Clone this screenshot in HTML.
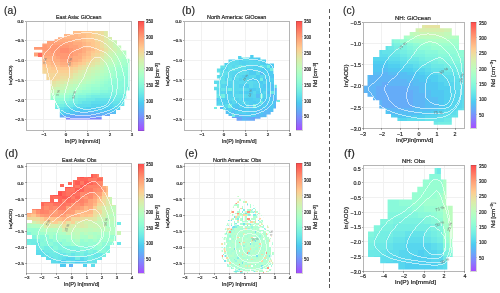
<!DOCTYPE html><html><head><meta charset="utf-8"><style>
html,body{margin:0;padding:0;background:#fff;width:500px;height:293px;overflow:hidden;}
body{position:relative;font-family:"Liberation Sans",sans-serif;color:#222;}
svg{position:absolute;left:0;top:0;}
.g{stroke:#efefef;stroke-width:0.9;}
.fr{fill:none;stroke:#a3a3a3;stroke-width:0.8;}
.tk{stroke:#555;stroke-width:0.5;}.tkc{stroke:#aaa;stroke-width:0.5;}
.ct{fill:none;stroke:#fff;stroke-width:0.75;stroke-opacity:0.8;}
.dl{stroke:#555;stroke-width:1.1;stroke-dasharray:3.7 2.55;}
.t{position:absolute;white-space:nowrap;line-height:1;}.cl{position:absolute;white-space:nowrap;line-height:1;color:#707070;font-family:"Liberation Sans",sans-serif;}
.t{color:#222;-webkit-text-stroke:0.2px #222;}
</style></head><body>
<svg width="500" height="293" viewBox="0 0 500 293" shape-rendering="crispEdges"><defs><linearGradient id="cbg" x1="0" y1="0" x2="0" y2="1"><stop offset="0" stop-color="#ff4d4d"/><stop offset="0.05" stop-color="#ff685b"/><stop offset="0.1" stop-color="#ff8468"/><stop offset="0.15" stop-color="#ff9e76"/><stop offset="0.2" stop-color="#ffb584"/><stop offset="0.25" stop-color="#ffcb91"/><stop offset="0.3" stop-color="#eddd9e"/><stop offset="0.35" stop-color="#dbecaa"/><stop offset="0.4" stop-color="#c9f6b5"/><stop offset="0.45" stop-color="#b8fdc0"/><stop offset="0.5" stop-color="#a6ffcb"/><stop offset="0.55" stop-color="#94fdd4"/><stop offset="0.6" stop-color="#82f6dd"/><stop offset="0.65" stop-color="#70ece5"/><stop offset="0.7" stop-color="#5eddec"/><stop offset="0.75" stop-color="#4dcbf1"/><stop offset="0.8" stop-color="#5eb5f6"/><stop offset="0.85" stop-color="#709efa"/><stop offset="0.9" stop-color="#8284fd"/><stop offset="0.95" stop-color="#9468fe"/><stop offset="1" stop-color="#a64dff"/></linearGradient></defs>
<g shape-rendering="crispEdges">
<line x1="43.83" y1="21" x2="43.83" y2="130.5" class="g"/>
<line x1="65.75" y1="21" x2="65.75" y2="130.5" class="g"/>
<line x1="87.67" y1="21" x2="87.67" y2="130.5" class="g"/>
<line x1="109.58" y1="21" x2="109.58" y2="130.5" class="g"/>
<line x1="26.3" y1="40.69" x2="131.5" y2="40.69" class="g"/>
<line x1="26.3" y1="60.39" x2="131.5" y2="60.39" class="g"/>
<line x1="26.3" y1="80.08" x2="131.5" y2="80.08" class="g"/>
<line x1="26.3" y1="99.78" x2="131.5" y2="99.78" class="g"/>
<line x1="26.3" y1="119.47" x2="131.5" y2="119.47" class="g"/>
<clipPath id="cp0"><polygon points="33.5,47 42.3,47 42.3,43.4 47,43.4 47,41 54.6,41 54.6,39.3 58,39.3 58,37.2 64,37.2 64,34 73,34 73,31 107.9,31 107.9,37 112,37 112,40.3 117,40.3 117,45.4 121.2,45.4 121.2,50.5 126.3,50.5 126.3,58.7 129.5,58.7 129.5,90.5 126.3,90.5 126.3,98.7 124.3,98.7 124.3,105.9 120.2,105.9 120.2,110 116,110 116,114 110,114 110,116 101.7,116 101.7,119.5 66,119.5 66,117.4 59.8,117.4 59.8,108.9 55,108.9 55,100 50.5,100 50.5,80 46.4,80 46.4,73.7 42.4,73.7 42.3,56.6 33.5,56.6 33.5,52.5 42.3,52.5 42.3,49.8 33.5,49.8"/></clipPath>
<g clip-path="url(#cp0)">
<rect x="33.5" y="31" width="26.4" height="2.8" fill="#ffb584"/>
<rect x="59.9" y="31" width="22" height="2.8" fill="#ffbe89"/>
<rect x="81.9" y="31" width="8.8" height="2.8" fill="#ffc78e"/>
<rect x="90.7" y="31" width="4.4" height="2.8" fill="#fbcf93"/>
<rect x="95.1" y="31" width="4.4" height="2.8" fill="#f4d699"/>
<rect x="99.5" y="31" width="4.4" height="2.8" fill="#eddd9e"/>
<rect x="103.9" y="31" width="4.4" height="2.8" fill="#dfe9a7"/>
<rect x="108.3" y="31" width="4.4" height="2.8" fill="#d8eeac"/>
<rect x="112.7" y="31" width="4.4" height="2.8" fill="#d1f2b1"/>
<rect x="117.1" y="31" width="4.4" height="2.8" fill="#c9f6b5"/>
<rect x="121.5" y="31" width="8.8" height="2.8" fill="#c2f9ba"/>
<rect x="33.5" y="33.8" width="17.6" height="2.8" fill="#ffac7e"/>
<rect x="51.1" y="33.8" width="26.4" height="2.8" fill="#ffb584"/>
<rect x="77.5" y="33.8" width="8.8" height="2.8" fill="#ffbe89"/>
<rect x="86.3" y="33.8" width="4.4" height="2.8" fill="#ffc78e"/>
<rect x="90.7" y="33.8" width="4.4" height="2.8" fill="#fbcf93"/>
<rect x="95.1" y="33.8" width="4.4" height="2.8" fill="#f4d699"/>
<rect x="99.5" y="33.8" width="4.4" height="2.8" fill="#eddd9e"/>
<rect x="103.9" y="33.8" width="4.4" height="2.8" fill="#dfe9a7"/>
<rect x="108.3" y="33.8" width="4.4" height="2.8" fill="#d8eeac"/>
<rect x="112.7" y="33.8" width="4.4" height="2.8" fill="#d1f2b1"/>
<rect x="117.1" y="33.8" width="4.4" height="2.8" fill="#c9f6b5"/>
<rect x="121.5" y="33.8" width="8.8" height="2.8" fill="#c2f9ba"/>
<rect x="33.5" y="36.6" width="30.8" height="2.8" fill="#ffac7e"/>
<rect x="64.3" y="36.6" width="17.6" height="2.8" fill="#ffb584"/>
<rect x="81.9" y="36.6" width="4.4" height="2.8" fill="#ffbe89"/>
<rect x="86.3" y="36.6" width="4.4" height="2.8" fill="#ffc78e"/>
<rect x="90.7" y="36.6" width="4.4" height="2.8" fill="#fbcf93"/>
<rect x="95.1" y="36.6" width="4.4" height="2.8" fill="#f4d699"/>
<rect x="99.5" y="36.6" width="4.4" height="2.8" fill="#eddd9e"/>
<rect x="103.9" y="36.6" width="4.4" height="2.8" fill="#dfe9a7"/>
<rect x="108.3" y="36.6" width="4.4" height="2.8" fill="#d8eeac"/>
<rect x="112.7" y="36.6" width="4.4" height="2.8" fill="#d1f2b1"/>
<rect x="117.1" y="36.6" width="4.4" height="2.8" fill="#c9f6b5"/>
<rect x="121.5" y="36.6" width="4.4" height="2.8" fill="#c2f9ba"/>
<rect x="125.9" y="36.6" width="4.4" height="2.8" fill="#bbfcbe"/>
<rect x="33.5" y="39.4" width="22" height="2.8" fill="#ffa279"/>
<rect x="55.5" y="39.4" width="17.6" height="2.8" fill="#ffac7e"/>
<rect x="73.1" y="39.4" width="8.8" height="2.8" fill="#ffb584"/>
<rect x="81.9" y="39.4" width="4.4" height="2.8" fill="#ffbe89"/>
<rect x="86.3" y="39.4" width="8.8" height="2.8" fill="#ffc78e"/>
<rect x="95.1" y="39.4" width="4.4" height="2.8" fill="#f4d699"/>
<rect x="99.5" y="39.4" width="4.4" height="2.8" fill="#eddd9e"/>
<rect x="103.9" y="39.4" width="4.4" height="2.8" fill="#dfe9a7"/>
<rect x="108.3" y="39.4" width="4.4" height="2.8" fill="#d1f2b1"/>
<rect x="112.7" y="39.4" width="4.4" height="2.8" fill="#c9f6b5"/>
<rect x="117.1" y="39.4" width="4.4" height="2.8" fill="#c2f9ba"/>
<rect x="121.5" y="39.4" width="8.8" height="2.8" fill="#bbfcbe"/>
<rect x="33.5" y="42.2" width="39.6" height="2.8" fill="#ffa279"/>
<rect x="73.1" y="42.2" width="8.8" height="2.8" fill="#ffac7e"/>
<rect x="81.9" y="42.2" width="4.4" height="2.8" fill="#ffb584"/>
<rect x="86.3" y="42.2" width="4.4" height="2.8" fill="#ffbe89"/>
<rect x="90.7" y="42.2" width="4.4" height="2.8" fill="#ffc78e"/>
<rect x="95.1" y="42.2" width="4.4" height="2.8" fill="#fbcf93"/>
<rect x="99.5" y="42.2" width="4.4" height="2.8" fill="#eddd9e"/>
<rect x="103.9" y="42.2" width="4.4" height="2.8" fill="#dfe9a7"/>
<rect x="108.3" y="42.2" width="4.4" height="2.8" fill="#d8eeac"/>
<rect x="112.7" y="42.2" width="4.4" height="2.8" fill="#c9f6b5"/>
<rect x="117.1" y="42.2" width="4.4" height="2.8" fill="#c2f9ba"/>
<rect x="121.5" y="42.2" width="8.8" height="2.8" fill="#bbfcbe"/>
<rect x="33.5" y="45" width="13.2" height="2.8" fill="#ff9973"/>
<rect x="46.7" y="45" width="4.4" height="2.8" fill="#ffa279"/>
<rect x="51.1" y="45" width="17.6" height="2.8" fill="#ff9973"/>
<rect x="68.7" y="45" width="8.8" height="2.8" fill="#ffa279"/>
<rect x="77.5" y="45" width="4.4" height="2.8" fill="#ffac7e"/>
<rect x="81.9" y="45" width="4.4" height="2.8" fill="#ffb584"/>
<rect x="86.3" y="45" width="4.4" height="2.8" fill="#ffbe89"/>
<rect x="90.7" y="45" width="4.4" height="2.8" fill="#ffc78e"/>
<rect x="95.1" y="45" width="4.4" height="2.8" fill="#fbcf93"/>
<rect x="99.5" y="45" width="4.4" height="2.8" fill="#eddd9e"/>
<rect x="103.9" y="45" width="4.4" height="2.8" fill="#dfe9a7"/>
<rect x="108.3" y="45" width="4.4" height="2.8" fill="#d8eeac"/>
<rect x="112.7" y="45" width="4.4" height="2.8" fill="#c9f6b5"/>
<rect x="117.1" y="45" width="4.4" height="2.8" fill="#c2f9ba"/>
<rect x="121.5" y="45" width="8.8" height="2.8" fill="#bbfcbe"/>
<rect x="33.5" y="47.8" width="26.4" height="2.8" fill="#ff9973"/>
<rect x="59.9" y="47.8" width="8.8" height="2.8" fill="#ff8e6e"/>
<rect x="68.7" y="47.8" width="4.4" height="2.8" fill="#ff9973"/>
<rect x="73.1" y="47.8" width="8.8" height="2.8" fill="#ffa279"/>
<rect x="81.9" y="47.8" width="4.4" height="2.8" fill="#ffac7e"/>
<rect x="86.3" y="47.8" width="4.4" height="2.8" fill="#ffb584"/>
<rect x="90.7" y="47.8" width="4.4" height="2.8" fill="#ffbe89"/>
<rect x="95.1" y="47.8" width="4.4" height="2.8" fill="#fbcf93"/>
<rect x="99.5" y="47.8" width="4.4" height="2.8" fill="#f4d699"/>
<rect x="103.9" y="47.8" width="4.4" height="2.8" fill="#e6e3a2"/>
<rect x="108.3" y="47.8" width="4.4" height="2.8" fill="#d8eeac"/>
<rect x="112.7" y="47.8" width="4.4" height="2.8" fill="#d1f2b1"/>
<rect x="117.1" y="47.8" width="4.4" height="2.8" fill="#c2f9ba"/>
<rect x="121.5" y="47.8" width="8.8" height="2.8" fill="#bbfcbe"/>
<rect x="33.5" y="50.6" width="17.6" height="2.8" fill="#ffa279"/>
<rect x="51.1" y="50.6" width="8.8" height="2.8" fill="#ff9973"/>
<rect x="59.9" y="50.6" width="8.8" height="2.8" fill="#ff8e6e"/>
<rect x="68.7" y="50.6" width="4.4" height="2.8" fill="#ff9973"/>
<rect x="73.1" y="50.6" width="8.8" height="2.8" fill="#ffa279"/>
<rect x="81.9" y="50.6" width="4.4" height="2.8" fill="#ffac7e"/>
<rect x="86.3" y="50.6" width="4.4" height="2.8" fill="#ffbe89"/>
<rect x="90.7" y="50.6" width="4.4" height="2.8" fill="#ffc78e"/>
<rect x="95.1" y="50.6" width="4.4" height="2.8" fill="#fbcf93"/>
<rect x="99.5" y="50.6" width="4.4" height="2.8" fill="#eddd9e"/>
<rect x="103.9" y="50.6" width="4.4" height="2.8" fill="#dfe9a7"/>
<rect x="108.3" y="50.6" width="4.4" height="2.8" fill="#d1f2b1"/>
<rect x="112.7" y="50.6" width="4.4" height="2.8" fill="#c9f6b5"/>
<rect x="117.1" y="50.6" width="4.4" height="2.8" fill="#c2f9ba"/>
<rect x="121.5" y="50.6" width="8.8" height="2.8" fill="#b4fec3"/>
<rect x="33.5" y="53.4" width="22" height="2.8" fill="#ffa279"/>
<rect x="55.5" y="53.4" width="17.6" height="2.8" fill="#ff9973"/>
<rect x="73.1" y="53.4" width="4.4" height="2.8" fill="#ffa279"/>
<rect x="77.5" y="53.4" width="4.4" height="2.8" fill="#ffac7e"/>
<rect x="81.9" y="53.4" width="4.4" height="2.8" fill="#ffb584"/>
<rect x="86.3" y="53.4" width="4.4" height="2.8" fill="#ffbe89"/>
<rect x="90.7" y="53.4" width="4.4" height="2.8" fill="#fbcf93"/>
<rect x="95.1" y="53.4" width="4.4" height="2.8" fill="#f4d699"/>
<rect x="99.5" y="53.4" width="4.4" height="2.8" fill="#e6e3a2"/>
<rect x="103.9" y="53.4" width="4.4" height="2.8" fill="#d8eeac"/>
<rect x="108.3" y="53.4" width="4.4" height="2.8" fill="#c9f6b5"/>
<rect x="112.7" y="53.4" width="4.4" height="2.8" fill="#c2f9ba"/>
<rect x="117.1" y="53.4" width="4.4" height="2.8" fill="#bbfcbe"/>
<rect x="121.5" y="53.4" width="4.4" height="2.8" fill="#b4fec3"/>
<rect x="125.9" y="53.4" width="4.4" height="2.8" fill="#adffc7"/>
<rect x="33.5" y="56.2" width="22" height="2.8" fill="#ffac7e"/>
<rect x="55.5" y="56.2" width="4.4" height="2.8" fill="#ffa279"/>
<rect x="59.9" y="56.2" width="8.8" height="2.8" fill="#ff9973"/>
<rect x="68.7" y="56.2" width="4.4" height="2.8" fill="#ffa279"/>
<rect x="73.1" y="56.2" width="8.8" height="2.8" fill="#ffac7e"/>
<rect x="81.9" y="56.2" width="4.4" height="2.8" fill="#ffbe89"/>
<rect x="86.3" y="56.2" width="4.4" height="2.8" fill="#ffc78e"/>
<rect x="90.7" y="56.2" width="4.4" height="2.8" fill="#f4d699"/>
<rect x="95.1" y="56.2" width="4.4" height="2.8" fill="#eddd9e"/>
<rect x="99.5" y="56.2" width="4.4" height="2.8" fill="#dfe9a7"/>
<rect x="103.9" y="56.2" width="4.4" height="2.8" fill="#d1f2b1"/>
<rect x="108.3" y="56.2" width="4.4" height="2.8" fill="#c9f6b5"/>
<rect x="112.7" y="56.2" width="4.4" height="2.8" fill="#bbfcbe"/>
<rect x="117.1" y="56.2" width="4.4" height="2.8" fill="#b4fec3"/>
<rect x="121.5" y="56.2" width="8.8" height="2.8" fill="#adffc7"/>
<rect x="33.5" y="59" width="17.6" height="2.8" fill="#ffb584"/>
<rect x="51.1" y="59" width="8.8" height="2.8" fill="#ffac7e"/>
<rect x="59.9" y="59" width="13.2" height="2.8" fill="#ffa279"/>
<rect x="73.1" y="59" width="4.4" height="2.8" fill="#ffac7e"/>
<rect x="77.5" y="59" width="4.4" height="2.8" fill="#ffb584"/>
<rect x="81.9" y="59" width="4.4" height="2.8" fill="#ffc78e"/>
<rect x="86.3" y="59" width="4.4" height="2.8" fill="#fbcf93"/>
<rect x="90.7" y="59" width="4.4" height="2.8" fill="#eddd9e"/>
<rect x="95.1" y="59" width="4.4" height="2.8" fill="#e6e3a2"/>
<rect x="99.5" y="59" width="4.4" height="2.8" fill="#d8eeac"/>
<rect x="103.9" y="59" width="4.4" height="2.8" fill="#c9f6b5"/>
<rect x="108.3" y="59" width="4.4" height="2.8" fill="#c2f9ba"/>
<rect x="112.7" y="59" width="4.4" height="2.8" fill="#bbfcbe"/>
<rect x="117.1" y="59" width="4.4" height="2.8" fill="#adffc7"/>
<rect x="121.5" y="59" width="8.8" height="2.8" fill="#a6ffcb"/>
<rect x="33.5" y="61.8" width="17.6" height="2.8" fill="#ffbe89"/>
<rect x="51.1" y="61.8" width="8.8" height="2.8" fill="#ffb584"/>
<rect x="59.9" y="61.8" width="8.8" height="2.8" fill="#ffac7e"/>
<rect x="68.7" y="61.8" width="4.4" height="2.8" fill="#ffb584"/>
<rect x="73.1" y="61.8" width="4.4" height="2.8" fill="#ffbe89"/>
<rect x="77.5" y="61.8" width="4.4" height="2.8" fill="#ffc78e"/>
<rect x="81.9" y="61.8" width="4.4" height="2.8" fill="#fbcf93"/>
<rect x="86.3" y="61.8" width="4.4" height="2.8" fill="#eddd9e"/>
<rect x="90.7" y="61.8" width="4.4" height="2.8" fill="#e6e3a2"/>
<rect x="95.1" y="61.8" width="4.4" height="2.8" fill="#dfe9a7"/>
<rect x="99.5" y="61.8" width="4.4" height="2.8" fill="#d1f2b1"/>
<rect x="103.9" y="61.8" width="4.4" height="2.8" fill="#c2f9ba"/>
<rect x="108.3" y="61.8" width="4.4" height="2.8" fill="#bbfcbe"/>
<rect x="112.7" y="61.8" width="4.4" height="2.8" fill="#b4fec3"/>
<rect x="117.1" y="61.8" width="4.4" height="2.8" fill="#adffc7"/>
<rect x="121.5" y="61.8" width="4.4" height="2.8" fill="#a6ffcb"/>
<rect x="125.9" y="61.8" width="4.4" height="2.8" fill="#9fffcf"/>
<rect x="33.5" y="64.6" width="17.6" height="2.8" fill="#ffc78e"/>
<rect x="51.1" y="64.6" width="8.8" height="2.8" fill="#ffbe89"/>
<rect x="59.9" y="64.6" width="8.8" height="2.8" fill="#ffb584"/>
<rect x="68.7" y="64.6" width="4.4" height="2.8" fill="#ffbe89"/>
<rect x="73.1" y="64.6" width="4.4" height="2.8" fill="#ffc78e"/>
<rect x="77.5" y="64.6" width="4.4" height="2.8" fill="#f4d699"/>
<rect x="81.9" y="64.6" width="4.4" height="2.8" fill="#eddd9e"/>
<rect x="86.3" y="64.6" width="4.4" height="2.8" fill="#e6e3a2"/>
<rect x="90.7" y="64.6" width="4.4" height="2.8" fill="#dfe9a7"/>
<rect x="95.1" y="64.6" width="4.4" height="2.8" fill="#d1f2b1"/>
<rect x="99.5" y="64.6" width="4.4" height="2.8" fill="#c9f6b5"/>
<rect x="103.9" y="64.6" width="4.4" height="2.8" fill="#bbfcbe"/>
<rect x="108.3" y="64.6" width="4.4" height="2.8" fill="#b4fec3"/>
<rect x="112.7" y="64.6" width="4.4" height="2.8" fill="#adffc7"/>
<rect x="117.1" y="64.6" width="4.4" height="2.8" fill="#a6ffcb"/>
<rect x="121.5" y="64.6" width="8.8" height="2.8" fill="#9fffcf"/>
<rect x="33.5" y="67.4" width="17.6" height="2.8" fill="#fbcf93"/>
<rect x="51.1" y="67.4" width="17.6" height="2.8" fill="#ffc78e"/>
<rect x="68.7" y="67.4" width="4.4" height="2.8" fill="#fbcf93"/>
<rect x="73.1" y="67.4" width="4.4" height="2.8" fill="#f4d699"/>
<rect x="77.5" y="67.4" width="4.4" height="2.8" fill="#eddd9e"/>
<rect x="81.9" y="67.4" width="4.4" height="2.8" fill="#e6e3a2"/>
<rect x="86.3" y="67.4" width="4.4" height="2.8" fill="#d8eeac"/>
<rect x="90.7" y="67.4" width="4.4" height="2.8" fill="#d1f2b1"/>
<rect x="95.1" y="67.4" width="4.4" height="2.8" fill="#c9f6b5"/>
<rect x="99.5" y="67.4" width="4.4" height="2.8" fill="#c2f9ba"/>
<rect x="103.9" y="67.4" width="4.4" height="2.8" fill="#b4fec3"/>
<rect x="108.3" y="67.4" width="4.4" height="2.8" fill="#adffc7"/>
<rect x="112.7" y="67.4" width="4.4" height="2.8" fill="#a6ffcb"/>
<rect x="117.1" y="67.4" width="4.4" height="2.8" fill="#9fffcf"/>
<rect x="121.5" y="67.4" width="8.8" height="2.8" fill="#97fed2"/>
<rect x="33.5" y="70.2" width="13.2" height="2.8" fill="#f4d699"/>
<rect x="46.7" y="70.2" width="22" height="2.8" fill="#fbcf93"/>
<rect x="68.7" y="70.2" width="4.4" height="2.8" fill="#f4d699"/>
<rect x="73.1" y="70.2" width="4.4" height="2.8" fill="#eddd9e"/>
<rect x="77.5" y="70.2" width="4.4" height="2.8" fill="#dfe9a7"/>
<rect x="81.9" y="70.2" width="4.4" height="2.8" fill="#d8eeac"/>
<rect x="86.3" y="70.2" width="4.4" height="2.8" fill="#d1f2b1"/>
<rect x="90.7" y="70.2" width="4.4" height="2.8" fill="#c9f6b5"/>
<rect x="95.1" y="70.2" width="4.4" height="2.8" fill="#c2f9ba"/>
<rect x="99.5" y="70.2" width="4.4" height="2.8" fill="#bbfcbe"/>
<rect x="103.9" y="70.2" width="4.4" height="2.8" fill="#b4fec3"/>
<rect x="108.3" y="70.2" width="4.4" height="2.8" fill="#a6ffcb"/>
<rect x="112.7" y="70.2" width="4.4" height="2.8" fill="#9fffcf"/>
<rect x="117.1" y="70.2" width="8.8" height="2.8" fill="#97fed2"/>
<rect x="125.9" y="70.2" width="4.4" height="2.8" fill="#90fcd6"/>
<rect x="33.5" y="73" width="35.2" height="2.8" fill="#f4d699"/>
<rect x="68.7" y="73" width="4.4" height="2.8" fill="#eddd9e"/>
<rect x="73.1" y="73" width="4.4" height="2.8" fill="#dfe9a7"/>
<rect x="77.5" y="73" width="4.4" height="2.8" fill="#d8eeac"/>
<rect x="81.9" y="73" width="4.4" height="2.8" fill="#d1f2b1"/>
<rect x="86.3" y="73" width="4.4" height="2.8" fill="#c9f6b5"/>
<rect x="90.7" y="73" width="4.4" height="2.8" fill="#c2f9ba"/>
<rect x="95.1" y="73" width="4.4" height="2.8" fill="#bbfcbe"/>
<rect x="99.5" y="73" width="4.4" height="2.8" fill="#b4fec3"/>
<rect x="103.9" y="73" width="4.4" height="2.8" fill="#adffc7"/>
<rect x="108.3" y="73" width="4.4" height="2.8" fill="#a6ffcb"/>
<rect x="112.7" y="73" width="4.4" height="2.8" fill="#9fffcf"/>
<rect x="117.1" y="73" width="4.4" height="2.8" fill="#97fed2"/>
<rect x="121.5" y="73" width="8.8" height="2.8" fill="#90fcd6"/>
<rect x="33.5" y="75.8" width="4.4" height="2.8" fill="#eddd9e"/>
<rect x="37.9" y="75.8" width="22" height="2.8" fill="#f4d699"/>
<rect x="59.9" y="75.8" width="8.8" height="2.8" fill="#eddd9e"/>
<rect x="68.7" y="75.8" width="4.4" height="2.8" fill="#e6e3a2"/>
<rect x="73.1" y="75.8" width="4.4" height="2.8" fill="#d8eeac"/>
<rect x="77.5" y="75.8" width="4.4" height="2.8" fill="#d1f2b1"/>
<rect x="81.9" y="75.8" width="4.4" height="2.8" fill="#c9f6b5"/>
<rect x="86.3" y="75.8" width="4.4" height="2.8" fill="#c2f9ba"/>
<rect x="90.7" y="75.8" width="4.4" height="2.8" fill="#bbfcbe"/>
<rect x="95.1" y="75.8" width="4.4" height="2.8" fill="#b4fec3"/>
<rect x="99.5" y="75.8" width="4.4" height="2.8" fill="#adffc7"/>
<rect x="103.9" y="75.8" width="4.4" height="2.8" fill="#a6ffcb"/>
<rect x="108.3" y="75.8" width="4.4" height="2.8" fill="#9fffcf"/>
<rect x="112.7" y="75.8" width="4.4" height="2.8" fill="#97fed2"/>
<rect x="117.1" y="75.8" width="8.8" height="2.8" fill="#90fcd6"/>
<rect x="125.9" y="75.8" width="4.4" height="2.8" fill="#89f9da"/>
<rect x="33.5" y="78.6" width="8.8" height="2.8" fill="#eddd9e"/>
<rect x="42.3" y="78.6" width="13.2" height="2.8" fill="#f4d699"/>
<rect x="55.5" y="78.6" width="4.4" height="2.8" fill="#eddd9e"/>
<rect x="59.9" y="78.6" width="8.8" height="2.8" fill="#e6e3a2"/>
<rect x="68.7" y="78.6" width="4.4" height="2.8" fill="#d8eeac"/>
<rect x="73.1" y="78.6" width="4.4" height="2.8" fill="#d1f2b1"/>
<rect x="77.5" y="78.6" width="4.4" height="2.8" fill="#c9f6b5"/>
<rect x="81.9" y="78.6" width="4.4" height="2.8" fill="#c2f9ba"/>
<rect x="86.3" y="78.6" width="4.4" height="2.8" fill="#bbfcbe"/>
<rect x="90.7" y="78.6" width="4.4" height="2.8" fill="#b4fec3"/>
<rect x="95.1" y="78.6" width="4.4" height="2.8" fill="#adffc7"/>
<rect x="99.5" y="78.6" width="4.4" height="2.8" fill="#a6ffcb"/>
<rect x="103.9" y="78.6" width="4.4" height="2.8" fill="#9fffcf"/>
<rect x="108.3" y="78.6" width="4.4" height="2.8" fill="#97fed2"/>
<rect x="112.7" y="78.6" width="8.8" height="2.8" fill="#90fcd6"/>
<rect x="121.5" y="78.6" width="8.8" height="2.8" fill="#89f9da"/>
<rect x="33.5" y="81.4" width="13.2" height="2.8" fill="#e6e3a2"/>
<rect x="46.7" y="81.4" width="4.4" height="2.8" fill="#eddd9e"/>
<rect x="51.1" y="81.4" width="4.4" height="2.8" fill="#e6e3a2"/>
<rect x="55.5" y="81.4" width="8.8" height="2.8" fill="#dfe9a7"/>
<rect x="64.3" y="81.4" width="4.4" height="2.8" fill="#d8eeac"/>
<rect x="68.7" y="81.4" width="4.4" height="2.8" fill="#d1f2b1"/>
<rect x="73.1" y="81.4" width="4.4" height="2.8" fill="#c9f6b5"/>
<rect x="77.5" y="81.4" width="4.4" height="2.8" fill="#c2f9ba"/>
<rect x="81.9" y="81.4" width="4.4" height="2.8" fill="#bbfcbe"/>
<rect x="86.3" y="81.4" width="4.4" height="2.8" fill="#b4fec3"/>
<rect x="90.7" y="81.4" width="4.4" height="2.8" fill="#adffc7"/>
<rect x="95.1" y="81.4" width="4.4" height="2.8" fill="#a6ffcb"/>
<rect x="99.5" y="81.4" width="4.4" height="2.8" fill="#9fffcf"/>
<rect x="103.9" y="81.4" width="4.4" height="2.8" fill="#97fed2"/>
<rect x="108.3" y="81.4" width="8.8" height="2.8" fill="#90fcd6"/>
<rect x="117.1" y="81.4" width="13.2" height="2.8" fill="#89f9da"/>
<rect x="33.5" y="84.2" width="22" height="2.8" fill="#dfe9a7"/>
<rect x="55.5" y="84.2" width="4.4" height="2.8" fill="#d8eeac"/>
<rect x="59.9" y="84.2" width="4.4" height="2.8" fill="#d1f2b1"/>
<rect x="64.3" y="84.2" width="4.4" height="2.8" fill="#c9f6b5"/>
<rect x="68.7" y="84.2" width="4.4" height="2.8" fill="#c2f9ba"/>
<rect x="73.1" y="84.2" width="4.4" height="2.8" fill="#bbfcbe"/>
<rect x="77.5" y="84.2" width="4.4" height="2.8" fill="#b4fec3"/>
<rect x="81.9" y="84.2" width="4.4" height="2.8" fill="#adffc7"/>
<rect x="86.3" y="84.2" width="4.4" height="2.8" fill="#a6ffcb"/>
<rect x="90.7" y="84.2" width="8.8" height="2.8" fill="#9fffcf"/>
<rect x="99.5" y="84.2" width="4.4" height="2.8" fill="#97fed2"/>
<rect x="103.9" y="84.2" width="8.8" height="2.8" fill="#90fcd6"/>
<rect x="112.7" y="84.2" width="13.2" height="2.8" fill="#89f9da"/>
<rect x="125.9" y="84.2" width="4.4" height="2.8" fill="#82f6dd"/>
<rect x="33.5" y="87" width="17.6" height="2.8" fill="#d8eeac"/>
<rect x="51.1" y="87" width="4.4" height="2.8" fill="#d1f2b1"/>
<rect x="55.5" y="87" width="8.8" height="2.8" fill="#c9f6b5"/>
<rect x="64.3" y="87" width="4.4" height="2.8" fill="#c2f9ba"/>
<rect x="68.7" y="87" width="4.4" height="2.8" fill="#bbfcbe"/>
<rect x="73.1" y="87" width="4.4" height="2.8" fill="#b4fec3"/>
<rect x="77.5" y="87" width="4.4" height="2.8" fill="#adffc7"/>
<rect x="81.9" y="87" width="4.4" height="2.8" fill="#a6ffcb"/>
<rect x="86.3" y="87" width="4.4" height="2.8" fill="#9fffcf"/>
<rect x="90.7" y="87" width="8.8" height="2.8" fill="#97fed2"/>
<rect x="99.5" y="87" width="8.8" height="2.8" fill="#90fcd6"/>
<rect x="108.3" y="87" width="13.2" height="2.8" fill="#89f9da"/>
<rect x="121.5" y="87" width="8.8" height="2.8" fill="#82f6dd"/>
<rect x="33.5" y="89.8" width="8.8" height="2.8" fill="#d1f2b1"/>
<rect x="42.3" y="89.8" width="8.8" height="2.8" fill="#c9f6b5"/>
<rect x="51.1" y="89.8" width="8.8" height="2.8" fill="#c2f9ba"/>
<rect x="59.9" y="89.8" width="4.4" height="2.8" fill="#bbfcbe"/>
<rect x="64.3" y="89.8" width="4.4" height="2.8" fill="#b4fec3"/>
<rect x="68.7" y="89.8" width="4.4" height="2.8" fill="#adffc7"/>
<rect x="73.1" y="89.8" width="4.4" height="2.8" fill="#a6ffcb"/>
<rect x="77.5" y="89.8" width="4.4" height="2.8" fill="#9fffcf"/>
<rect x="81.9" y="89.8" width="8.8" height="2.8" fill="#97fed2"/>
<rect x="90.7" y="89.8" width="8.8" height="2.8" fill="#90fcd6"/>
<rect x="99.5" y="89.8" width="8.8" height="2.8" fill="#89f9da"/>
<rect x="108.3" y="89.8" width="22" height="2.8" fill="#82f6dd"/>
<rect x="33.5" y="92.6" width="8.8" height="2.8" fill="#c2f9ba"/>
<rect x="42.3" y="92.6" width="8.8" height="2.8" fill="#bbfcbe"/>
<rect x="51.1" y="92.6" width="4.4" height="2.8" fill="#b4fec3"/>
<rect x="55.5" y="92.6" width="8.8" height="2.8" fill="#adffc7"/>
<rect x="64.3" y="92.6" width="4.4" height="2.8" fill="#a6ffcb"/>
<rect x="68.7" y="92.6" width="4.4" height="2.8" fill="#9fffcf"/>
<rect x="73.1" y="92.6" width="4.4" height="2.8" fill="#97fed2"/>
<rect x="77.5" y="92.6" width="8.8" height="2.8" fill="#90fcd6"/>
<rect x="86.3" y="92.6" width="4.4" height="2.8" fill="#89f9da"/>
<rect x="90.7" y="92.6" width="8.8" height="2.8" fill="#82f6dd"/>
<rect x="99.5" y="92.6" width="30.8" height="2.8" fill="#7bf2e0"/>
<rect x="33.5" y="95.4" width="8.8" height="2.8" fill="#b4fec3"/>
<rect x="42.3" y="95.4" width="8.8" height="2.8" fill="#adffc7"/>
<rect x="51.1" y="95.4" width="4.4" height="2.8" fill="#a6ffcb"/>
<rect x="55.5" y="95.4" width="8.8" height="2.8" fill="#9fffcf"/>
<rect x="64.3" y="95.4" width="4.4" height="2.8" fill="#97fed2"/>
<rect x="68.7" y="95.4" width="4.4" height="2.8" fill="#90fcd6"/>
<rect x="73.1" y="95.4" width="4.4" height="2.8" fill="#89f9da"/>
<rect x="77.5" y="95.4" width="8.8" height="2.8" fill="#82f6dd"/>
<rect x="86.3" y="95.4" width="4.4" height="2.8" fill="#7bf2e0"/>
<rect x="90.7" y="95.4" width="39.6" height="2.8" fill="#74eee3"/>
<rect x="33.5" y="98.2" width="8.8" height="2.8" fill="#a6ffcb"/>
<rect x="42.3" y="98.2" width="4.4" height="2.8" fill="#9fffcf"/>
<rect x="46.7" y="98.2" width="8.8" height="2.8" fill="#97fed2"/>
<rect x="55.5" y="98.2" width="8.8" height="2.8" fill="#90fcd6"/>
<rect x="64.3" y="98.2" width="4.4" height="2.8" fill="#89f9da"/>
<rect x="68.7" y="98.2" width="4.4" height="2.8" fill="#82f6dd"/>
<rect x="73.1" y="98.2" width="4.4" height="2.8" fill="#7bf2e0"/>
<rect x="77.5" y="98.2" width="8.8" height="2.8" fill="#74eee3"/>
<rect x="86.3" y="98.2" width="8.8" height="2.8" fill="#6de9e6"/>
<rect x="95.1" y="98.2" width="17.6" height="2.8" fill="#65e3e9"/>
<rect x="112.7" y="98.2" width="17.6" height="2.8" fill="#6de9e6"/>
<rect x="33.5" y="101" width="8.8" height="2.8" fill="#97fed2"/>
<rect x="42.3" y="101" width="8.8" height="2.8" fill="#90fcd6"/>
<rect x="51.1" y="101" width="8.8" height="2.8" fill="#89f9da"/>
<rect x="59.9" y="101" width="4.4" height="2.8" fill="#82f6dd"/>
<rect x="64.3" y="101" width="4.4" height="2.8" fill="#7bf2e0"/>
<rect x="68.7" y="101" width="8.8" height="2.8" fill="#74eee3"/>
<rect x="77.5" y="101" width="4.4" height="2.8" fill="#6de9e6"/>
<rect x="81.9" y="101" width="8.8" height="2.8" fill="#65e3e9"/>
<rect x="90.7" y="101" width="22" height="2.8" fill="#5eddec"/>
<rect x="112.7" y="101" width="17.6" height="2.8" fill="#65e3e9"/>
<rect x="33.5" y="103.8" width="4.4" height="2.8" fill="#90fcd6"/>
<rect x="37.9" y="103.8" width="8.8" height="2.8" fill="#89f9da"/>
<rect x="46.7" y="103.8" width="8.8" height="2.8" fill="#82f6dd"/>
<rect x="55.5" y="103.8" width="4.4" height="2.8" fill="#7bf2e0"/>
<rect x="59.9" y="103.8" width="4.4" height="2.8" fill="#74eee3"/>
<rect x="64.3" y="103.8" width="8.8" height="2.8" fill="#6de9e6"/>
<rect x="73.1" y="103.8" width="4.4" height="2.8" fill="#65e3e9"/>
<rect x="77.5" y="103.8" width="13.2" height="2.8" fill="#5eddec"/>
<rect x="90.7" y="103.8" width="22" height="2.8" fill="#57d6ee"/>
<rect x="112.7" y="103.8" width="8.8" height="2.8" fill="#5eddec"/>
<rect x="121.5" y="103.8" width="8.8" height="2.8" fill="#65e3e9"/>
<rect x="33.5" y="106.6" width="8.8" height="2.8" fill="#82f6dd"/>
<rect x="42.3" y="106.6" width="8.8" height="2.8" fill="#7bf2e0"/>
<rect x="51.1" y="106.6" width="4.4" height="2.8" fill="#74eee3"/>
<rect x="55.5" y="106.6" width="4.4" height="2.8" fill="#6de9e6"/>
<rect x="59.9" y="106.6" width="4.4" height="2.8" fill="#65e3e9"/>
<rect x="64.3" y="106.6" width="8.8" height="2.8" fill="#5eddec"/>
<rect x="73.1" y="106.6" width="13.2" height="2.8" fill="#57d6ee"/>
<rect x="86.3" y="106.6" width="26.4" height="2.8" fill="#50cff0"/>
<rect x="112.7" y="106.6" width="8.8" height="2.8" fill="#57d6ee"/>
<rect x="121.5" y="106.6" width="8.8" height="2.8" fill="#5eddec"/>
<rect x="33.5" y="109.4" width="4.4" height="2.8" fill="#74eee3"/>
<rect x="37.9" y="109.4" width="13.2" height="2.8" fill="#6de9e6"/>
<rect x="51.1" y="109.4" width="4.4" height="2.8" fill="#65e3e9"/>
<rect x="55.5" y="109.4" width="8.8" height="2.8" fill="#5eddec"/>
<rect x="64.3" y="109.4" width="4.4" height="2.8" fill="#57d6ee"/>
<rect x="68.7" y="109.4" width="8.8" height="2.8" fill="#50cff0"/>
<rect x="77.5" y="109.4" width="39.6" height="2.8" fill="#50c7f2"/>
<rect x="117.1" y="109.4" width="4.4" height="2.8" fill="#50cff0"/>
<rect x="121.5" y="109.4" width="8.8" height="2.8" fill="#57d6ee"/>
<rect x="33.5" y="112.2" width="13.2" height="2.8" fill="#5eddec"/>
<rect x="46.7" y="112.2" width="8.8" height="2.8" fill="#57d6ee"/>
<rect x="55.5" y="112.2" width="8.8" height="2.8" fill="#50cff0"/>
<rect x="64.3" y="112.2" width="8.8" height="2.8" fill="#50c7f2"/>
<rect x="73.1" y="112.2" width="4.4" height="2.8" fill="#57bef4"/>
<rect x="77.5" y="112.2" width="35.2" height="2.8" fill="#5eb5f6"/>
<rect x="112.7" y="112.2" width="4.4" height="2.8" fill="#57bef4"/>
<rect x="117.1" y="112.2" width="8.8" height="2.8" fill="#50c7f2"/>
<rect x="125.9" y="112.2" width="4.4" height="2.8" fill="#50cff0"/>
<rect x="33.5" y="115" width="13.2" height="2.8" fill="#57bef4"/>
<rect x="46.7" y="115" width="13.2" height="2.8" fill="#5eb5f6"/>
<rect x="59.9" y="115" width="8.8" height="2.8" fill="#65acf8"/>
<rect x="68.7" y="115" width="44" height="2.8" fill="#6da2f9"/>
<rect x="112.7" y="115" width="8.8" height="2.8" fill="#65acf8"/>
<rect x="121.5" y="115" width="8.8" height="2.8" fill="#5eb5f6"/>
<rect x="33.5" y="117.8" width="13.2" height="2.8" fill="#7499fb"/>
<rect x="46.7" y="117.8" width="8.8" height="2.8" fill="#7b8efc"/>
<rect x="55.5" y="117.8" width="48.4" height="2.8" fill="#8284fd"/>
<rect x="103.9" y="117.8" width="13.2" height="2.8" fill="#7b8efc"/>
<rect x="117.1" y="117.8" width="8.8" height="2.8" fill="#7499fb"/>
<rect x="125.9" y="117.8" width="4.4" height="2.8" fill="#6da2f9"/>
</g>
<rect x="37.5" y="52.5" width="4.5" height="4.1" fill="#ff685b"/>
<path d="M43.5 56C43.83 54.33 44.92 53.42 47 51C49.08 48.58 53.17 43.8 56 41.5C58.83 39.2 61 38.45 64 37.2C67 35.95 70.17 34.75 74 34C77.83 33.25 83 32.7 87 32.7C91 32.7 94.57 33.12 98 34C101.43 34.88 104.67 36.4 107.6 38C110.53 39.6 112.93 41.07 115.6 43.6C118.27 46.13 121.53 49.97 123.6 53.2C125.67 56.43 127.18 58.53 128 63C128.82 67.47 128.67 75.17 128.5 80C128.33 84.83 128.08 88 127 92C125.92 96 124.83 100.5 122 104C119.17 107.5 115.33 110.67 110 113C104.67 115.33 96.67 117.17 90 118C83.33 118.83 74.83 118.83 70 118C65.17 117.17 63.33 115.5 61 113C58.67 110.5 57.67 106.83 56 103C54.33 99.17 52.08 93.83 51 90C49.92 86.17 50.17 83.67 49.5 80C48.83 76.33 47.75 71.17 47 68C46.25 64.83 45.58 63 45 61C44.42 59 43.17 57.67 43.5 56Z" class="ct"/>
<path d="M54 52.8C55.37 50.25 58.4 47.13 61.2 45.2C64 43.27 67.33 42.27 70.8 41.2C74.27 40.13 78.27 39.2 82 38.8C85.73 38.4 89.73 38.27 93.2 38.8C96.67 39.33 99.87 40.4 102.8 42C105.73 43.6 108.4 46 110.8 48.4C113.2 50.8 115.33 53.13 117.2 56.4C119.07 59.67 120.7 63.23 122 68C123.3 72.77 125 79.67 125 85C125 90.33 124.17 96 122 100C119.83 104 116.33 106.67 112 109C107.67 111.33 100.67 112.88 96 114C91.33 115.12 87.5 115.53 84 115.7C80.5 115.87 78.22 115.57 75 115C71.78 114.43 67.6 113.8 64.7 112.3C61.8 110.8 59.3 108.22 57.6 106C55.9 103.78 55.18 101.55 54.5 99C53.82 96.45 54.02 93.45 53.5 90.7C52.98 87.95 51.23 84.88 51.4 82.5C51.57 80.12 53.47 78.32 54.5 76.4C55.53 74.48 57.43 72.73 57.6 71C57.77 69.27 56.27 67.75 55.5 66C54.73 64.25 53.25 62.7 53 60.5C52.75 58.3 52.63 55.35 54 52.8Z" class="ct"/>
<path d="M67.8 60C68.15 56.62 69.9 53.93 72 52C74.1 50.07 78.2 49.4 80.4 48.4C82.6 47.4 83.07 46.13 85.2 46C87.33 45.87 90.53 46.8 93.2 47.6C95.87 48.4 98.53 49.47 101.2 50.8C103.87 52.13 107.07 53.33 109.2 55.6C111.33 57.87 112.7 60.67 114 64.4C115.3 68.13 116.67 72.9 117 78C117.33 83.1 117.5 90.33 116 95C114.5 99.67 111.33 103.42 108 106C104.67 108.58 100 109.45 96 110.5C92 111.55 87.85 112.35 84 112.3C80.15 112.25 75.93 111.75 72.9 110.2C69.87 108.65 67.17 105.57 65.8 103C64.43 100.43 64.37 98.22 64.7 94.8C65.03 91.38 66.93 86.25 67.8 82.5C68.67 78.75 69.9 76.05 69.9 72.3C69.9 68.55 67.45 63.38 67.8 60Z" class="ct"/>
<path d="M83.2 78.4C84.93 74.97 86.73 69.27 88.4 66C90.07 62.73 91.6 60.27 93.2 58.8C94.8 57.33 96.4 57.07 98 57.2C99.6 57.33 101.2 58.13 102.8 59.6C104.4 61.07 106.23 62.93 107.6 66C108.97 69.07 110.27 73.67 111 78C111.73 82.33 112.67 87.67 112 92C111.33 96.33 109.67 101.33 107 104C104.33 106.67 99.83 107.13 96 108C92.17 108.87 87.5 109.7 84 109.2C80.5 108.7 76.67 107.22 75 105C73.33 102.78 73.5 98.97 74 95.9C74.5 92.83 76.47 89.52 78 86.6C79.53 83.68 81.47 81.83 83.2 78.4Z" class="ct"/>
<rect x="26.3" y="21" width="105.2" height="109.5" class="fr"/>
<line x1="43.83" y1="130.5" x2="43.83" y2="132.1" class="tk"/>
<line x1="65.75" y1="130.5" x2="65.75" y2="132.1" class="tk"/>
<line x1="87.67" y1="130.5" x2="87.67" y2="132.1" class="tk"/>
<line x1="109.58" y1="130.5" x2="109.58" y2="132.1" class="tk"/>
<line x1="131.5" y1="130.5" x2="131.5" y2="132.1" class="tk"/>
<line x1="24.7" y1="21" x2="26.3" y2="21" class="tk"/>
<line x1="24.7" y1="40.69" x2="26.3" y2="40.69" class="tk"/>
<line x1="24.7" y1="60.39" x2="26.3" y2="60.39" class="tk"/>
<line x1="24.7" y1="80.08" x2="26.3" y2="80.08" class="tk"/>
<line x1="24.7" y1="99.78" x2="26.3" y2="99.78" class="tk"/>
<line x1="24.7" y1="119.47" x2="26.3" y2="119.47" class="tk"/>
<rect x="138.2" y="21" width="5.8" height="109.7" fill="url(#cbg)" stroke="rgba(60,60,60,0.35)" stroke-width="0.6"/>
<line x1="144" y1="116.39" x2="145.2" y2="116.39" class="tkc"/>
<line x1="144" y1="100.49" x2="145.2" y2="100.49" class="tkc"/>
<line x1="144" y1="84.59" x2="145.2" y2="84.59" class="tkc"/>
<line x1="144" y1="68.7" x2="145.2" y2="68.7" class="tkc"/>
<line x1="144" y1="52.8" x2="145.2" y2="52.8" class="tkc"/>
<line x1="144" y1="36.9" x2="145.2" y2="36.9" class="tkc"/>
<line x1="144" y1="21" x2="145.2" y2="21" class="tkc"/>
<line x1="201.98" y1="21" x2="201.98" y2="130.3" class="g"/>
<line x1="223.96" y1="21" x2="223.96" y2="130.3" class="g"/>
<line x1="245.94" y1="21" x2="245.94" y2="130.3" class="g"/>
<line x1="267.92" y1="21" x2="267.92" y2="130.3" class="g"/>
<line x1="184.4" y1="40.66" x2="289.9" y2="40.66" class="g"/>
<line x1="184.4" y1="60.32" x2="289.9" y2="60.32" class="g"/>
<line x1="184.4" y1="79.97" x2="289.9" y2="79.97" class="g"/>
<line x1="184.4" y1="99.63" x2="289.9" y2="99.63" class="g"/>
<line x1="184.4" y1="119.29" x2="289.9" y2="119.29" class="g"/>
<clipPath id="cp1"><polygon points="238,59.5 238,56 241.4,56 241.4,57.5 250.2,57.5 250.2,54.7 253.6,54.7 253.6,57.5 260.5,57.5 260.5,59.5 266,59.5 266,63.6 274,63.6 274,84.7 276.8,84.7 276.8,101.6 276,101.6 276,108.5 273.4,108.5 273.4,111.9 270.7,111.9 270.7,114.6 266.6,114.6 266.6,117.3 260.5,117.3 260.5,118.7 255,118.7 255,120.7 236.6,120.7 236.6,118 231.9,118 231.9,116 228.5,116 228.5,114 225.7,114 225.7,109.8 223,109.8 223,105.7 216.5,105.7 216.5,90.2 214,90.2 214,86.8 216.9,86.8 216.9,84 214,84 214,80.6 219.6,80.6 219.6,78.6 216.9,78.6 216.9,75 219.6,75 219.6,72.5 216.9,72.5 216.9,68.4 220.3,68.4 220.3,65.6 224.4,65.6 224.4,63 228.5,63 228.5,59.5"/></clipPath>
<g clip-path="url(#cp1)">
<rect x="214" y="54.7" width="3.5" height="3.3" fill="#5cdbec"/>
<rect x="217.5" y="54.7" width="3.5" height="3.3" fill="#55d4ef"/>
<rect x="221" y="54.7" width="3.5" height="3.3" fill="#57d5ee"/>
<rect x="224.5" y="54.7" width="3.5" height="3.3" fill="#59d8ed"/>
<rect x="228" y="54.7" width="3.5" height="3.3" fill="#5ad9ed"/>
<rect x="231.5" y="54.7" width="3.5" height="3.3" fill="#5ddcec"/>
<rect x="235" y="54.7" width="3.5" height="3.3" fill="#58d7ee"/>
<rect x="238.5" y="54.7" width="3.5" height="3.3" fill="#56d4ef"/>
<rect x="242" y="54.7" width="3.5" height="3.3" fill="#74eee3"/>
<rect x="245.5" y="54.7" width="3.5" height="3.3" fill="#58d7ee"/>
<rect x="249" y="54.7" width="3.5" height="3.3" fill="#4fcdf1"/>
<rect x="252.5" y="54.7" width="3.5" height="3.3" fill="#59d8ed"/>
<rect x="256" y="54.7" width="3.5" height="3.3" fill="#4dcaf2"/>
<rect x="259.5" y="54.7" width="3.5" height="3.3" fill="#52d0f0"/>
<rect x="263" y="54.7" width="3.5" height="3.3" fill="#54d2ef"/>
<rect x="266.5" y="54.7" width="3.5" height="3.3" fill="#54d3ef"/>
<rect x="270" y="54.7" width="3.5" height="3.3" fill="#55d3ef"/>
<rect x="273.5" y="54.7" width="3.5" height="3.3" fill="#59d8ed"/>
<rect x="214" y="58" width="3.5" height="3.3" fill="#66e4e9"/>
<rect x="217.5" y="58" width="3.5" height="3.3" fill="#5fdeeb"/>
<rect x="221" y="58" width="3.5" height="3.3" fill="#62e0ea"/>
<rect x="224.5" y="58" width="3.5" height="3.3" fill="#52d1f0"/>
<rect x="228" y="58" width="7" height="3.3" fill="#51d0f0"/>
<rect x="235" y="58" width="3.5" height="3.3" fill="#5ddcec"/>
<rect x="238.5" y="58" width="3.5" height="3.3" fill="#4dcbf1"/>
<rect x="242" y="58" width="3.5" height="3.3" fill="#5bdaed"/>
<rect x="245.5" y="58" width="3.5" height="3.3" fill="#5cdbec"/>
<rect x="249" y="58" width="3.5" height="3.3" fill="#54d3ef"/>
<rect x="252.5" y="58" width="3.5" height="3.3" fill="#51d0f0"/>
<rect x="256" y="58" width="3.5" height="3.3" fill="#4ec9f2"/>
<rect x="259.5" y="58" width="3.5" height="3.3" fill="#5bdaed"/>
<rect x="263" y="58" width="3.5" height="3.3" fill="#53d2ef"/>
<rect x="266.5" y="58" width="3.5" height="3.3" fill="#54d3ef"/>
<rect x="270" y="58" width="3.5" height="3.3" fill="#58d7ee"/>
<rect x="273.5" y="58" width="3.5" height="3.3" fill="#53d1f0"/>
<rect x="214" y="61.3" width="3.5" height="3.3" fill="#6ae7e7"/>
<rect x="217.5" y="61.3" width="3.5" height="3.3" fill="#56d5ee"/>
<rect x="221" y="61.3" width="3.5" height="3.3" fill="#55d3ef"/>
<rect x="224.5" y="61.3" width="3.5" height="3.3" fill="#53d2ef"/>
<rect x="228" y="61.3" width="7" height="3.3" fill="#5cdbec"/>
<rect x="235" y="61.3" width="3.5" height="3.3" fill="#5ad9ed"/>
<rect x="238.5" y="61.3" width="3.5" height="3.3" fill="#56d4ef"/>
<rect x="242" y="61.3" width="3.5" height="3.3" fill="#53d2ef"/>
<rect x="245.5" y="61.3" width="3.5" height="3.3" fill="#56d5ee"/>
<rect x="249" y="61.3" width="3.5" height="3.3" fill="#59d8ee"/>
<rect x="252.5" y="61.3" width="3.5" height="3.3" fill="#58d7ee"/>
<rect x="256" y="61.3" width="3.5" height="3.3" fill="#59d8ed"/>
<rect x="259.5" y="61.3" width="3.5" height="3.3" fill="#53d1f0"/>
<rect x="263" y="61.3" width="3.5" height="3.3" fill="#50cff0"/>
<rect x="266.5" y="61.3" width="3.5" height="3.3" fill="#51cff0"/>
<rect x="270" y="61.3" width="7" height="3.3" fill="#4dcbf1"/>
<rect x="214" y="64.6" width="3.5" height="3.3" fill="#63e1ea"/>
<rect x="217.5" y="64.6" width="3.5" height="3.3" fill="#67e4e9"/>
<rect x="221" y="64.6" width="3.5" height="3.3" fill="#64e2ea"/>
<rect x="224.5" y="64.6" width="3.5" height="3.3" fill="#59d8ed"/>
<rect x="228" y="64.6" width="3.5" height="3.3" fill="#5fdeeb"/>
<rect x="231.5" y="64.6" width="3.5" height="3.3" fill="#58d7ee"/>
<rect x="235" y="64.6" width="3.5" height="3.3" fill="#60deeb"/>
<rect x="238.5" y="64.6" width="3.5" height="3.3" fill="#6de9e6"/>
<rect x="242" y="64.6" width="3.5" height="3.3" fill="#5fddeb"/>
<rect x="245.5" y="64.6" width="3.5" height="3.3" fill="#5ad9ed"/>
<rect x="249" y="64.6" width="3.5" height="3.3" fill="#56d4ef"/>
<rect x="252.5" y="64.6" width="3.5" height="3.3" fill="#50cff0"/>
<rect x="256" y="64.6" width="3.5" height="3.3" fill="#51cff0"/>
<rect x="259.5" y="64.6" width="3.5" height="3.3" fill="#6de9e6"/>
<rect x="263" y="64.6" width="3.5" height="3.3" fill="#5bd9ed"/>
<rect x="266.5" y="64.6" width="3.5" height="3.3" fill="#74eee3"/>
<rect x="270" y="64.6" width="3.5" height="3.3" fill="#4ec9f2"/>
<rect x="273.5" y="64.6" width="3.5" height="3.3" fill="#4fc8f2"/>
<rect x="214" y="67.9" width="7" height="3.3" fill="#61e0ea"/>
<rect x="221" y="67.9" width="3.5" height="3.3" fill="#5ad9ed"/>
<rect x="224.5" y="67.9" width="3.5" height="3.3" fill="#57d6ee"/>
<rect x="228" y="67.9" width="3.5" height="3.3" fill="#60dfeb"/>
<rect x="231.5" y="67.9" width="3.5" height="3.3" fill="#6de9e6"/>
<rect x="235" y="67.9" width="3.5" height="3.3" fill="#5eddec"/>
<rect x="238.5" y="67.9" width="3.5" height="3.3" fill="#59d8ed"/>
<rect x="242" y="67.9" width="3.5" height="3.3" fill="#5edcec"/>
<rect x="245.5" y="67.9" width="3.5" height="3.3" fill="#4fcef1"/>
<rect x="249" y="67.9" width="3.5" height="3.3" fill="#4ecdf1"/>
<rect x="252.5" y="67.9" width="3.5" height="3.3" fill="#56d5ee"/>
<rect x="256" y="67.9" width="3.5" height="3.3" fill="#53d2ef"/>
<rect x="259.5" y="67.9" width="3.5" height="3.3" fill="#50cff0"/>
<rect x="263" y="67.9" width="3.5" height="3.3" fill="#4dcbf1"/>
<rect x="266.5" y="67.9" width="3.5" height="3.3" fill="#56d5ee"/>
<rect x="270" y="67.9" width="3.5" height="3.3" fill="#74eee3"/>
<rect x="273.5" y="67.9" width="3.5" height="3.3" fill="#50c6f3"/>
<rect x="214" y="71.2" width="3.5" height="3.3" fill="#63e1ea"/>
<rect x="217.5" y="71.2" width="3.5" height="3.3" fill="#65e3e9"/>
<rect x="221" y="71.2" width="3.5" height="3.3" fill="#5fddeb"/>
<rect x="224.5" y="71.2" width="3.5" height="3.3" fill="#60dfeb"/>
<rect x="228" y="71.2" width="3.5" height="3.3" fill="#59d8ed"/>
<rect x="231.5" y="71.2" width="3.5" height="3.3" fill="#57d6ee"/>
<rect x="235" y="71.2" width="3.5" height="3.3" fill="#55d4ef"/>
<rect x="238.5" y="71.2" width="3.5" height="3.3" fill="#5eddec"/>
<rect x="242" y="71.2" width="3.5" height="3.3" fill="#5ddcec"/>
<rect x="245.5" y="71.2" width="3.5" height="3.3" fill="#58d7ee"/>
<rect x="249" y="71.2" width="7" height="3.3" fill="#4eccf1"/>
<rect x="256" y="71.2" width="3.5" height="3.3" fill="#5cdaec"/>
<rect x="259.5" y="71.2" width="3.5" height="3.3" fill="#57bef4"/>
<rect x="263" y="71.2" width="3.5" height="3.3" fill="#53d2ef"/>
<rect x="266.5" y="71.2" width="3.5" height="3.3" fill="#4dcbf1"/>
<rect x="270" y="71.2" width="3.5" height="3.3" fill="#4eccf1"/>
<rect x="273.5" y="71.2" width="3.5" height="3.3" fill="#4ec9f2"/>
<rect x="214" y="74.5" width="3.5" height="3.3" fill="#65e3e9"/>
<rect x="217.5" y="74.5" width="3.5" height="3.3" fill="#5ad9ed"/>
<rect x="221" y="74.5" width="3.5" height="3.3" fill="#5eddec"/>
<rect x="224.5" y="74.5" width="3.5" height="3.3" fill="#58d7ee"/>
<rect x="228" y="74.5" width="3.5" height="3.3" fill="#5bdaed"/>
<rect x="231.5" y="74.5" width="3.5" height="3.3" fill="#54d3ef"/>
<rect x="235" y="74.5" width="3.5" height="3.3" fill="#61dfeb"/>
<rect x="238.5" y="74.5" width="3.5" height="3.3" fill="#59d8ed"/>
<rect x="242" y="74.5" width="3.5" height="3.3" fill="#51d0f0"/>
<rect x="245.5" y="74.5" width="3.5" height="3.3" fill="#51cff0"/>
<rect x="249" y="74.5" width="3.5" height="3.3" fill="#59d8ed"/>
<rect x="252.5" y="74.5" width="3.5" height="3.3" fill="#5bdaed"/>
<rect x="256" y="74.5" width="3.5" height="3.3" fill="#4eccf1"/>
<rect x="259.5" y="74.5" width="3.5" height="3.3" fill="#5ad9ed"/>
<rect x="263" y="74.5" width="3.5" height="3.3" fill="#56d4ef"/>
<rect x="266.5" y="74.5" width="3.5" height="3.3" fill="#51cff0"/>
<rect x="270" y="74.5" width="3.5" height="3.3" fill="#51c6f3"/>
<rect x="273.5" y="74.5" width="3.5" height="3.3" fill="#56c0f4"/>
<rect x="214" y="77.8" width="3.5" height="3.3" fill="#64e2ea"/>
<rect x="217.5" y="77.8" width="3.5" height="3.3" fill="#65e3e9"/>
<rect x="221" y="77.8" width="3.5" height="3.3" fill="#60dfeb"/>
<rect x="224.5" y="77.8" width="3.5" height="3.3" fill="#54d2ef"/>
<rect x="228" y="77.8" width="3.5" height="3.3" fill="#61e0ea"/>
<rect x="231.5" y="77.8" width="3.5" height="3.3" fill="#50cff0"/>
<rect x="235" y="77.8" width="3.5" height="3.3" fill="#5bd9ed"/>
<rect x="238.5" y="77.8" width="3.5" height="3.3" fill="#52d1f0"/>
<rect x="242" y="77.8" width="3.5" height="3.3" fill="#5cdaed"/>
<rect x="245.5" y="77.8" width="3.5" height="3.3" fill="#59d8ed"/>
<rect x="249" y="77.8" width="3.5" height="3.3" fill="#4fcef1"/>
<rect x="252.5" y="77.8" width="3.5" height="3.3" fill="#4dccf1"/>
<rect x="256" y="77.8" width="3.5" height="3.3" fill="#4fcef1"/>
<rect x="259.5" y="77.8" width="3.5" height="3.3" fill="#74eee3"/>
<rect x="263" y="77.8" width="3.5" height="3.3" fill="#50c7f2"/>
<rect x="266.5" y="77.8" width="3.5" height="3.3" fill="#4ecdf1"/>
<rect x="270" y="77.8" width="3.5" height="3.3" fill="#53d2ef"/>
<rect x="273.5" y="77.8" width="3.5" height="3.3" fill="#58bdf5"/>
<rect x="214" y="81.1" width="3.5" height="3.3" fill="#5ddcec"/>
<rect x="217.5" y="81.1" width="3.5" height="3.3" fill="#5ad9ed"/>
<rect x="221" y="81.1" width="3.5" height="3.3" fill="#63e1ea"/>
<rect x="224.5" y="81.1" width="3.5" height="3.3" fill="#5fddeb"/>
<rect x="228" y="81.1" width="3.5" height="3.3" fill="#55d3ef"/>
<rect x="231.5" y="81.1" width="3.5" height="3.3" fill="#5bdaed"/>
<rect x="235" y="81.1" width="3.5" height="3.3" fill="#57d6ee"/>
<rect x="238.5" y="81.1" width="3.5" height="3.3" fill="#5ad9ed"/>
<rect x="242" y="81.1" width="3.5" height="3.3" fill="#59d7ee"/>
<rect x="245.5" y="81.1" width="7" height="3.3" fill="#5cdbec"/>
<rect x="252.5" y="81.1" width="3.5" height="3.3" fill="#58d7ee"/>
<rect x="256" y="81.1" width="3.5" height="3.3" fill="#56d5ef"/>
<rect x="259.5" y="81.1" width="3.5" height="3.3" fill="#4dcbf1"/>
<rect x="263" y="81.1" width="3.5" height="3.3" fill="#56d5ee"/>
<rect x="266.5" y="81.1" width="3.5" height="3.3" fill="#4ec9f2"/>
<rect x="270" y="81.1" width="3.5" height="3.3" fill="#51cff0"/>
<rect x="273.5" y="81.1" width="3.5" height="3.3" fill="#57bef4"/>
<rect x="214" y="84.4" width="3.5" height="3.3" fill="#61dfeb"/>
<rect x="217.5" y="84.4" width="3.5" height="3.3" fill="#66e4e9"/>
<rect x="221" y="84.4" width="3.5" height="3.3" fill="#57d6ee"/>
<rect x="224.5" y="84.4" width="3.5" height="3.3" fill="#54d3ef"/>
<rect x="228" y="84.4" width="3.5" height="3.3" fill="#53d1f0"/>
<rect x="231.5" y="84.4" width="3.5" height="3.3" fill="#5cdaec"/>
<rect x="235" y="84.4" width="3.5" height="3.3" fill="#58d7ee"/>
<rect x="238.5" y="84.4" width="3.5" height="3.3" fill="#51cff0"/>
<rect x="242" y="84.4" width="3.5" height="3.3" fill="#50cff0"/>
<rect x="245.5" y="84.4" width="3.5" height="3.3" fill="#4dcbf1"/>
<rect x="249" y="84.4" width="3.5" height="3.3" fill="#5cdbec"/>
<rect x="252.5" y="84.4" width="3.5" height="3.3" fill="#55d4ef"/>
<rect x="256" y="84.4" width="3.5" height="3.3" fill="#56d5ee"/>
<rect x="259.5" y="84.4" width="3.5" height="3.3" fill="#51d0f0"/>
<rect x="263" y="84.4" width="3.5" height="3.3" fill="#51c6f3"/>
<rect x="266.5" y="84.4" width="3.5" height="3.3" fill="#4dcbf1"/>
<rect x="270" y="84.4" width="3.5" height="3.3" fill="#55c1f4"/>
<rect x="273.5" y="84.4" width="3.5" height="3.3" fill="#6de9e6"/>
<rect x="214" y="87.7" width="3.5" height="3.3" fill="#5ddcec"/>
<rect x="217.5" y="87.7" width="3.5" height="3.3" fill="#5bd9ed"/>
<rect x="221" y="87.7" width="3.5" height="3.3" fill="#65e3e9"/>
<rect x="224.5" y="87.7" width="3.5" height="3.3" fill="#5bdaed"/>
<rect x="228" y="87.7" width="3.5" height="3.3" fill="#74eee3"/>
<rect x="231.5" y="87.7" width="3.5" height="3.3" fill="#5ad9ed"/>
<rect x="235" y="87.7" width="3.5" height="3.3" fill="#58d7ee"/>
<rect x="238.5" y="87.7" width="3.5" height="3.3" fill="#5ad9ed"/>
<rect x="242" y="87.7" width="3.5" height="3.3" fill="#5ddbec"/>
<rect x="245.5" y="87.7" width="3.5" height="3.3" fill="#59d8ed"/>
<rect x="249" y="87.7" width="3.5" height="3.3" fill="#4ecaf2"/>
<rect x="252.5" y="87.7" width="3.5" height="3.3" fill="#4dcbf1"/>
<rect x="256" y="87.7" width="3.5" height="3.3" fill="#53d1f0"/>
<rect x="259.5" y="87.7" width="3.5" height="3.3" fill="#4eccf1"/>
<rect x="263" y="87.7" width="3.5" height="3.3" fill="#4ecdf1"/>
<rect x="266.5" y="87.7" width="3.5" height="3.3" fill="#50cff0"/>
<rect x="270" y="87.7" width="3.5" height="3.3" fill="#50c6f3"/>
<rect x="273.5" y="87.7" width="3.5" height="3.3" fill="#5eb6f6"/>
<rect x="214" y="91" width="3.5" height="3.3" fill="#5bdaed"/>
<rect x="217.5" y="91" width="3.5" height="3.3" fill="#5ad9ed"/>
<rect x="221" y="91" width="3.5" height="3.3" fill="#56d5ee"/>
<rect x="224.5" y="91" width="3.5" height="3.3" fill="#54d2ef"/>
<rect x="228" y="91" width="3.5" height="3.3" fill="#4ecdf1"/>
<rect x="231.5" y="91" width="3.5" height="3.3" fill="#5ad9ed"/>
<rect x="235" y="91" width="3.5" height="3.3" fill="#54d3ef"/>
<rect x="238.5" y="91" width="3.5" height="3.3" fill="#50cff0"/>
<rect x="242" y="91" width="3.5" height="3.3" fill="#4fcdf1"/>
<rect x="245.5" y="91" width="3.5" height="3.3" fill="#4dccf1"/>
<rect x="249" y="91" width="3.5" height="3.3" fill="#4fcef1"/>
<rect x="252.5" y="91" width="3.5" height="3.3" fill="#5ad9ed"/>
<rect x="256" y="91" width="3.5" height="3.3" fill="#4dccf1"/>
<rect x="259.5" y="91" width="3.5" height="3.3" fill="#4eccf1"/>
<rect x="263" y="91" width="3.5" height="3.3" fill="#58d7ee"/>
<rect x="266.5" y="91" width="3.5" height="3.3" fill="#57bef4"/>
<rect x="270" y="91" width="3.5" height="3.3" fill="#6de9e6"/>
<rect x="273.5" y="91" width="3.5" height="3.3" fill="#52c4f3"/>
<rect x="214" y="94.3" width="3.5" height="3.3" fill="#67e5e8"/>
<rect x="217.5" y="94.3" width="3.5" height="3.3" fill="#64e2e9"/>
<rect x="221" y="94.3" width="3.5" height="3.3" fill="#74eee3"/>
<rect x="224.5" y="94.3" width="3.5" height="3.3" fill="#56d5ee"/>
<rect x="228" y="94.3" width="3.5" height="3.3" fill="#54d3ef"/>
<rect x="231.5" y="94.3" width="3.5" height="3.3" fill="#56d5ee"/>
<rect x="235" y="94.3" width="3.5" height="3.3" fill="#5bdaed"/>
<rect x="238.5" y="94.3" width="3.5" height="3.3" fill="#5ddbec"/>
<rect x="242" y="94.3" width="3.5" height="3.3" fill="#5ad8ed"/>
<rect x="245.5" y="94.3" width="3.5" height="3.3" fill="#58d6ee"/>
<rect x="249" y="94.3" width="3.5" height="3.3" fill="#54d2ef"/>
<rect x="252.5" y="94.3" width="3.5" height="3.3" fill="#56d5ee"/>
<rect x="256" y="94.3" width="3.5" height="3.3" fill="#57bef4"/>
<rect x="259.5" y="94.3" width="3.5" height="3.3" fill="#74eee3"/>
<rect x="263" y="94.3" width="3.5" height="3.3" fill="#52d0f0"/>
<rect x="266.5" y="94.3" width="3.5" height="3.3" fill="#51cff0"/>
<rect x="270" y="94.3" width="3.5" height="3.3" fill="#5abbf5"/>
<rect x="273.5" y="94.3" width="3.5" height="3.3" fill="#53c4f3"/>
<rect x="214" y="97.6" width="3.5" height="3.3" fill="#57bef4"/>
<rect x="217.5" y="97.6" width="3.5" height="3.3" fill="#53d2ef"/>
<rect x="221" y="97.6" width="3.5" height="3.3" fill="#51d0f0"/>
<rect x="224.5" y="97.6" width="3.5" height="3.3" fill="#4fcdf1"/>
<rect x="228" y="97.6" width="3.5" height="3.3" fill="#57d5ee"/>
<rect x="231.5" y="97.6" width="3.5" height="3.3" fill="#5ddcec"/>
<rect x="235" y="97.6" width="3.5" height="3.3" fill="#53d2ef"/>
<rect x="238.5" y="97.6" width="3.5" height="3.3" fill="#59d8ed"/>
<rect x="242" y="97.6" width="3.5" height="3.3" fill="#4ecdf1"/>
<rect x="245.5" y="97.6" width="3.5" height="3.3" fill="#4dcbf1"/>
<rect x="249" y="97.6" width="3.5" height="3.3" fill="#4eccf1"/>
<rect x="252.5" y="97.6" width="3.5" height="3.3" fill="#51d0f0"/>
<rect x="256" y="97.6" width="3.5" height="3.3" fill="#53d1ef"/>
<rect x="259.5" y="97.6" width="3.5" height="3.3" fill="#56d5ee"/>
<rect x="263" y="97.6" width="3.5" height="3.3" fill="#4dcbf1"/>
<rect x="266.5" y="97.6" width="3.5" height="3.3" fill="#4dcaf1"/>
<rect x="270" y="97.6" width="3.5" height="3.3" fill="#51c5f3"/>
<rect x="273.5" y="97.6" width="3.5" height="3.3" fill="#5db7f6"/>
<rect x="214" y="100.9" width="3.5" height="3.3" fill="#51d0f0"/>
<rect x="217.5" y="100.9" width="3.5" height="3.3" fill="#56d5ee"/>
<rect x="221" y="100.9" width="3.5" height="3.3" fill="#52d0f0"/>
<rect x="224.5" y="100.9" width="3.5" height="3.3" fill="#53d1f0"/>
<rect x="228" y="100.9" width="3.5" height="3.3" fill="#4fcef1"/>
<rect x="231.5" y="100.9" width="3.5" height="3.3" fill="#58d7ee"/>
<rect x="235" y="100.9" width="3.5" height="3.3" fill="#56d5ee"/>
<rect x="238.5" y="100.9" width="3.5" height="3.3" fill="#52d1f0"/>
<rect x="242" y="100.9" width="3.5" height="3.3" fill="#5cdbec"/>
<rect x="245.5" y="100.9" width="3.5" height="3.3" fill="#52d1f0"/>
<rect x="249" y="100.9" width="3.5" height="3.3" fill="#50cef0"/>
<rect x="252.5" y="100.9" width="3.5" height="3.3" fill="#4ec9f2"/>
<rect x="256" y="100.9" width="3.5" height="3.3" fill="#51cff0"/>
<rect x="259.5" y="100.9" width="3.5" height="3.3" fill="#6de9e6"/>
<rect x="263" y="100.9" width="3.5" height="3.3" fill="#54c2f4"/>
<rect x="266.5" y="100.9" width="3.5" height="3.3" fill="#4fcef1"/>
<rect x="270" y="100.9" width="3.5" height="3.3" fill="#4eccf1"/>
<rect x="273.5" y="100.9" width="3.5" height="3.3" fill="#56c0f4"/>
<rect x="214" y="104.2" width="3.5" height="3.3" fill="#52d1f0"/>
<rect x="217.5" y="104.2" width="3.5" height="3.3" fill="#5cdbec"/>
<rect x="221" y="104.2" width="3.5" height="3.3" fill="#53d2ef"/>
<rect x="224.5" y="104.2" width="3.5" height="3.3" fill="#5bdaed"/>
<rect x="228" y="104.2" width="3.5" height="3.3" fill="#74eee3"/>
<rect x="231.5" y="104.2" width="3.5" height="3.3" fill="#4fcdf1"/>
<rect x="235" y="104.2" width="3.5" height="3.3" fill="#4fc8f2"/>
<rect x="238.5" y="104.2" width="3.5" height="3.3" fill="#53d2ef"/>
<rect x="242" y="104.2" width="3.5" height="3.3" fill="#4dccf1"/>
<rect x="245.5" y="104.2" width="3.5" height="3.3" fill="#5bdaed"/>
<rect x="249" y="104.2" width="3.5" height="3.3" fill="#4fc8f2"/>
<rect x="252.5" y="104.2" width="3.5" height="3.3" fill="#74eee3"/>
<rect x="256" y="104.2" width="3.5" height="3.3" fill="#51d0f0"/>
<rect x="259.5" y="104.2" width="3.5" height="3.3" fill="#50c7f2"/>
<rect x="263" y="104.2" width="3.5" height="3.3" fill="#50cef0"/>
<rect x="266.5" y="104.2" width="3.5" height="3.3" fill="#57bef4"/>
<rect x="270" y="104.2" width="3.5" height="3.3" fill="#4dcbf1"/>
<rect x="273.5" y="104.2" width="3.5" height="3.3" fill="#5db7f6"/>
<rect x="214" y="107.5" width="3.5" height="3.3" fill="#4dcaf2"/>
<rect x="217.5" y="107.5" width="3.5" height="3.3" fill="#51c5f3"/>
<rect x="221" y="107.5" width="3.5" height="3.3" fill="#6de9e6"/>
<rect x="224.5" y="107.5" width="3.5" height="3.3" fill="#4ec9f2"/>
<rect x="228" y="107.5" width="3.5" height="3.3" fill="#53d1f0"/>
<rect x="231.5" y="107.5" width="3.5" height="3.3" fill="#4ec9f2"/>
<rect x="235" y="107.5" width="3.5" height="3.3" fill="#53c3f3"/>
<rect x="238.5" y="107.5" width="3.5" height="3.3" fill="#52c5f3"/>
<rect x="242" y="107.5" width="3.5" height="3.3" fill="#4ec9f2"/>
<rect x="245.5" y="107.5" width="3.5" height="3.3" fill="#51cff0"/>
<rect x="249" y="107.5" width="3.5" height="3.3" fill="#51c6f3"/>
<rect x="252.5" y="107.5" width="3.5" height="3.3" fill="#4eccf1"/>
<rect x="256" y="107.5" width="3.5" height="3.3" fill="#50c7f2"/>
<rect x="259.5" y="107.5" width="3.5" height="3.3" fill="#55c0f4"/>
<rect x="263" y="107.5" width="3.5" height="3.3" fill="#55c1f4"/>
<rect x="266.5" y="107.5" width="3.5" height="3.3" fill="#5cb9f6"/>
<rect x="270" y="107.5" width="3.5" height="3.3" fill="#50c6f3"/>
<rect x="273.5" y="107.5" width="3.5" height="3.3" fill="#5cb9f6"/>
<rect x="214" y="110.8" width="3.5" height="3.3" fill="#58bdf5"/>
<rect x="217.5" y="110.8" width="3.5" height="3.3" fill="#5eb6f6"/>
<rect x="221" y="110.8" width="3.5" height="3.3" fill="#54c3f3"/>
<rect x="224.5" y="110.8" width="3.5" height="3.3" fill="#55c1f4"/>
<rect x="228" y="110.8" width="3.5" height="3.3" fill="#4ecdf1"/>
<rect x="231.5" y="110.8" width="3.5" height="3.3" fill="#58bdf5"/>
<rect x="235" y="110.8" width="3.5" height="3.3" fill="#4fcef1"/>
<rect x="238.5" y="110.8" width="3.5" height="3.3" fill="#53d2ef"/>
<rect x="242" y="110.8" width="3.5" height="3.3" fill="#54d3ef"/>
<rect x="245.5" y="110.8" width="3.5" height="3.3" fill="#4ecdf1"/>
<rect x="249" y="110.8" width="3.5" height="3.3" fill="#51c6f3"/>
<rect x="252.5" y="110.8" width="3.5" height="3.3" fill="#4fcdf1"/>
<rect x="256" y="110.8" width="3.5" height="3.3" fill="#59bdf5"/>
<rect x="259.5" y="110.8" width="3.5" height="3.3" fill="#50c7f2"/>
<rect x="263" y="110.8" width="3.5" height="3.3" fill="#5bbaf5"/>
<rect x="266.5" y="110.8" width="3.5" height="3.3" fill="#5db7f6"/>
<rect x="270" y="110.8" width="3.5" height="3.3" fill="#5abbf5"/>
<rect x="273.5" y="110.8" width="3.5" height="3.3" fill="#57bef4"/>
<rect x="214" y="114.1" width="3.5" height="3.3" fill="#67aaf8"/>
<rect x="217.5" y="114.1" width="3.5" height="3.3" fill="#67abf8"/>
<rect x="221" y="114.1" width="3.5" height="3.3" fill="#55c1f4"/>
<rect x="224.5" y="114.1" width="3.5" height="3.3" fill="#5fb5f6"/>
<rect x="228" y="114.1" width="3.5" height="3.3" fill="#57bff4"/>
<rect x="231.5" y="114.1" width="3.5" height="3.3" fill="#74eee3"/>
<rect x="235" y="114.1" width="3.5" height="3.3" fill="#58bdf5"/>
<rect x="238.5" y="114.1" width="3.5" height="3.3" fill="#59bcf5"/>
<rect x="242" y="114.1" width="3.5" height="3.3" fill="#56c0f4"/>
<rect x="245.5" y="114.1" width="3.5" height="3.3" fill="#4dcaf2"/>
<rect x="249" y="114.1" width="3.5" height="3.3" fill="#4ecdf1"/>
<rect x="252.5" y="114.1" width="3.5" height="3.3" fill="#4dcaf2"/>
<rect x="256" y="114.1" width="3.5" height="3.3" fill="#5db7f6"/>
<rect x="259.5" y="114.1" width="3.5" height="3.3" fill="#56bff4"/>
<rect x="263" y="114.1" width="3.5" height="3.3" fill="#5bb9f6"/>
<rect x="266.5" y="114.1" width="3.5" height="3.3" fill="#58bdf5"/>
<rect x="270" y="114.1" width="3.5" height="3.3" fill="#5cb8f6"/>
<rect x="273.5" y="114.1" width="3.5" height="3.3" fill="#64aef8"/>
<rect x="214" y="117.4" width="3.5" height="3.3" fill="#6ca3f9"/>
<rect x="217.5" y="117.4" width="7" height="3.3" fill="#68a9f8"/>
<rect x="224.5" y="117.4" width="3.5" height="3.3" fill="#6da1fa"/>
<rect x="228" y="117.4" width="3.5" height="3.3" fill="#6da2f9"/>
<rect x="231.5" y="117.4" width="3.5" height="3.3" fill="#6ca4f9"/>
<rect x="235" y="117.4" width="3.5" height="3.3" fill="#6da2f9"/>
<rect x="238.5" y="117.4" width="3.5" height="3.3" fill="#6ba5f9"/>
<rect x="242" y="117.4" width="3.5" height="3.3" fill="#5bb9f5"/>
<rect x="245.5" y="117.4" width="3.5" height="3.3" fill="#62b1f7"/>
<rect x="249" y="117.4" width="3.5" height="3.3" fill="#67aaf8"/>
<rect x="252.5" y="117.4" width="3.5" height="3.3" fill="#6ba5f9"/>
<rect x="256" y="117.4" width="3.5" height="3.3" fill="#64aef8"/>
<rect x="259.5" y="117.4" width="3.5" height="3.3" fill="#67aaf8"/>
<rect x="263" y="117.4" width="3.5" height="3.3" fill="#74eee3"/>
<rect x="266.5" y="117.4" width="3.5" height="3.3" fill="#69a8f9"/>
<rect x="270" y="117.4" width="3.5" height="3.3" fill="#65acf8"/>
<rect x="273.5" y="117.4" width="3.5" height="3.3" fill="#6aa6f9"/>
</g>
<rect x="214" y="107" width="3" height="1.8" fill="#74eee3"/>
<rect x="220" y="107" width="3" height="1.8" fill="#5eb5f6"/>
<rect x="276.8" y="99.6" width="3" height="2" fill="#70ece5"/>
<path d="M225.5 67.9C227 65.55 227.62 62.98 230.6 61.5C233.58 60.02 238.72 59.22 243.4 59C248.08 58.78 254.02 59.13 258.7 60.2C263.38 61.27 268.93 62.83 271.5 65.4C274.07 67.97 273.67 70.92 274.1 75.6C274.53 80.28 274.73 88.38 274.1 93.5C273.47 98.62 273.28 102.88 270.3 106.3C267.32 109.72 261.12 112.5 256.2 114C251.28 115.5 245.5 115.73 240.8 115.3C236.1 114.87 231.2 113.75 228 111.4C224.8 109.05 223.08 105.47 221.6 101.2C220.12 96.93 219.1 90.07 219.1 85.8C219.1 81.53 220.53 78.58 221.6 75.6C222.67 72.62 224 70.25 225.5 67.9Z" class="ct"/>
<path d="M229.3 71.8C231.02 70.08 234.67 68.97 238.3 67.9C241.93 66.83 246.83 65.4 251.1 65.4C255.37 65.4 260.92 66.2 263.9 67.9C266.88 69.6 267.93 71.75 269 75.6C270.07 79.45 270.52 86.3 270.3 91C270.08 95.7 270.05 100.4 267.7 103.8C265.35 107.2 261.1 110.33 256.2 111.4C251.3 112.47 242.78 111.47 238.3 110.2C233.82 108.93 231.22 107 229.3 103.8C227.38 100.6 227.02 95.27 226.8 91C226.58 86.73 227.58 81.4 228 78.2C228.42 75 227.58 73.52 229.3 71.8Z" class="ct"/>
<path d="M235.7 75.6C237.4 73.05 239.98 71.35 243.4 70.5C246.82 69.65 252.58 69.65 256.2 70.5C259.82 71.35 263.4 72.18 265.1 75.6C266.8 79.02 266.4 86.73 266.4 91C266.4 95.27 267.02 98.43 265.1 101.2C263.18 103.97 258.73 106.75 254.9 107.6C251.07 108.45 245.52 107.8 242.1 106.3C238.68 104.8 235.88 102.02 234.4 98.6C232.92 95.18 232.98 89.63 233.2 85.8C233.42 81.97 234 78.15 235.7 75.6Z" class="ct"/>
<path d="M244.7 84.6C245.77 82.67 247.67 80.13 249.8 79.4C251.93 78.67 255.8 78.7 257.5 80.2C259.2 81.7 259.37 85.33 260 88.4C260.63 91.47 261.93 95.83 261.3 98.6C260.67 101.37 258.75 103.93 256.2 105C253.65 106.07 248.13 106.07 246 105C243.87 103.93 243.83 100.93 243.4 98.6C242.97 96.27 243.18 93.33 243.4 91C243.62 88.67 243.63 86.53 244.7 84.6Z" class="ct"/>
<rect x="184.4" y="21" width="105.5" height="109.3" class="fr"/>
<line x1="201.98" y1="130.3" x2="201.98" y2="131.9" class="tk"/>
<line x1="223.96" y1="130.3" x2="223.96" y2="131.9" class="tk"/>
<line x1="245.94" y1="130.3" x2="245.94" y2="131.9" class="tk"/>
<line x1="267.92" y1="130.3" x2="267.92" y2="131.9" class="tk"/>
<line x1="289.9" y1="130.3" x2="289.9" y2="131.9" class="tk"/>
<line x1="182.8" y1="21" x2="184.4" y2="21" class="tk"/>
<line x1="182.8" y1="40.66" x2="184.4" y2="40.66" class="tk"/>
<line x1="182.8" y1="60.32" x2="184.4" y2="60.32" class="tk"/>
<line x1="182.8" y1="79.97" x2="184.4" y2="79.97" class="tk"/>
<line x1="182.8" y1="99.63" x2="184.4" y2="99.63" class="tk"/>
<line x1="182.8" y1="119.29" x2="184.4" y2="119.29" class="tk"/>
<rect x="296.2" y="21" width="5.8" height="109.3" fill="url(#cbg)" stroke="rgba(60,60,60,0.35)" stroke-width="0.6"/>
<line x1="302" y1="116.04" x2="303.2" y2="116.04" class="tkc"/>
<line x1="302" y1="100.2" x2="303.2" y2="100.2" class="tkc"/>
<line x1="302" y1="84.36" x2="303.2" y2="84.36" class="tkc"/>
<line x1="302" y1="68.52" x2="303.2" y2="68.52" class="tkc"/>
<line x1="302" y1="52.68" x2="303.2" y2="52.68" class="tkc"/>
<line x1="302" y1="36.84" x2="303.2" y2="36.84" class="tkc"/>
<line x1="302" y1="21" x2="303.2" y2="21" class="tkc"/>
<line x1="381.65" y1="22.2" x2="381.65" y2="128.4" class="g"/>
<line x1="400.11" y1="22.2" x2="400.11" y2="128.4" class="g"/>
<line x1="418.56" y1="22.2" x2="418.56" y2="128.4" class="g"/>
<line x1="437.02" y1="22.2" x2="437.02" y2="128.4" class="g"/>
<line x1="455.47" y1="22.2" x2="455.47" y2="128.4" class="g"/>
<line x1="363.2" y1="43.44" x2="464.7" y2="43.44" class="g"/>
<line x1="363.2" y1="64.68" x2="464.7" y2="64.68" class="g"/>
<line x1="363.2" y1="85.92" x2="464.7" y2="85.92" class="g"/>
<line x1="363.2" y1="107.16" x2="464.7" y2="107.16" class="g"/>
<clipPath id="cp2"><polygon points="363.2,85.8 367.5,85.8 367.5,75 373,75 373,57 379.3,57 379.3,50.1 385.6,50.1 385.6,46.1 391.6,46.1 391.6,39.2 403.8,39.2 403.8,35.6 409.7,35.6 409.7,32 415.6,32 415.6,28.3 422,28.3 422,24.7 440,24.7 440,28.3 451.8,28.3 451.8,35.6 459,35.6 459,50 464.7,50 464.7,110.3 458.1,110.3 458.1,117.5 451.8,117.5 451.8,124.7 433.7,124.7 433.7,121.1 397.4,121.1 397.4,117.5 391,117.5 391,113.9 385.6,113.9 385.6,108.5 379.3,108.5 379.3,100.3 373,100.3 373,96.7 367.5,96.7 367.5,93 363.2,93"/></clipPath>
<g clip-path="url(#cp2)">
<rect x="363.2" y="24.7" width="6.2" height="3.6" fill="#90fcd6"/>
<rect x="369.4" y="24.7" width="6.2" height="3.6" fill="#97fed2"/>
<rect x="375.6" y="24.7" width="6.2" height="3.6" fill="#9fffcf"/>
<rect x="381.8" y="24.7" width="6.2" height="3.6" fill="#a6ffcb"/>
<rect x="388" y="24.7" width="6.2" height="3.6" fill="#b4fec3"/>
<rect x="394.2" y="24.7" width="6.2" height="3.6" fill="#c2f9ba"/>
<rect x="400.4" y="24.7" width="6.2" height="3.6" fill="#c9f6b5"/>
<rect x="406.6" y="24.7" width="6.2" height="3.6" fill="#d1f2b1"/>
<rect x="412.8" y="24.7" width="6.2" height="3.6" fill="#d8eeac"/>
<rect x="419" y="24.7" width="6.2" height="3.6" fill="#dfe9a7"/>
<rect x="425.2" y="24.7" width="18.6" height="3.6" fill="#e6e3a2"/>
<rect x="443.8" y="24.7" width="6.2" height="3.6" fill="#dfe9a7"/>
<rect x="450" y="24.7" width="6.2" height="3.6" fill="#d8eeac"/>
<rect x="456.2" y="24.7" width="6.2" height="3.6" fill="#d1f2b1"/>
<rect x="462.4" y="24.7" width="6.2" height="3.6" fill="#c9f6b5"/>
<rect x="363.2" y="28.3" width="6.2" height="3.6" fill="#89f9da"/>
<rect x="369.4" y="28.3" width="6.2" height="3.6" fill="#90fcd6"/>
<rect x="375.6" y="28.3" width="6.2" height="3.6" fill="#97fed2"/>
<rect x="381.8" y="28.3" width="6.2" height="3.6" fill="#9fffcf"/>
<rect x="388" y="28.3" width="6.2" height="3.6" fill="#adffc7"/>
<rect x="394.2" y="28.3" width="6.2" height="3.6" fill="#b4fec3"/>
<rect x="400.4" y="28.3" width="6.2" height="3.6" fill="#c2f9ba"/>
<rect x="406.6" y="28.3" width="6.2" height="3.6" fill="#c9f6b5"/>
<rect x="412.8" y="28.3" width="6.2" height="3.6" fill="#d1f2b1"/>
<rect x="419" y="28.3" width="24.8" height="3.6" fill="#d8eeac"/>
<rect x="443.8" y="28.3" width="6.2" height="3.6" fill="#d1f2b1"/>
<rect x="450" y="28.3" width="6.2" height="3.6" fill="#c9f6b5"/>
<rect x="456.2" y="28.3" width="6.2" height="3.6" fill="#c2f9ba"/>
<rect x="462.4" y="28.3" width="6.2" height="3.6" fill="#bbfcbe"/>
<rect x="363.2" y="31.9" width="6.2" height="3.6" fill="#82f6dd"/>
<rect x="369.4" y="31.9" width="6.2" height="3.6" fill="#89f9da"/>
<rect x="375.6" y="31.9" width="6.2" height="3.6" fill="#90fcd6"/>
<rect x="381.8" y="31.9" width="6.2" height="3.6" fill="#97fed2"/>
<rect x="388" y="31.9" width="6.2" height="3.6" fill="#9fffcf"/>
<rect x="394.2" y="31.9" width="6.2" height="3.6" fill="#adffc7"/>
<rect x="400.4" y="31.9" width="6.2" height="3.6" fill="#b4fec3"/>
<rect x="406.6" y="31.9" width="6.2" height="3.6" fill="#bbfcbe"/>
<rect x="412.8" y="31.9" width="6.2" height="3.6" fill="#c2f9ba"/>
<rect x="419" y="31.9" width="24.8" height="3.6" fill="#c9f6b5"/>
<rect x="443.8" y="31.9" width="6.2" height="3.6" fill="#c2f9ba"/>
<rect x="450" y="31.9" width="12.4" height="3.6" fill="#bbfcbe"/>
<rect x="462.4" y="31.9" width="6.2" height="3.6" fill="#b4fec3"/>
<rect x="363.2" y="35.5" width="6.2" height="3.6" fill="#74eee3"/>
<rect x="369.4" y="35.5" width="6.2" height="3.6" fill="#7bf2e0"/>
<rect x="375.6" y="35.5" width="6.2" height="3.6" fill="#82f6dd"/>
<rect x="381.8" y="35.5" width="6.2" height="3.6" fill="#89f9da"/>
<rect x="388" y="35.5" width="6.2" height="3.6" fill="#97fed2"/>
<rect x="394.2" y="35.5" width="6.2" height="3.6" fill="#9fffcf"/>
<rect x="400.4" y="35.5" width="6.2" height="3.6" fill="#a6ffcb"/>
<rect x="406.6" y="35.5" width="6.2" height="3.6" fill="#adffc7"/>
<rect x="412.8" y="35.5" width="6.2" height="3.6" fill="#b4fec3"/>
<rect x="419" y="35.5" width="31" height="3.6" fill="#bbfcbe"/>
<rect x="450" y="35.5" width="6.2" height="3.6" fill="#b4fec3"/>
<rect x="456.2" y="35.5" width="6.2" height="3.6" fill="#adffc7"/>
<rect x="462.4" y="35.5" width="6.2" height="3.6" fill="#a6ffcb"/>
<rect x="363.2" y="39.1" width="6.2" height="3.6" fill="#6de9e6"/>
<rect x="369.4" y="39.1" width="12.4" height="3.6" fill="#74eee3"/>
<rect x="381.8" y="39.1" width="6.2" height="3.6" fill="#7bf2e0"/>
<rect x="388" y="39.1" width="6.2" height="3.6" fill="#82f6dd"/>
<rect x="394.2" y="39.1" width="6.2" height="3.6" fill="#89f9da"/>
<rect x="400.4" y="39.1" width="6.2" height="3.6" fill="#97fed2"/>
<rect x="406.6" y="39.1" width="6.2" height="3.6" fill="#9fffcf"/>
<rect x="412.8" y="39.1" width="12.4" height="3.6" fill="#a6ffcb"/>
<rect x="425.2" y="39.1" width="24.8" height="3.6" fill="#adffc7"/>
<rect x="450" y="39.1" width="18.6" height="3.6" fill="#a6ffcb"/>
<rect x="363.2" y="42.7" width="6.2" height="3.6" fill="#5eddec"/>
<rect x="369.4" y="42.7" width="6.2" height="3.6" fill="#65e3e9"/>
<rect x="375.6" y="42.7" width="12.4" height="3.6" fill="#6de9e6"/>
<rect x="388" y="42.7" width="6.2" height="3.6" fill="#74eee3"/>
<rect x="394.2" y="42.7" width="6.2" height="3.6" fill="#7bf2e0"/>
<rect x="400.4" y="42.7" width="6.2" height="3.6" fill="#82f6dd"/>
<rect x="406.6" y="42.7" width="6.2" height="3.6" fill="#89f9da"/>
<rect x="412.8" y="42.7" width="6.2" height="3.6" fill="#90fcd6"/>
<rect x="419" y="42.7" width="12.4" height="3.6" fill="#97fed2"/>
<rect x="431.4" y="42.7" width="37.2" height="3.6" fill="#9fffcf"/>
<rect x="363.2" y="46.3" width="12.4" height="3.6" fill="#5eddec"/>
<rect x="375.6" y="46.3" width="12.4" height="3.6" fill="#65e3e9"/>
<rect x="388" y="46.3" width="6.2" height="3.6" fill="#6de9e6"/>
<rect x="394.2" y="46.3" width="6.2" height="3.6" fill="#74eee3"/>
<rect x="400.4" y="46.3" width="6.2" height="3.6" fill="#7bf2e0"/>
<rect x="406.6" y="46.3" width="6.2" height="3.6" fill="#82f6dd"/>
<rect x="412.8" y="46.3" width="6.2" height="3.6" fill="#89f9da"/>
<rect x="419" y="46.3" width="12.4" height="3.6" fill="#90fcd6"/>
<rect x="431.4" y="46.3" width="37.2" height="3.6" fill="#97fed2"/>
<rect x="363.2" y="49.9" width="6.2" height="3.6" fill="#57d6ee"/>
<rect x="369.4" y="49.9" width="12.4" height="3.6" fill="#5eddec"/>
<rect x="381.8" y="49.9" width="12.4" height="3.6" fill="#65e3e9"/>
<rect x="394.2" y="49.9" width="6.2" height="3.6" fill="#6de9e6"/>
<rect x="400.4" y="49.9" width="6.2" height="3.6" fill="#74eee3"/>
<rect x="406.6" y="49.9" width="6.2" height="3.6" fill="#7bf2e0"/>
<rect x="412.8" y="49.9" width="12.4" height="3.6" fill="#82f6dd"/>
<rect x="425.2" y="49.9" width="12.4" height="3.6" fill="#89f9da"/>
<rect x="437.6" y="49.9" width="31" height="3.6" fill="#90fcd6"/>
<rect x="363.2" y="53.5" width="12.4" height="3.6" fill="#57d6ee"/>
<rect x="375.6" y="53.5" width="12.4" height="3.6" fill="#5eddec"/>
<rect x="388" y="53.5" width="12.4" height="3.6" fill="#65e3e9"/>
<rect x="400.4" y="53.5" width="6.2" height="3.6" fill="#6de9e6"/>
<rect x="406.6" y="53.5" width="6.2" height="3.6" fill="#74eee3"/>
<rect x="412.8" y="53.5" width="12.4" height="3.6" fill="#7bf2e0"/>
<rect x="425.2" y="53.5" width="12.4" height="3.6" fill="#82f6dd"/>
<rect x="437.6" y="53.5" width="18.6" height="3.6" fill="#89f9da"/>
<rect x="456.2" y="53.5" width="12.4" height="3.6" fill="#90fcd6"/>
<rect x="363.2" y="57.1" width="6.2" height="3.6" fill="#50cff0"/>
<rect x="369.4" y="57.1" width="18.6" height="3.6" fill="#57d6ee"/>
<rect x="388" y="57.1" width="12.4" height="3.6" fill="#5eddec"/>
<rect x="400.4" y="57.1" width="6.2" height="3.6" fill="#65e3e9"/>
<rect x="406.6" y="57.1" width="12.4" height="3.6" fill="#6de9e6"/>
<rect x="419" y="57.1" width="6.2" height="3.6" fill="#74eee3"/>
<rect x="425.2" y="57.1" width="12.4" height="3.6" fill="#7bf2e0"/>
<rect x="437.6" y="57.1" width="12.4" height="3.6" fill="#82f6dd"/>
<rect x="450" y="57.1" width="18.6" height="3.6" fill="#89f9da"/>
<rect x="363.2" y="60.7" width="24.8" height="3.6" fill="#50cff0"/>
<rect x="388" y="60.7" width="12.4" height="3.6" fill="#57d6ee"/>
<rect x="400.4" y="60.7" width="6.2" height="3.6" fill="#5eddec"/>
<rect x="406.6" y="60.7" width="12.4" height="3.6" fill="#65e3e9"/>
<rect x="419" y="60.7" width="12.4" height="3.6" fill="#6de9e6"/>
<rect x="431.4" y="60.7" width="6.2" height="3.6" fill="#74eee3"/>
<rect x="437.6" y="60.7" width="12.4" height="3.6" fill="#7bf2e0"/>
<rect x="450" y="60.7" width="18.6" height="3.6" fill="#82f6dd"/>
<rect x="363.2" y="64.3" width="24.8" height="3.6" fill="#50c7f2"/>
<rect x="388" y="64.3" width="12.4" height="3.6" fill="#50cff0"/>
<rect x="400.4" y="64.3" width="12.4" height="3.6" fill="#57d6ee"/>
<rect x="412.8" y="64.3" width="6.2" height="3.6" fill="#5eddec"/>
<rect x="419" y="64.3" width="12.4" height="3.6" fill="#65e3e9"/>
<rect x="431.4" y="64.3" width="12.4" height="3.6" fill="#6de9e6"/>
<rect x="443.8" y="64.3" width="12.4" height="3.6" fill="#74eee3"/>
<rect x="456.2" y="64.3" width="12.4" height="3.6" fill="#7bf2e0"/>
<rect x="363.2" y="67.9" width="18.6" height="3.6" fill="#50c7f2"/>
<rect x="381.8" y="67.9" width="6.2" height="3.6" fill="#57bef4"/>
<rect x="388" y="67.9" width="12.4" height="3.6" fill="#50c7f2"/>
<rect x="400.4" y="67.9" width="12.4" height="3.6" fill="#50cff0"/>
<rect x="412.8" y="67.9" width="12.4" height="3.6" fill="#57d6ee"/>
<rect x="425.2" y="67.9" width="6.2" height="3.6" fill="#5eddec"/>
<rect x="431.4" y="67.9" width="12.4" height="3.6" fill="#65e3e9"/>
<rect x="443.8" y="67.9" width="12.4" height="3.6" fill="#6de9e6"/>
<rect x="456.2" y="67.9" width="12.4" height="3.6" fill="#74eee3"/>
<rect x="363.2" y="71.5" width="18.6" height="3.6" fill="#57bef4"/>
<rect x="381.8" y="71.5" width="6.2" height="3.6" fill="#5eb5f6"/>
<rect x="388" y="71.5" width="18.6" height="3.6" fill="#57bef4"/>
<rect x="406.6" y="71.5" width="12.4" height="3.6" fill="#50c7f2"/>
<rect x="419" y="71.5" width="6.2" height="3.6" fill="#50cff0"/>
<rect x="425.2" y="71.5" width="12.4" height="3.6" fill="#57d6ee"/>
<rect x="437.6" y="71.5" width="6.2" height="3.6" fill="#5eddec"/>
<rect x="443.8" y="71.5" width="12.4" height="3.6" fill="#65e3e9"/>
<rect x="456.2" y="71.5" width="12.4" height="3.6" fill="#6de9e6"/>
<rect x="363.2" y="75.1" width="6.2" height="3.6" fill="#57bef4"/>
<rect x="369.4" y="75.1" width="31" height="3.6" fill="#5eb5f6"/>
<rect x="400.4" y="75.1" width="12.4" height="3.6" fill="#57bef4"/>
<rect x="412.8" y="75.1" width="12.4" height="3.6" fill="#50c7f2"/>
<rect x="425.2" y="75.1" width="12.4" height="3.6" fill="#50cff0"/>
<rect x="437.6" y="75.1" width="6.2" height="3.6" fill="#57d6ee"/>
<rect x="443.8" y="75.1" width="12.4" height="3.6" fill="#5eddec"/>
<rect x="456.2" y="75.1" width="12.4" height="3.6" fill="#65e3e9"/>
<rect x="363.2" y="78.7" width="6.2" height="3.6" fill="#57bef4"/>
<rect x="369.4" y="78.7" width="37.2" height="3.6" fill="#5eb5f6"/>
<rect x="406.6" y="78.7" width="12.4" height="3.6" fill="#57bef4"/>
<rect x="419" y="78.7" width="12.4" height="3.6" fill="#50c7f2"/>
<rect x="431.4" y="78.7" width="6.2" height="3.6" fill="#50cff0"/>
<rect x="437.6" y="78.7" width="12.4" height="3.6" fill="#57d6ee"/>
<rect x="450" y="78.7" width="12.4" height="3.6" fill="#5eddec"/>
<rect x="462.4" y="78.7" width="6.2" height="3.6" fill="#65e3e9"/>
<rect x="363.2" y="82.3" width="18.6" height="3.6" fill="#5eb5f6"/>
<rect x="381.8" y="82.3" width="6.2" height="3.6" fill="#65acf8"/>
<rect x="388" y="82.3" width="24.8" height="3.6" fill="#5eb5f6"/>
<rect x="412.8" y="82.3" width="12.4" height="3.6" fill="#57bef4"/>
<rect x="425.2" y="82.3" width="12.4" height="3.6" fill="#50c7f2"/>
<rect x="437.6" y="82.3" width="6.2" height="3.6" fill="#50cff0"/>
<rect x="443.8" y="82.3" width="12.4" height="3.6" fill="#57d6ee"/>
<rect x="456.2" y="82.3" width="6.2" height="3.6" fill="#5eddec"/>
<rect x="462.4" y="82.3" width="6.2" height="3.6" fill="#65e3e9"/>
<rect x="363.2" y="85.9" width="12.4" height="3.6" fill="#5eb5f6"/>
<rect x="375.6" y="85.9" width="31" height="3.6" fill="#65acf8"/>
<rect x="406.6" y="85.9" width="12.4" height="3.6" fill="#5eb5f6"/>
<rect x="419" y="85.9" width="6.2" height="3.6" fill="#57bef4"/>
<rect x="425.2" y="85.9" width="12.4" height="3.6" fill="#50c7f2"/>
<rect x="437.6" y="85.9" width="12.4" height="3.6" fill="#50cff0"/>
<rect x="450" y="85.9" width="6.2" height="3.6" fill="#57d6ee"/>
<rect x="456.2" y="85.9" width="12.4" height="3.6" fill="#5eddec"/>
<rect x="363.2" y="89.5" width="12.4" height="3.6" fill="#5eb5f6"/>
<rect x="375.6" y="89.5" width="37.2" height="3.6" fill="#65acf8"/>
<rect x="412.8" y="89.5" width="6.2" height="3.6" fill="#5eb5f6"/>
<rect x="419" y="89.5" width="12.4" height="3.6" fill="#57bef4"/>
<rect x="431.4" y="89.5" width="12.4" height="3.6" fill="#50c7f2"/>
<rect x="443.8" y="89.5" width="6.2" height="3.6" fill="#50cff0"/>
<rect x="450" y="89.5" width="12.4" height="3.6" fill="#57d6ee"/>
<rect x="462.4" y="89.5" width="6.2" height="3.6" fill="#5eddec"/>
<rect x="363.2" y="93.1" width="12.4" height="3.6" fill="#5eb5f6"/>
<rect x="375.6" y="93.1" width="37.2" height="3.6" fill="#65acf8"/>
<rect x="412.8" y="93.1" width="12.4" height="3.6" fill="#5eb5f6"/>
<rect x="425.2" y="93.1" width="6.2" height="3.6" fill="#57bef4"/>
<rect x="431.4" y="93.1" width="12.4" height="3.6" fill="#50c7f2"/>
<rect x="443.8" y="93.1" width="6.2" height="3.6" fill="#50cff0"/>
<rect x="450" y="93.1" width="12.4" height="3.6" fill="#57d6ee"/>
<rect x="462.4" y="93.1" width="6.2" height="3.6" fill="#5eddec"/>
<rect x="363.2" y="96.7" width="12.4" height="3.6" fill="#5eb5f6"/>
<rect x="375.6" y="96.7" width="37.2" height="3.6" fill="#65acf8"/>
<rect x="412.8" y="96.7" width="12.4" height="3.6" fill="#5eb5f6"/>
<rect x="425.2" y="96.7" width="12.4" height="3.6" fill="#57bef4"/>
<rect x="437.6" y="96.7" width="6.2" height="3.6" fill="#50c7f2"/>
<rect x="443.8" y="96.7" width="6.2" height="3.6" fill="#50cff0"/>
<rect x="450" y="96.7" width="12.4" height="3.6" fill="#57d6ee"/>
<rect x="462.4" y="96.7" width="6.2" height="3.6" fill="#5eddec"/>
<rect x="363.2" y="100.3" width="6.2" height="3.6" fill="#57bef4"/>
<rect x="369.4" y="100.3" width="12.4" height="3.6" fill="#5eb5f6"/>
<rect x="381.8" y="100.3" width="31" height="3.6" fill="#65acf8"/>
<rect x="412.8" y="100.3" width="12.4" height="3.6" fill="#5eb5f6"/>
<rect x="425.2" y="100.3" width="12.4" height="3.6" fill="#57bef4"/>
<rect x="437.6" y="100.3" width="6.2" height="3.6" fill="#50c7f2"/>
<rect x="443.8" y="100.3" width="6.2" height="3.6" fill="#50cff0"/>
<rect x="450" y="100.3" width="12.4" height="3.6" fill="#57d6ee"/>
<rect x="462.4" y="100.3" width="6.2" height="3.6" fill="#5eddec"/>
<rect x="363.2" y="103.9" width="12.4" height="3.6" fill="#57bef4"/>
<rect x="375.6" y="103.9" width="6.2" height="3.6" fill="#5eb5f6"/>
<rect x="381.8" y="103.9" width="31" height="3.6" fill="#65acf8"/>
<rect x="412.8" y="103.9" width="12.4" height="3.6" fill="#5eb5f6"/>
<rect x="425.2" y="103.9" width="12.4" height="3.6" fill="#57bef4"/>
<rect x="437.6" y="103.9" width="6.2" height="3.6" fill="#50c7f2"/>
<rect x="443.8" y="103.9" width="6.2" height="3.6" fill="#50cff0"/>
<rect x="450" y="103.9" width="12.4" height="3.6" fill="#57d6ee"/>
<rect x="462.4" y="103.9" width="6.2" height="3.6" fill="#5eddec"/>
<rect x="363.2" y="107.5" width="6.2" height="3.6" fill="#50cff0"/>
<rect x="369.4" y="107.5" width="6.2" height="3.6" fill="#50c7f2"/>
<rect x="375.6" y="107.5" width="12.4" height="3.6" fill="#57bef4"/>
<rect x="388" y="107.5" width="24.8" height="3.6" fill="#5eb5f6"/>
<rect x="412.8" y="107.5" width="18.6" height="3.6" fill="#57bef4"/>
<rect x="431.4" y="107.5" width="6.2" height="3.6" fill="#50c7f2"/>
<rect x="437.6" y="107.5" width="6.2" height="3.6" fill="#50cff0"/>
<rect x="443.8" y="107.5" width="12.4" height="3.6" fill="#57d6ee"/>
<rect x="456.2" y="107.5" width="6.2" height="3.6" fill="#5eddec"/>
<rect x="462.4" y="107.5" width="6.2" height="3.6" fill="#65e3e9"/>
<rect x="363.2" y="111.1" width="6.2" height="3.6" fill="#57d6ee"/>
<rect x="369.4" y="111.1" width="12.4" height="3.6" fill="#50cff0"/>
<rect x="381.8" y="111.1" width="6.2" height="3.6" fill="#50c7f2"/>
<rect x="388" y="111.1" width="31" height="3.6" fill="#57bef4"/>
<rect x="419" y="111.1" width="12.4" height="3.6" fill="#50c7f2"/>
<rect x="431.4" y="111.1" width="6.2" height="3.6" fill="#50cff0"/>
<rect x="437.6" y="111.1" width="6.2" height="3.6" fill="#57d6ee"/>
<rect x="443.8" y="111.1" width="12.4" height="3.6" fill="#5eddec"/>
<rect x="456.2" y="111.1" width="12.4" height="3.6" fill="#65e3e9"/>
<rect x="363.2" y="114.7" width="12.4" height="3.6" fill="#5eddec"/>
<rect x="375.6" y="114.7" width="6.2" height="3.6" fill="#57d6ee"/>
<rect x="381.8" y="114.7" width="12.4" height="3.6" fill="#50cff0"/>
<rect x="394.2" y="114.7" width="18.6" height="3.6" fill="#50c7f2"/>
<rect x="412.8" y="114.7" width="12.4" height="3.6" fill="#50cff0"/>
<rect x="425.2" y="114.7" width="12.4" height="3.6" fill="#57d6ee"/>
<rect x="437.6" y="114.7" width="6.2" height="3.6" fill="#5eddec"/>
<rect x="443.8" y="114.7" width="18.6" height="3.6" fill="#65e3e9"/>
<rect x="462.4" y="114.7" width="6.2" height="3.6" fill="#6de9e6"/>
<rect x="363.2" y="118.3" width="12.4" height="3.6" fill="#65e3e9"/>
<rect x="375.6" y="118.3" width="24.8" height="3.6" fill="#5eddec"/>
<rect x="400.4" y="118.3" width="6.2" height="3.6" fill="#57d6ee"/>
<rect x="406.6" y="118.3" width="18.6" height="3.6" fill="#5eddec"/>
<rect x="425.2" y="118.3" width="18.6" height="3.6" fill="#65e3e9"/>
<rect x="443.8" y="118.3" width="24.8" height="3.6" fill="#6de9e6"/>
<rect x="363.2" y="121.9" width="74.4" height="3.6" fill="#6de9e6"/>
<rect x="437.6" y="121.9" width="31" height="3.6" fill="#74eee3"/>
</g>
<path d="M368 89C367.67 87.13 368.97 87.22 371.2 85C373.43 82.78 379.35 78.95 381.4 75.7C383.45 72.45 381.62 69.25 383.5 65.5C385.38 61.75 389.62 56.45 392.7 53.2C395.78 49.95 398.78 48.37 402 46C405.22 43.63 408.85 40.88 412 39C415.15 37.12 417.02 35.42 420.9 34.7C424.78 33.98 430.48 33.5 435.3 34.7C440.12 35.9 445.88 38.6 449.8 41.9C453.72 45.2 456.77 49.48 458.8 54.5C460.83 59.52 461.63 65.25 462 72C462.37 78.75 462 89 461 95C460 101 458.5 104.5 456 108C453.5 111.5 450.33 114.23 446 116C441.67 117.77 435.5 118.37 430 118.6C424.5 118.83 419.17 118.43 413 117.4C406.83 116.37 398.6 114.47 393 112.4C387.4 110.33 382.7 107.7 379.4 105C376.1 102.3 375.1 98.87 373.2 96.2C371.3 93.53 368.33 90.87 368 89Z" class="ct"/>
<path d="M385.5 86C387.55 82.95 393.22 78.83 397.8 73.7C402.38 68.57 409.15 59.98 413 55.2C416.85 50.42 417.78 47.22 420.9 45C424.02 42.78 428.08 41.52 431.7 41.9C435.32 42.28 439.28 44.58 442.6 47.3C445.92 50.02 449.03 54.08 451.6 58.2C454.17 62.32 456.43 67.53 458 72C459.57 76.47 460.83 80.33 461 85C461.17 89.67 460.83 95.67 459 100C457.17 104.33 454.33 108.73 450 111C445.67 113.27 440 113.6 433 113.6C426 113.6 414.55 112.43 408 111C401.45 109.57 397.45 108.17 393.7 105C389.95 101.83 386.87 95.17 385.5 92C384.13 88.83 383.45 89.05 385.5 86Z" class="ct"/>
<path d="M407 92C407.5 87.47 410.77 81.88 413 77.8C415.23 73.72 416.23 70.8 420.4 67.5C424.57 64.2 433.7 58.95 438 58C442.3 57.05 443.63 59.37 446.2 61.8C448.77 64.23 451.93 67.9 453.4 72.6C454.87 77.3 454.9 85.77 455 90C455.1 94.23 455.17 95.1 454 98C452.83 100.9 452.33 105.63 448 107.4C443.67 109.17 434.33 109 428 108.6C421.67 108.2 413.5 107.77 410 105C406.5 102.23 406.5 96.53 407 92Z" class="ct"/>
<path d="M425.4 90C425.57 86.83 425.65 81.9 427 79C428.35 76.1 430.9 73.37 433.5 72.6C436.1 71.83 440.02 72.67 442.6 74.4C445.18 76.13 447.6 79.23 449 83C450.4 86.77 451.6 93.33 451 97C450.4 100.67 448.4 103.9 445.4 105C442.4 106.1 436.23 104.77 433 103.6C429.77 102.43 427.27 100.27 426 98C424.73 95.73 425.23 93.17 425.4 90Z" class="ct"/>
<rect x="363.2" y="22.2" width="101.5" height="106.2" class="fr"/>
<line x1="363.2" y1="128.4" x2="363.2" y2="130" class="tk"/>
<line x1="381.65" y1="128.4" x2="381.65" y2="130" class="tk"/>
<line x1="400.11" y1="128.4" x2="400.11" y2="130" class="tk"/>
<line x1="418.56" y1="128.4" x2="418.56" y2="130" class="tk"/>
<line x1="437.02" y1="128.4" x2="437.02" y2="130" class="tk"/>
<line x1="455.47" y1="128.4" x2="455.47" y2="130" class="tk"/>
<line x1="361.6" y1="22.2" x2="363.2" y2="22.2" class="tk"/>
<line x1="361.6" y1="43.44" x2="363.2" y2="43.44" class="tk"/>
<line x1="361.6" y1="64.68" x2="363.2" y2="64.68" class="tk"/>
<line x1="361.6" y1="85.92" x2="363.2" y2="85.92" class="tk"/>
<line x1="361.6" y1="107.16" x2="363.2" y2="107.16" class="tk"/>
<line x1="361.6" y1="128.4" x2="363.2" y2="128.4" class="tk"/>
<rect x="470.5" y="22.2" width="5.6" height="106.2" fill="url(#cbg)" stroke="rgba(60,60,60,0.35)" stroke-width="0.6"/>
<line x1="476.1" y1="114.55" x2="477.3" y2="114.55" class="tkc"/>
<line x1="476.1" y1="99.16" x2="477.3" y2="99.16" class="tkc"/>
<line x1="476.1" y1="83.77" x2="477.3" y2="83.77" class="tkc"/>
<line x1="476.1" y1="68.37" x2="477.3" y2="68.37" class="tkc"/>
<line x1="476.1" y1="52.98" x2="477.3" y2="52.98" class="tkc"/>
<line x1="476.1" y1="37.59" x2="477.3" y2="37.59" class="tkc"/>
<line x1="476.1" y1="22.2" x2="477.3" y2="22.2" class="tkc"/>
<line x1="41.51" y1="163.4" x2="41.51" y2="273" class="g"/>
<line x1="56.53" y1="163.4" x2="56.53" y2="273" class="g"/>
<line x1="71.54" y1="163.4" x2="71.54" y2="273" class="g"/>
<line x1="86.56" y1="163.4" x2="86.56" y2="273" class="g"/>
<line x1="101.57" y1="163.4" x2="101.57" y2="273" class="g"/>
<line x1="116.59" y1="163.4" x2="116.59" y2="273" class="g"/>
<line x1="26.5" y1="166.62" x2="131.6" y2="166.62" class="g"/>
<line x1="26.5" y1="182.74" x2="131.6" y2="182.74" class="g"/>
<line x1="26.5" y1="198.86" x2="131.6" y2="198.86" class="g"/>
<line x1="26.5" y1="214.98" x2="131.6" y2="214.98" class="g"/>
<line x1="26.5" y1="231.09" x2="131.6" y2="231.09" class="g"/>
<line x1="26.5" y1="247.21" x2="131.6" y2="247.21" class="g"/>
<line x1="26.5" y1="263.33" x2="131.6" y2="263.33" class="g"/>
<clipPath id="cp3"><polygon points="26.8,213 32,213 32,209 41,209 41,202 50,202 50,195 58,195 58,191 65,191 65,187 73,187 73,180 77,180 77,177 91,177 91,174 99,174 99,177 103,177 103,186 108,186 108,197 112,197 112,205 116,205 116,241 114,241 114,245 110,245 110,253 106,253 106,257 102,257 102,260 97,260 97,263.5 51,263.5 51,260 46,260 46,257 41,257 41,255 36,255 36,249 26.8,249"/></clipPath>
<g clip-path="url(#cp3)">
<rect x="26.8" y="174" width="4.4" height="3.6" fill="#ff5752"/>
<rect x="31.2" y="174" width="4.4" height="3.6" fill="#ff6358"/>
<rect x="35.6" y="174" width="4.4" height="3.6" fill="#ff6056"/>
<rect x="40" y="174" width="4.4" height="3.6" fill="#ff6b5c"/>
<rect x="44.4" y="174" width="4.4" height="3.6" fill="#ff5a53"/>
<rect x="48.8" y="174" width="4.4" height="3.6" fill="#ff4e4d"/>
<rect x="53.2" y="174" width="4.4" height="3.6" fill="#ff6c5c"/>
<rect x="57.6" y="174" width="4.4" height="3.6" fill="#ff6e5d"/>
<rect x="62" y="174" width="4.4" height="3.6" fill="#ff6f5e"/>
<rect x="66.4" y="174" width="4.4" height="3.6" fill="#ff504e"/>
<rect x="70.8" y="174" width="4.4" height="3.6" fill="#ff5e55"/>
<rect x="75.2" y="174" width="4.4" height="3.6" fill="#ff675a"/>
<rect x="79.6" y="174" width="4.4" height="3.6" fill="#ff5350"/>
<rect x="84" y="174" width="4.4" height="3.6" fill="#ff6d5d"/>
<rect x="88.4" y="174" width="4.4" height="3.6" fill="#ff5b54"/>
<rect x="92.8" y="174" width="4.4" height="3.6" fill="#ff6f5e"/>
<rect x="97.2" y="174" width="4.4" height="3.6" fill="#ff8368"/>
<rect x="101.6" y="174" width="4.4" height="3.6" fill="#ff7661"/>
<rect x="106" y="174" width="4.4" height="3.6" fill="#ff9471"/>
<rect x="110.4" y="174" width="4.4" height="3.6" fill="#ff9e77"/>
<rect x="114.8" y="174" width="4.4" height="3.6" fill="#ff9371"/>
<rect x="26.8" y="177.6" width="4.4" height="3.6" fill="#ff6f5e"/>
<rect x="31.2" y="177.6" width="4.4" height="3.6" fill="#ff5953"/>
<rect x="35.6" y="177.6" width="4.4" height="3.6" fill="#ff6559"/>
<rect x="40" y="177.6" width="4.4" height="3.6" fill="#ff705e"/>
<rect x="44.4" y="177.6" width="4.4" height="3.6" fill="#ff6358"/>
<rect x="48.8" y="177.6" width="17.6" height="3.6" fill="#ff4d4d"/>
<rect x="66.4" y="177.6" width="4.4" height="3.6" fill="#ff5350"/>
<rect x="70.8" y="177.6" width="4.4" height="3.6" fill="#ff705e"/>
<rect x="75.2" y="177.6" width="4.4" height="3.6" fill="#ff6b5c"/>
<rect x="79.6" y="177.6" width="4.4" height="3.6" fill="#ff6659"/>
<rect x="84" y="177.6" width="4.4" height="3.6" fill="#ff6559"/>
<rect x="88.4" y="177.6" width="4.4" height="3.6" fill="#ff7963"/>
<rect x="92.8" y="177.6" width="4.4" height="3.6" fill="#ff7c65"/>
<rect x="97.2" y="177.6" width="4.4" height="3.6" fill="#ff6a5b"/>
<rect x="101.6" y="177.6" width="4.4" height="3.6" fill="#ff7460"/>
<rect x="106" y="177.6" width="4.4" height="3.6" fill="#ffa379"/>
<rect x="110.4" y="177.6" width="4.4" height="3.6" fill="#ffb583"/>
<rect x="114.8" y="177.6" width="4.4" height="3.6" fill="#ffb282"/>
<rect x="26.8" y="181.2" width="4.4" height="3.6" fill="#ff705e"/>
<rect x="31.2" y="181.2" width="4.4" height="3.6" fill="#ff6d5d"/>
<rect x="35.6" y="181.2" width="4.4" height="3.6" fill="#ff5c54"/>
<rect x="40" y="181.2" width="4.4" height="3.6" fill="#ff6b5c"/>
<rect x="44.4" y="181.2" width="4.4" height="3.6" fill="#ff6056"/>
<rect x="48.8" y="181.2" width="4.4" height="3.6" fill="#ff6157"/>
<rect x="53.2" y="181.2" width="4.4" height="3.6" fill="#ff6056"/>
<rect x="57.6" y="181.2" width="4.4" height="3.6" fill="#ff5350"/>
<rect x="62" y="181.2" width="4.4" height="3.6" fill="#ff695b"/>
<rect x="66.4" y="181.2" width="4.4" height="3.6" fill="#ff4e4d"/>
<rect x="70.8" y="181.2" width="4.4" height="3.6" fill="#ff7360"/>
<rect x="75.2" y="181.2" width="4.4" height="3.6" fill="#ff5b54"/>
<rect x="79.6" y="181.2" width="4.4" height="3.6" fill="#ff7963"/>
<rect x="84" y="181.2" width="4.4" height="3.6" fill="#ff5d55"/>
<rect x="88.4" y="181.2" width="4.4" height="3.6" fill="#ff6659"/>
<rect x="92.8" y="181.2" width="4.4" height="3.6" fill="#ff7461"/>
<rect x="97.2" y="181.2" width="4.4" height="3.6" fill="#ff886b"/>
<rect x="101.6" y="181.2" width="4.4" height="3.6" fill="#ff8c6d"/>
<rect x="106" y="181.2" width="4.4" height="3.6" fill="#ffa479"/>
<rect x="110.4" y="181.2" width="4.4" height="3.6" fill="#ffbc88"/>
<rect x="114.8" y="181.2" width="4.4" height="3.6" fill="#fecc92"/>
<rect x="26.8" y="184.8" width="4.4" height="3.6" fill="#ff6056"/>
<rect x="31.2" y="184.8" width="4.4" height="3.6" fill="#ff725f"/>
<rect x="35.6" y="184.8" width="4.4" height="3.6" fill="#ff5c54"/>
<rect x="40" y="184.8" width="4.4" height="3.6" fill="#ff5752"/>
<rect x="44.4" y="184.8" width="4.4" height="3.6" fill="#ff4d4d"/>
<rect x="48.8" y="184.8" width="4.4" height="3.6" fill="#ff6358"/>
<rect x="53.2" y="184.8" width="4.4" height="3.6" fill="#ff675a"/>
<rect x="57.6" y="184.8" width="4.4" height="3.6" fill="#ff5b54"/>
<rect x="62" y="184.8" width="4.4" height="3.6" fill="#ff5551"/>
<rect x="66.4" y="184.8" width="4.4" height="3.6" fill="#ff5450"/>
<rect x="70.8" y="184.8" width="4.4" height="3.6" fill="#ff685a"/>
<rect x="75.2" y="184.8" width="4.4" height="3.6" fill="#ff7661"/>
<rect x="79.6" y="184.8" width="4.4" height="3.6" fill="#ff5f56"/>
<rect x="84" y="184.8" width="4.4" height="3.6" fill="#ff7b64"/>
<rect x="88.4" y="184.8" width="8.8" height="3.6" fill="#ff8167"/>
<rect x="97.2" y="184.8" width="4.4" height="3.6" fill="#ff8569"/>
<rect x="101.6" y="184.8" width="4.4" height="3.6" fill="#ffac7e"/>
<rect x="106" y="184.8" width="4.4" height="3.6" fill="#ffc48d"/>
<rect x="110.4" y="184.8" width="4.4" height="3.6" fill="#f4d698"/>
<rect x="114.8" y="184.8" width="4.4" height="3.6" fill="#dee9a8"/>
<rect x="26.8" y="188.4" width="4.4" height="3.6" fill="#ff5852"/>
<rect x="31.2" y="188.4" width="4.4" height="3.6" fill="#ff7561"/>
<rect x="35.6" y="188.4" width="4.4" height="3.6" fill="#ff5c54"/>
<rect x="40" y="188.4" width="4.4" height="3.6" fill="#ff4d4d"/>
<rect x="44.4" y="188.4" width="4.4" height="3.6" fill="#ff5e55"/>
<rect x="48.8" y="188.4" width="4.4" height="3.6" fill="#ff5d55"/>
<rect x="53.2" y="188.4" width="4.4" height="3.6" fill="#ff6458"/>
<rect x="57.6" y="188.4" width="4.4" height="3.6" fill="#ff5a53"/>
<rect x="62" y="188.4" width="4.4" height="3.6" fill="#ff6358"/>
<rect x="66.4" y="188.4" width="4.4" height="3.6" fill="#ff7360"/>
<rect x="70.8" y="188.4" width="4.4" height="3.6" fill="#ff7561"/>
<rect x="75.2" y="188.4" width="4.4" height="3.6" fill="#ff5c54"/>
<rect x="79.6" y="188.4" width="4.4" height="3.6" fill="#ff6458"/>
<rect x="84" y="188.4" width="4.4" height="3.6" fill="#ff7b64"/>
<rect x="88.4" y="188.4" width="4.4" height="3.6" fill="#ff7963"/>
<rect x="92.8" y="188.4" width="4.4" height="3.6" fill="#ff896b"/>
<rect x="97.2" y="188.4" width="4.4" height="3.6" fill="#ff8f6e"/>
<rect x="101.6" y="188.4" width="4.4" height="3.6" fill="#ffa47a"/>
<rect x="106" y="188.4" width="4.4" height="3.6" fill="#ffbc87"/>
<rect x="110.4" y="188.4" width="4.4" height="3.6" fill="#ebdf9f"/>
<rect x="114.8" y="188.4" width="4.4" height="3.6" fill="#daecaa"/>
<rect x="26.8" y="192" width="4.4" height="3.6" fill="#ff7862"/>
<rect x="31.2" y="192" width="4.4" height="3.6" fill="#ff6b5c"/>
<rect x="35.6" y="192" width="4.4" height="3.6" fill="#ff6f5e"/>
<rect x="40" y="192" width="4.4" height="3.6" fill="#ff524f"/>
<rect x="44.4" y="192" width="4.4" height="3.6" fill="#ff5e55"/>
<rect x="48.8" y="192" width="4.4" height="3.6" fill="#ff685a"/>
<rect x="53.2" y="192" width="4.4" height="3.6" fill="#ff5450"/>
<rect x="57.6" y="192" width="4.4" height="3.6" fill="#ff4f4e"/>
<rect x="62" y="192" width="4.4" height="3.6" fill="#ff6659"/>
<rect x="66.4" y="192" width="4.4" height="3.6" fill="#ff715f"/>
<rect x="70.8" y="192" width="4.4" height="3.6" fill="#ff6a5b"/>
<rect x="75.2" y="192" width="4.4" height="3.6" fill="#ff6f5e"/>
<rect x="79.6" y="192" width="4.4" height="3.6" fill="#ff8a6c"/>
<rect x="84" y="192" width="4.4" height="3.6" fill="#ff8468"/>
<rect x="88.4" y="192" width="4.4" height="3.6" fill="#ff896b"/>
<rect x="92.8" y="192" width="4.4" height="3.6" fill="#ff9a74"/>
<rect x="97.2" y="192" width="4.4" height="3.6" fill="#ff9f77"/>
<rect x="101.6" y="192" width="4.4" height="3.6" fill="#ffc88f"/>
<rect x="106" y="192" width="4.4" height="3.6" fill="#ffc990"/>
<rect x="110.4" y="192" width="4.4" height="3.6" fill="#d8eeac"/>
<rect x="114.8" y="192" width="4.4" height="3.6" fill="#c4f9b9"/>
<rect x="26.8" y="195.6" width="4.4" height="3.6" fill="#ff7a63"/>
<rect x="31.2" y="195.6" width="4.4" height="3.6" fill="#ff725f"/>
<rect x="35.6" y="195.6" width="4.4" height="3.6" fill="#ff7662"/>
<rect x="40" y="195.6" width="4.4" height="3.6" fill="#ff6358"/>
<rect x="44.4" y="195.6" width="4.4" height="3.6" fill="#ff6056"/>
<rect x="48.8" y="195.6" width="4.4" height="3.6" fill="#ff6659"/>
<rect x="53.2" y="195.6" width="4.4" height="3.6" fill="#ff6f5e"/>
<rect x="57.6" y="195.6" width="4.4" height="3.6" fill="#ff6358"/>
<rect x="62" y="195.6" width="4.4" height="3.6" fill="#ff5b54"/>
<rect x="66.4" y="195.6" width="4.4" height="3.6" fill="#ff6257"/>
<rect x="70.8" y="195.6" width="4.4" height="3.6" fill="#ff7b64"/>
<rect x="75.2" y="195.6" width="4.4" height="3.6" fill="#ff675a"/>
<rect x="79.6" y="195.6" width="4.4" height="3.6" fill="#ff8c6d"/>
<rect x="84" y="195.6" width="4.4" height="3.6" fill="#ff9873"/>
<rect x="88.4" y="195.6" width="4.4" height="3.6" fill="#ff896b"/>
<rect x="92.8" y="195.6" width="4.4" height="3.6" fill="#ffa178"/>
<rect x="97.2" y="195.6" width="4.4" height="3.6" fill="#ffb483"/>
<rect x="101.6" y="195.6" width="4.4" height="3.6" fill="#f5d598"/>
<rect x="106" y="195.6" width="4.4" height="3.6" fill="#ecde9f"/>
<rect x="110.4" y="195.6" width="4.4" height="3.6" fill="#ccf5b4"/>
<rect x="114.8" y="195.6" width="4.4" height="3.6" fill="#c7f7b7"/>
<rect x="26.8" y="199.2" width="4.4" height="3.6" fill="#ff8569"/>
<rect x="31.2" y="199.2" width="4.4" height="3.6" fill="#ff6659"/>
<rect x="35.6" y="199.2" width="4.4" height="3.6" fill="#ff7e66"/>
<rect x="40" y="199.2" width="4.4" height="3.6" fill="#ff6c5c"/>
<rect x="44.4" y="199.2" width="4.4" height="3.6" fill="#ff695b"/>
<rect x="48.8" y="199.2" width="4.4" height="3.6" fill="#ff6659"/>
<rect x="53.2" y="199.2" width="4.4" height="3.6" fill="#ff5f56"/>
<rect x="57.6" y="199.2" width="4.4" height="3.6" fill="#ff6559"/>
<rect x="62" y="199.2" width="4.4" height="3.6" fill="#ff8067"/>
<rect x="66.4" y="199.2" width="4.4" height="3.6" fill="#ff6a5b"/>
<rect x="70.8" y="199.2" width="4.4" height="3.6" fill="#ff715f"/>
<rect x="75.2" y="199.2" width="8.8" height="3.6" fill="#ff8268"/>
<rect x="84" y="199.2" width="4.4" height="3.6" fill="#ff8c6d"/>
<rect x="88.4" y="199.2" width="4.4" height="3.6" fill="#ffa278"/>
<rect x="92.8" y="199.2" width="4.4" height="3.6" fill="#ffad7f"/>
<rect x="97.2" y="199.2" width="4.4" height="3.6" fill="#ffc990"/>
<rect x="101.6" y="199.2" width="4.4" height="3.6" fill="#f0db9c"/>
<rect x="106" y="199.2" width="4.4" height="3.6" fill="#dee9a8"/>
<rect x="110.4" y="199.2" width="4.4" height="3.6" fill="#c9f7b6"/>
<rect x="114.8" y="199.2" width="4.4" height="3.6" fill="#bdfbbd"/>
<rect x="26.8" y="202.8" width="4.4" height="3.6" fill="#ff8067"/>
<rect x="31.2" y="202.8" width="4.4" height="3.6" fill="#ff7662"/>
<rect x="35.6" y="202.8" width="4.4" height="3.6" fill="#ff6458"/>
<rect x="40" y="202.8" width="4.4" height="3.6" fill="#ff685a"/>
<rect x="44.4" y="202.8" width="4.4" height="3.6" fill="#ff8066"/>
<rect x="48.8" y="202.8" width="4.4" height="3.6" fill="#ff8167"/>
<rect x="53.2" y="202.8" width="4.4" height="3.6" fill="#ff7360"/>
<rect x="57.6" y="202.8" width="4.4" height="3.6" fill="#ff7561"/>
<rect x="62" y="202.8" width="4.4" height="3.6" fill="#ff725f"/>
<rect x="66.4" y="202.8" width="4.4" height="3.6" fill="#ff7a64"/>
<rect x="70.8" y="202.8" width="4.4" height="3.6" fill="#ff9772"/>
<rect x="75.2" y="202.8" width="4.4" height="3.6" fill="#ff9170"/>
<rect x="79.6" y="202.8" width="4.4" height="3.6" fill="#ff886b"/>
<rect x="84" y="202.8" width="4.4" height="3.6" fill="#ff9d76"/>
<rect x="88.4" y="202.8" width="4.4" height="3.6" fill="#ffa47a"/>
<rect x="92.8" y="202.8" width="4.4" height="3.6" fill="#ffb885"/>
<rect x="97.2" y="202.8" width="4.4" height="3.6" fill="#f3d89a"/>
<rect x="101.6" y="202.8" width="4.4" height="3.6" fill="#efdc9d"/>
<rect x="106" y="202.8" width="4.4" height="3.6" fill="#dee9a8"/>
<rect x="110.4" y="202.8" width="4.4" height="3.6" fill="#d3f1af"/>
<rect x="114.8" y="202.8" width="4.4" height="3.6" fill="#bafcbf"/>
<rect x="26.8" y="206.4" width="4.4" height="3.6" fill="#ff9f77"/>
<rect x="31.2" y="206.4" width="4.4" height="3.6" fill="#ff876a"/>
<rect x="35.6" y="206.4" width="8.8" height="3.6" fill="#ff7d65"/>
<rect x="44.4" y="206.4" width="4.4" height="3.6" fill="#ff8f6e"/>
<rect x="48.8" y="206.4" width="4.4" height="3.6" fill="#ff8368"/>
<rect x="53.2" y="206.4" width="4.4" height="3.6" fill="#ff8c6d"/>
<rect x="57.6" y="206.4" width="8.8" height="3.6" fill="#ff7a64"/>
<rect x="66.4" y="206.4" width="4.4" height="3.6" fill="#ffa077"/>
<rect x="70.8" y="206.4" width="4.4" height="3.6" fill="#ff9471"/>
<rect x="75.2" y="206.4" width="4.4" height="3.6" fill="#ff9974"/>
<rect x="79.6" y="206.4" width="4.4" height="3.6" fill="#ffa379"/>
<rect x="84" y="206.4" width="4.4" height="3.6" fill="#ffb784"/>
<rect x="88.4" y="206.4" width="4.4" height="3.6" fill="#ffab7e"/>
<rect x="92.8" y="206.4" width="4.4" height="3.6" fill="#fad094"/>
<rect x="97.2" y="206.4" width="4.4" height="3.6" fill="#e6e3a2"/>
<rect x="101.6" y="206.4" width="4.4" height="3.6" fill="#d7efad"/>
<rect x="106" y="206.4" width="4.4" height="3.6" fill="#d6efad"/>
<rect x="110.4" y="206.4" width="4.4" height="3.6" fill="#befbbd"/>
<rect x="114.8" y="206.4" width="4.4" height="3.6" fill="#c2f9ba"/>
<rect x="26.8" y="210" width="4.4" height="3.6" fill="#ffa178"/>
<rect x="31.2" y="210" width="4.4" height="3.6" fill="#ffad7f"/>
<rect x="35.6" y="210" width="4.4" height="3.6" fill="#ff916f"/>
<rect x="40" y="210" width="4.4" height="3.6" fill="#ff8268"/>
<rect x="44.4" y="210" width="4.4" height="3.6" fill="#ff866a"/>
<rect x="48.8" y="210" width="4.4" height="3.6" fill="#ff9571"/>
<rect x="53.2" y="210" width="4.4" height="3.6" fill="#ffa078"/>
<rect x="57.6" y="210" width="4.4" height="3.6" fill="#ff9370"/>
<rect x="62" y="210" width="4.4" height="3.6" fill="#ff8f6e"/>
<rect x="66.4" y="210" width="4.4" height="3.6" fill="#ff9a74"/>
<rect x="70.8" y="210" width="4.4" height="3.6" fill="#ff9f77"/>
<rect x="75.2" y="210" width="4.4" height="3.6" fill="#ffb986"/>
<rect x="79.6" y="210" width="4.4" height="3.6" fill="#ffba86"/>
<rect x="84" y="210" width="4.4" height="3.6" fill="#ffbb87"/>
<rect x="88.4" y="210" width="4.4" height="3.6" fill="#ffb986"/>
<rect x="92.8" y="210" width="4.4" height="3.6" fill="#f1d99b"/>
<rect x="97.2" y="210" width="4.4" height="3.6" fill="#f3d79a"/>
<rect x="101.6" y="210" width="4.4" height="3.6" fill="#d7efad"/>
<rect x="106" y="210" width="4.4" height="3.6" fill="#cbf5b4"/>
<rect x="110.4" y="210" width="4.4" height="3.6" fill="#c3f9b9"/>
<rect x="114.8" y="210" width="4.4" height="3.6" fill="#c1fabb"/>
<rect x="26.8" y="213.6" width="4.4" height="3.6" fill="#ffb986"/>
<rect x="31.2" y="213.6" width="4.4" height="3.6" fill="#ffc78e"/>
<rect x="35.6" y="213.6" width="4.4" height="3.6" fill="#ffae7f"/>
<rect x="40" y="213.6" width="4.4" height="3.6" fill="#ff9d76"/>
<rect x="44.4" y="213.6" width="4.4" height="3.6" fill="#ff9773"/>
<rect x="48.8" y="213.6" width="4.4" height="3.6" fill="#ff9974"/>
<rect x="53.2" y="213.6" width="4.4" height="3.6" fill="#ff9c75"/>
<rect x="57.6" y="213.6" width="4.4" height="3.6" fill="#ff9b75"/>
<rect x="62" y="213.6" width="4.4" height="3.6" fill="#ff9e77"/>
<rect x="66.4" y="213.6" width="4.4" height="3.6" fill="#ffb282"/>
<rect x="70.8" y="213.6" width="4.4" height="3.6" fill="#ffaf80"/>
<rect x="75.2" y="213.6" width="4.4" height="3.6" fill="#ffb584"/>
<rect x="79.6" y="213.6" width="4.4" height="3.6" fill="#ffc68e"/>
<rect x="84" y="213.6" width="4.4" height="3.6" fill="#ffc18a"/>
<rect x="88.4" y="213.6" width="4.4" height="3.6" fill="#ffc88f"/>
<rect x="92.8" y="213.6" width="4.4" height="3.6" fill="#ecde9e"/>
<rect x="97.2" y="213.6" width="4.4" height="3.6" fill="#ddeaa8"/>
<rect x="101.6" y="213.6" width="4.4" height="3.6" fill="#d9edab"/>
<rect x="106" y="213.6" width="4.4" height="3.6" fill="#c0fabb"/>
<rect x="110.4" y="213.6" width="4.4" height="3.6" fill="#bafcbf"/>
<rect x="114.8" y="213.6" width="4.4" height="3.6" fill="#b2fec3"/>
<rect x="26.8" y="217.2" width="4.4" height="3.6" fill="#eedc9d"/>
<rect x="31.2" y="217.2" width="4.4" height="3.6" fill="#efdb9c"/>
<rect x="35.6" y="217.2" width="4.4" height="3.6" fill="#eedc9d"/>
<rect x="40" y="217.2" width="4.4" height="3.6" fill="#fbcf93"/>
<rect x="44.4" y="217.2" width="4.4" height="3.6" fill="#ffbd88"/>
<rect x="48.8" y="217.2" width="4.4" height="3.6" fill="#ffc58d"/>
<rect x="53.2" y="217.2" width="4.4" height="3.6" fill="#ffc28b"/>
<rect x="57.6" y="217.2" width="4.4" height="3.6" fill="#ffbc87"/>
<rect x="62" y="217.2" width="4.4" height="3.6" fill="#ffb483"/>
<rect x="66.4" y="217.2" width="4.4" height="3.6" fill="#ffb885"/>
<rect x="70.8" y="217.2" width="4.4" height="3.6" fill="#f3d799"/>
<rect x="75.2" y="217.2" width="4.4" height="3.6" fill="#f6d497"/>
<rect x="79.6" y="217.2" width="4.4" height="3.6" fill="#eedc9d"/>
<rect x="84" y="217.2" width="4.4" height="3.6" fill="#e7e2a2"/>
<rect x="88.4" y="217.2" width="4.4" height="3.6" fill="#e5e4a3"/>
<rect x="92.8" y="217.2" width="4.4" height="3.6" fill="#e1e7a6"/>
<rect x="97.2" y="217.2" width="4.4" height="3.6" fill="#d0f3b1"/>
<rect x="101.6" y="217.2" width="4.4" height="3.6" fill="#cbf5b4"/>
<rect x="106" y="217.2" width="4.4" height="3.6" fill="#bdfbbd"/>
<rect x="110.4" y="217.2" width="4.4" height="3.6" fill="#c1fabb"/>
<rect x="114.8" y="217.2" width="4.4" height="3.6" fill="#bcfcbe"/>
<rect x="26.8" y="220.8" width="4.4" height="3.6" fill="#c1faba"/>
<rect x="31.2" y="220.8" width="4.4" height="3.6" fill="#d2f2b0"/>
<rect x="35.6" y="220.8" width="4.4" height="3.6" fill="#dfe9a7"/>
<rect x="40" y="220.8" width="4.4" height="3.6" fill="#efdb9c"/>
<rect x="44.4" y="220.8" width="4.4" height="3.6" fill="#e6e4a3"/>
<rect x="48.8" y="220.8" width="4.4" height="3.6" fill="#f3d799"/>
<rect x="53.2" y="220.8" width="4.4" height="3.6" fill="#fdcd92"/>
<rect x="57.6" y="220.8" width="4.4" height="3.6" fill="#ecde9e"/>
<rect x="62" y="220.8" width="4.4" height="3.6" fill="#f9d195"/>
<rect x="66.4" y="220.8" width="4.4" height="3.6" fill="#e6e3a2"/>
<rect x="70.8" y="220.8" width="4.4" height="3.6" fill="#f8d296"/>
<rect x="75.2" y="220.8" width="4.4" height="3.6" fill="#dcebaa"/>
<rect x="79.6" y="220.8" width="4.4" height="3.6" fill="#dceba9"/>
<rect x="84" y="220.8" width="4.4" height="3.6" fill="#d2f2b0"/>
<rect x="88.4" y="220.8" width="4.4" height="3.6" fill="#d1f2b0"/>
<rect x="92.8" y="220.8" width="4.4" height="3.6" fill="#cef4b2"/>
<rect x="97.2" y="220.8" width="4.4" height="3.6" fill="#c6f8b7"/>
<rect x="101.6" y="220.8" width="4.4" height="3.6" fill="#bdfbbd"/>
<rect x="106" y="220.8" width="4.4" height="3.6" fill="#b8fdc0"/>
<rect x="110.4" y="220.8" width="4.4" height="3.6" fill="#bbfcbf"/>
<rect x="114.8" y="220.8" width="4.4" height="3.6" fill="#a5ffcb"/>
<rect x="26.8" y="224.4" width="4.4" height="3.6" fill="#aefec6"/>
<rect x="31.2" y="224.4" width="4.4" height="3.6" fill="#b2fec4"/>
<rect x="35.6" y="224.4" width="4.4" height="3.6" fill="#b4fec3"/>
<rect x="40" y="224.4" width="4.4" height="3.6" fill="#bffbbc"/>
<rect x="44.4" y="224.4" width="4.4" height="3.6" fill="#dbecaa"/>
<rect x="48.8" y="224.4" width="4.4" height="3.6" fill="#d8eeac"/>
<rect x="53.2" y="224.4" width="4.4" height="3.6" fill="#d6efad"/>
<rect x="57.6" y="224.4" width="4.4" height="3.6" fill="#d1f2b0"/>
<rect x="62" y="224.4" width="4.4" height="3.6" fill="#e9e1a1"/>
<rect x="66.4" y="224.4" width="4.4" height="3.6" fill="#dee9a8"/>
<rect x="70.8" y="224.4" width="4.4" height="3.6" fill="#d7efad"/>
<rect x="75.2" y="224.4" width="4.4" height="3.6" fill="#d5f0ae"/>
<rect x="79.6" y="224.4" width="4.4" height="3.6" fill="#ddeaa9"/>
<rect x="84" y="224.4" width="4.4" height="3.6" fill="#d8eeac"/>
<rect x="88.4" y="224.4" width="4.4" height="3.6" fill="#caf6b5"/>
<rect x="92.8" y="224.4" width="4.4" height="3.6" fill="#cef4b3"/>
<rect x="97.2" y="224.4" width="4.4" height="3.6" fill="#c9f7b6"/>
<rect x="101.6" y="224.4" width="4.4" height="3.6" fill="#c9f6b6"/>
<rect x="106" y="224.4" width="4.4" height="3.6" fill="#adffc7"/>
<rect x="110.4" y="224.4" width="4.4" height="3.6" fill="#b5fdc2"/>
<rect x="114.8" y="224.4" width="4.4" height="3.6" fill="#a7ffca"/>
<rect x="26.8" y="228" width="4.4" height="3.6" fill="#99fed2"/>
<rect x="31.2" y="228" width="4.4" height="3.6" fill="#97fed2"/>
<rect x="35.6" y="228" width="4.4" height="3.6" fill="#9afed1"/>
<rect x="40" y="228" width="4.4" height="3.6" fill="#b1fec4"/>
<rect x="44.4" y="228" width="4.4" height="3.6" fill="#b9fcc0"/>
<rect x="48.8" y="228" width="4.4" height="3.6" fill="#b1fec5"/>
<rect x="53.2" y="228" width="4.4" height="3.6" fill="#b5fdc2"/>
<rect x="57.6" y="228" width="4.4" height="3.6" fill="#b8fdc0"/>
<rect x="62" y="228" width="4.4" height="3.6" fill="#d1f2b1"/>
<rect x="66.4" y="228" width="8.8" height="3.6" fill="#ccf5b4"/>
<rect x="75.2" y="228" width="4.4" height="3.6" fill="#c2faba"/>
<rect x="79.6" y="228" width="4.4" height="3.6" fill="#c4f9b9"/>
<rect x="84" y="228" width="4.4" height="3.6" fill="#c5f8b8"/>
<rect x="88.4" y="228" width="4.4" height="3.6" fill="#befbbc"/>
<rect x="92.8" y="228" width="4.4" height="3.6" fill="#c4f9b9"/>
<rect x="97.2" y="228" width="4.4" height="3.6" fill="#bffbbc"/>
<rect x="101.6" y="228" width="4.4" height="3.6" fill="#bcfcbe"/>
<rect x="106" y="228" width="4.4" height="3.6" fill="#b9fcc0"/>
<rect x="110.4" y="228" width="4.4" height="3.6" fill="#b4fec3"/>
<rect x="114.8" y="228" width="4.4" height="3.6" fill="#a4ffcb"/>
<rect x="26.8" y="231.6" width="4.4" height="3.6" fill="#84f7dc"/>
<rect x="31.2" y="231.6" width="4.4" height="3.6" fill="#96fdd3"/>
<rect x="35.6" y="231.6" width="4.4" height="3.6" fill="#99fed1"/>
<rect x="40" y="231.6" width="4.4" height="3.6" fill="#9effcf"/>
<rect x="44.4" y="231.6" width="4.4" height="3.6" fill="#a5ffcb"/>
<rect x="48.8" y="231.6" width="4.4" height="3.6" fill="#a7ffca"/>
<rect x="53.2" y="231.6" width="4.4" height="3.6" fill="#a3ffcc"/>
<rect x="57.6" y="231.6" width="4.4" height="3.6" fill="#adffc7"/>
<rect x="62" y="231.6" width="4.4" height="3.6" fill="#b0fec5"/>
<rect x="66.4" y="231.6" width="4.4" height="3.6" fill="#c5f8b8"/>
<rect x="70.8" y="231.6" width="4.4" height="3.6" fill="#bafcbf"/>
<rect x="75.2" y="231.6" width="4.4" height="3.6" fill="#c3f9ba"/>
<rect x="79.6" y="231.6" width="4.4" height="3.6" fill="#b1fec4"/>
<rect x="84" y="231.6" width="4.4" height="3.6" fill="#bbfcbf"/>
<rect x="88.4" y="231.6" width="4.4" height="3.6" fill="#b2fec4"/>
<rect x="92.8" y="231.6" width="4.4" height="3.6" fill="#abffc8"/>
<rect x="97.2" y="231.6" width="4.4" height="3.6" fill="#b2fec4"/>
<rect x="101.6" y="231.6" width="4.4" height="3.6" fill="#a7ffca"/>
<rect x="106" y="231.6" width="4.4" height="3.6" fill="#a8ffca"/>
<rect x="110.4" y="231.6" width="4.4" height="3.6" fill="#b2fec4"/>
<rect x="114.8" y="231.6" width="4.4" height="3.6" fill="#9cfed0"/>
<rect x="26.8" y="235.2" width="4.4" height="3.6" fill="#74eee3"/>
<rect x="31.2" y="235.2" width="4.4" height="3.6" fill="#82f6dd"/>
<rect x="35.6" y="235.2" width="4.4" height="3.6" fill="#95fdd3"/>
<rect x="40" y="235.2" width="4.4" height="3.6" fill="#88f9da"/>
<rect x="44.4" y="235.2" width="4.4" height="3.6" fill="#8cfad8"/>
<rect x="48.8" y="235.2" width="4.4" height="3.6" fill="#a4ffcb"/>
<rect x="53.2" y="235.2" width="4.4" height="3.6" fill="#96fdd3"/>
<rect x="57.6" y="235.2" width="13.2" height="3.6" fill="#a3ffcc"/>
<rect x="70.8" y="235.2" width="4.4" height="3.6" fill="#b6fdc1"/>
<rect x="75.2" y="235.2" width="4.4" height="3.6" fill="#bafcbf"/>
<rect x="79.6" y="235.2" width="4.4" height="3.6" fill="#abffc8"/>
<rect x="84" y="235.2" width="4.4" height="3.6" fill="#a9ffc9"/>
<rect x="88.4" y="235.2" width="4.4" height="3.6" fill="#bafcbf"/>
<rect x="92.8" y="235.2" width="4.4" height="3.6" fill="#aeffc6"/>
<rect x="97.2" y="235.2" width="4.4" height="3.6" fill="#a7ffca"/>
<rect x="101.6" y="235.2" width="4.4" height="3.6" fill="#a1ffcd"/>
<rect x="106" y="235.2" width="4.4" height="3.6" fill="#a0ffce"/>
<rect x="110.4" y="235.2" width="4.4" height="3.6" fill="#99fed2"/>
<rect x="114.8" y="235.2" width="4.4" height="3.6" fill="#90fcd6"/>
<rect x="26.8" y="238.8" width="4.4" height="3.6" fill="#71ece4"/>
<rect x="31.2" y="238.8" width="4.4" height="3.6" fill="#72ece4"/>
<rect x="35.6" y="238.8" width="4.4" height="3.6" fill="#7bf3e0"/>
<rect x="40" y="238.8" width="4.4" height="3.6" fill="#85f7dc"/>
<rect x="44.4" y="238.8" width="4.4" height="3.6" fill="#8efbd7"/>
<rect x="48.8" y="238.8" width="4.4" height="3.6" fill="#85f8db"/>
<rect x="53.2" y="238.8" width="4.4" height="3.6" fill="#94fdd4"/>
<rect x="57.6" y="238.8" width="4.4" height="3.6" fill="#9cfed0"/>
<rect x="62" y="238.8" width="4.4" height="3.6" fill="#93fdd5"/>
<rect x="66.4" y="238.8" width="4.4" height="3.6" fill="#a0ffce"/>
<rect x="70.8" y="238.8" width="4.4" height="3.6" fill="#a4ffcc"/>
<rect x="75.2" y="238.8" width="4.4" height="3.6" fill="#adffc7"/>
<rect x="79.6" y="238.8" width="4.4" height="3.6" fill="#98fed2"/>
<rect x="84" y="238.8" width="4.4" height="3.6" fill="#a2ffcd"/>
<rect x="88.4" y="238.8" width="4.4" height="3.6" fill="#99fed2"/>
<rect x="92.8" y="238.8" width="4.4" height="3.6" fill="#a5ffcb"/>
<rect x="97.2" y="238.8" width="4.4" height="3.6" fill="#9bfed1"/>
<rect x="101.6" y="238.8" width="4.4" height="3.6" fill="#9fffce"/>
<rect x="106" y="238.8" width="4.4" height="3.6" fill="#9afed1"/>
<rect x="110.4" y="238.8" width="4.4" height="3.6" fill="#a2ffcd"/>
<rect x="114.8" y="238.8" width="4.4" height="3.6" fill="#8efbd7"/>
<rect x="26.8" y="242.4" width="4.4" height="3.6" fill="#76efe2"/>
<rect x="31.2" y="242.4" width="4.4" height="3.6" fill="#70ebe5"/>
<rect x="35.6" y="242.4" width="4.4" height="3.6" fill="#6ce9e6"/>
<rect x="40" y="242.4" width="4.4" height="3.6" fill="#88f9da"/>
<rect x="44.4" y="242.4" width="4.4" height="3.6" fill="#86f8db"/>
<rect x="48.8" y="242.4" width="4.4" height="3.6" fill="#8efbd7"/>
<rect x="53.2" y="242.4" width="4.4" height="3.6" fill="#83f6dd"/>
<rect x="57.6" y="242.4" width="4.4" height="3.6" fill="#80f5de"/>
<rect x="62" y="242.4" width="4.4" height="3.6" fill="#94fdd4"/>
<rect x="66.4" y="242.4" width="4.4" height="3.6" fill="#93fdd5"/>
<rect x="70.8" y="242.4" width="4.4" height="3.6" fill="#a0ffce"/>
<rect x="75.2" y="242.4" width="4.4" height="3.6" fill="#a3ffcc"/>
<rect x="79.6" y="242.4" width="4.4" height="3.6" fill="#94fdd4"/>
<rect x="84" y="242.4" width="4.4" height="3.6" fill="#93fdd5"/>
<rect x="88.4" y="242.4" width="4.4" height="3.6" fill="#99fed2"/>
<rect x="92.8" y="242.4" width="4.4" height="3.6" fill="#94fdd4"/>
<rect x="97.2" y="242.4" width="4.4" height="3.6" fill="#9effcf"/>
<rect x="101.6" y="242.4" width="4.4" height="3.6" fill="#8ffbd7"/>
<rect x="106" y="242.4" width="4.4" height="3.6" fill="#8dfbd8"/>
<rect x="110.4" y="242.4" width="4.4" height="3.6" fill="#8cfbd8"/>
<rect x="114.8" y="242.4" width="4.4" height="3.6" fill="#93fdd5"/>
<rect x="26.8" y="246" width="4.4" height="3.6" fill="#66e4e9"/>
<rect x="31.2" y="246" width="4.4" height="3.6" fill="#69e6e7"/>
<rect x="35.6" y="246" width="4.4" height="3.6" fill="#68e5e8"/>
<rect x="40" y="246" width="4.4" height="3.6" fill="#7ef4df"/>
<rect x="44.4" y="246" width="4.4" height="3.6" fill="#73eee3"/>
<rect x="48.8" y="246" width="4.4" height="3.6" fill="#77f0e2"/>
<rect x="53.2" y="246" width="4.4" height="3.6" fill="#88f9da"/>
<rect x="57.6" y="246" width="4.4" height="3.6" fill="#7ef4df"/>
<rect x="62" y="246" width="4.4" height="3.6" fill="#7ff5de"/>
<rect x="66.4" y="246" width="4.4" height="3.6" fill="#7bf3e0"/>
<rect x="70.8" y="246" width="4.4" height="3.6" fill="#7df4df"/>
<rect x="75.2" y="246" width="4.4" height="3.6" fill="#7ef4df"/>
<rect x="79.6" y="246" width="4.4" height="3.6" fill="#8bfad9"/>
<rect x="84" y="246" width="4.4" height="3.6" fill="#84f7dc"/>
<rect x="88.4" y="246" width="4.4" height="3.6" fill="#81f6dd"/>
<rect x="92.8" y="246" width="4.4" height="3.6" fill="#8ffcd7"/>
<rect x="97.2" y="246" width="4.4" height="3.6" fill="#93fdd5"/>
<rect x="101.6" y="246" width="4.4" height="3.6" fill="#86f8db"/>
<rect x="106" y="246" width="4.4" height="3.6" fill="#7df4df"/>
<rect x="110.4" y="246" width="4.4" height="3.6" fill="#8ffcd6"/>
<rect x="114.8" y="246" width="4.4" height="3.6" fill="#8bfad9"/>
<rect x="26.8" y="249.6" width="4.4" height="3.6" fill="#69e6e8"/>
<rect x="31.2" y="249.6" width="4.4" height="3.6" fill="#70ebe5"/>
<rect x="35.6" y="249.6" width="4.4" height="3.6" fill="#5fdeeb"/>
<rect x="40" y="249.6" width="4.4" height="3.6" fill="#61dfeb"/>
<rect x="44.4" y="249.6" width="4.4" height="3.6" fill="#6feae5"/>
<rect x="48.8" y="249.6" width="4.4" height="3.6" fill="#6febe5"/>
<rect x="53.2" y="249.6" width="4.4" height="3.6" fill="#78f1e1"/>
<rect x="57.6" y="249.6" width="4.4" height="3.6" fill="#73ede4"/>
<rect x="62" y="249.6" width="4.4" height="3.6" fill="#7bf2e0"/>
<rect x="66.4" y="249.6" width="4.4" height="3.6" fill="#7ff5de"/>
<rect x="70.8" y="249.6" width="4.4" height="3.6" fill="#79f1e1"/>
<rect x="75.2" y="249.6" width="4.4" height="3.6" fill="#72ede4"/>
<rect x="79.6" y="249.6" width="4.4" height="3.6" fill="#7df3df"/>
<rect x="84" y="249.6" width="4.4" height="3.6" fill="#72ede4"/>
<rect x="88.4" y="249.6" width="4.4" height="3.6" fill="#80f5de"/>
<rect x="92.8" y="249.6" width="4.4" height="3.6" fill="#76f0e2"/>
<rect x="97.2" y="249.6" width="8.8" height="3.6" fill="#8afad9"/>
<rect x="106" y="249.6" width="4.4" height="3.6" fill="#82f6dd"/>
<rect x="110.4" y="249.6" width="4.4" height="3.6" fill="#7af2e1"/>
<rect x="114.8" y="249.6" width="4.4" height="3.6" fill="#7df3df"/>
<rect x="26.8" y="253.2" width="4.4" height="3.6" fill="#56d5ee"/>
<rect x="31.2" y="253.2" width="4.4" height="3.6" fill="#5edcec"/>
<rect x="35.6" y="253.2" width="4.4" height="3.6" fill="#5cdbec"/>
<rect x="40" y="253.2" width="4.4" height="3.6" fill="#5fdeeb"/>
<rect x="44.4" y="253.2" width="4.4" height="3.6" fill="#65e3e9"/>
<rect x="48.8" y="253.2" width="8.8" height="3.6" fill="#6de9e6"/>
<rect x="57.6" y="253.2" width="4.4" height="3.6" fill="#68e6e8"/>
<rect x="62" y="253.2" width="4.4" height="3.6" fill="#69e6e8"/>
<rect x="66.4" y="253.2" width="4.4" height="3.6" fill="#73eee3"/>
<rect x="70.8" y="253.2" width="4.4" height="3.6" fill="#67e5e8"/>
<rect x="75.2" y="253.2" width="4.4" height="3.6" fill="#72ede4"/>
<rect x="79.6" y="253.2" width="4.4" height="3.6" fill="#78f1e1"/>
<rect x="84" y="253.2" width="4.4" height="3.6" fill="#6de9e6"/>
<rect x="88.4" y="253.2" width="4.4" height="3.6" fill="#74eee3"/>
<rect x="92.8" y="253.2" width="4.4" height="3.6" fill="#6ae7e7"/>
<rect x="97.2" y="253.2" width="4.4" height="3.6" fill="#6be8e7"/>
<rect x="101.6" y="253.2" width="4.4" height="3.6" fill="#75efe3"/>
<rect x="106" y="253.2" width="4.4" height="3.6" fill="#80f5de"/>
<rect x="110.4" y="253.2" width="4.4" height="3.6" fill="#78f1e1"/>
<rect x="114.8" y="253.2" width="4.4" height="3.6" fill="#7ff4df"/>
<rect x="26.8" y="256.8" width="4.4" height="3.6" fill="#55d4ef"/>
<rect x="31.2" y="256.8" width="4.4" height="3.6" fill="#64e2e9"/>
<rect x="35.6" y="256.8" width="4.4" height="3.6" fill="#5cdaed"/>
<rect x="40" y="256.8" width="4.4" height="3.6" fill="#68e5e8"/>
<rect x="44.4" y="256.8" width="4.4" height="3.6" fill="#5eddec"/>
<rect x="48.8" y="256.8" width="4.4" height="3.6" fill="#5ad8ed"/>
<rect x="53.2" y="256.8" width="4.4" height="3.6" fill="#6de9e6"/>
<rect x="57.6" y="256.8" width="4.4" height="3.6" fill="#67e4e8"/>
<rect x="62" y="256.8" width="4.4" height="3.6" fill="#60deeb"/>
<rect x="66.4" y="256.8" width="4.4" height="3.6" fill="#58d6ee"/>
<rect x="70.8" y="256.8" width="4.4" height="3.6" fill="#58d7ee"/>
<rect x="75.2" y="256.8" width="4.4" height="3.6" fill="#71ece5"/>
<rect x="79.6" y="256.8" width="4.4" height="3.6" fill="#5ad9ed"/>
<rect x="84" y="256.8" width="4.4" height="3.6" fill="#65e3e9"/>
<rect x="88.4" y="256.8" width="4.4" height="3.6" fill="#72ede4"/>
<rect x="92.8" y="256.8" width="4.4" height="3.6" fill="#6deae6"/>
<rect x="97.2" y="256.8" width="4.4" height="3.6" fill="#69e6e8"/>
<rect x="101.6" y="256.8" width="4.4" height="3.6" fill="#74eee3"/>
<rect x="106" y="256.8" width="4.4" height="3.6" fill="#65e2e9"/>
<rect x="110.4" y="256.8" width="4.4" height="3.6" fill="#71ece5"/>
<rect x="114.8" y="256.8" width="4.4" height="3.6" fill="#67e4e8"/>
<rect x="26.8" y="260.4" width="4.4" height="3.6" fill="#54d3ef"/>
<rect x="31.2" y="260.4" width="4.4" height="3.6" fill="#52d0f0"/>
<rect x="35.6" y="260.4" width="4.4" height="3.6" fill="#51c6f3"/>
<rect x="40" y="260.4" width="4.4" height="3.6" fill="#50cef0"/>
<rect x="44.4" y="260.4" width="4.4" height="3.6" fill="#55d4ef"/>
<rect x="48.8" y="260.4" width="4.4" height="3.6" fill="#5fddeb"/>
<rect x="53.2" y="260.4" width="4.4" height="3.6" fill="#5ddcec"/>
<rect x="57.6" y="260.4" width="4.4" height="3.6" fill="#57d5ee"/>
<rect x="62" y="260.4" width="4.4" height="3.6" fill="#50cef0"/>
<rect x="66.4" y="260.4" width="4.4" height="3.6" fill="#62e0ea"/>
<rect x="70.8" y="260.4" width="4.4" height="3.6" fill="#5bdaed"/>
<rect x="75.2" y="260.4" width="4.4" height="3.6" fill="#4ecdf1"/>
<rect x="79.6" y="260.4" width="4.4" height="3.6" fill="#56d4ef"/>
<rect x="84" y="260.4" width="4.4" height="3.6" fill="#5cdbec"/>
<rect x="88.4" y="260.4" width="4.4" height="3.6" fill="#69e6e7"/>
<rect x="92.8" y="260.4" width="4.4" height="3.6" fill="#67e4e8"/>
<rect x="97.2" y="260.4" width="4.4" height="3.6" fill="#5eddec"/>
<rect x="101.6" y="260.4" width="4.4" height="3.6" fill="#69e6e8"/>
<rect x="106" y="260.4" width="4.4" height="3.6" fill="#70ebe5"/>
<rect x="110.4" y="260.4" width="4.4" height="3.6" fill="#62e0ea"/>
<rect x="114.8" y="260.4" width="4.4" height="3.6" fill="#6de9e6"/>
<rect x="26.5" y="220" width="5.5" height="3.2" fill="#fff"/>
<rect x="26.5" y="235" width="5.5" height="3.8" fill="#fff"/>
<rect x="26.5" y="244.5" width="9.5" height="4.6" fill="#fff"/>
<rect x="54" y="198.5" width="4.2" height="3.5" fill="#fff"/>
<rect x="36.5" y="206" width="4.5" height="3" fill="#fff"/>
</g>
<rect x="59.5" y="184" width="4" height="2.8" fill="#ff685b"/>
<rect x="68" y="182" width="4.2" height="3" fill="#ff685b"/>
<rect x="117" y="221.8" width="4" height="3.6" fill="#70ece5"/>
<rect x="117" y="231" width="4" height="3.6" fill="#c9f6b5"/>
<rect x="117" y="241.5" width="4" height="3.6" fill="#69e6e8"/>
<rect x="60" y="263.5" width="6" height="3.5" fill="#4dcbf1"/>
<rect x="69" y="263.5" width="4.4" height="3.5" fill="#5eb5f6"/>
<rect x="83" y="263.5" width="4" height="3.5" fill="#54d2ef"/>
<rect x="91" y="263.5" width="4" height="3.5" fill="#5eddec"/>
<path d="M92.3 181.5C89.22 182.27 84.1 186.37 80 189.2C75.9 192.03 71.53 195.2 67.7 198.5C63.87 201.8 60.62 205.25 57 209C53.38 212.75 49 217.33 46 221C43 224.67 40.33 227.33 39 231C37.67 234.67 37.17 239.33 38 243C38.83 246.67 41 250.17 44 253C47 255.83 51 258.5 56 260C61 261.5 68 262 74 262C80 262 86.67 261.5 92 260C97.33 258.5 102.33 256.17 106 253C109.67 249.83 112.5 245.33 114 241C115.5 236.67 115.17 231.83 115 227C114.83 222.17 114.47 217.27 113 212C111.53 206.73 108.62 199.97 106.2 195.4C103.78 190.83 100.82 186.92 98.5 184.6C96.18 182.28 95.38 180.73 92.3 181.5Z" class="ct"/>
<path d="M90.8 192.3C86.95 192.8 81.37 198.05 76.9 201.5C72.43 204.95 67.48 210.08 64 213C60.52 215.92 58.67 216.67 56 219C53.33 221.33 49.67 224 48 227C46.33 230 45.67 233.67 46 237C46.33 240.33 47.67 244.17 50 247C52.33 249.83 55.33 252.33 60 254C64.67 255.67 72.33 257 78 257C83.67 257 89.33 256 94 254C98.67 252 103.33 248.83 106 245C108.67 241.17 109.67 236 110 231C110.33 226 109.67 220.42 108 215C106.33 209.58 102.87 202.28 100 198.5C97.13 194.72 94.65 191.8 90.8 192.3Z" class="ct"/>
<path d="M93.8 209.2C90.98 208.75 86.4 211.33 83.1 212.3C79.8 213.27 76.85 213.88 74 215C71.15 216.12 68.67 216.5 66 219C63.33 221.5 59.5 226.5 58 230C56.5 233.5 56.33 237.33 57 240C57.67 242.67 59.83 244.33 62 246C64.17 247.67 67 249.17 70 250C73 250.83 76.33 251.33 80 251C83.67 250.67 88.33 250 92 248C95.67 246 100 242.5 102 239C104 235.5 104.33 231 104 227C103.67 223 101.7 217.97 100 215C98.3 212.03 96.62 209.65 93.8 209.2Z" class="ct"/>
<path d="M88 220C85 219.5 82.33 220.67 80 222C77.67 223.33 75.5 225.5 74 228C72.5 230.5 70.67 234.17 71 237C71.33 239.83 73.17 243.33 76 245C78.83 246.67 84.33 247.33 88 247C91.67 246.67 95.67 245.33 98 243C100.33 240.67 102 236 102 233C102 230 100.33 227.17 98 225C95.67 222.83 91 220.5 88 220Z" class="ct"/>
<rect x="26.5" y="163.4" width="105.1" height="109.6" class="fr"/>
<line x1="26.5" y1="273" x2="26.5" y2="274.6" class="tk"/>
<line x1="41.51" y1="273" x2="41.51" y2="274.6" class="tk"/>
<line x1="56.53" y1="273" x2="56.53" y2="274.6" class="tk"/>
<line x1="71.54" y1="273" x2="71.54" y2="274.6" class="tk"/>
<line x1="86.56" y1="273" x2="86.56" y2="274.6" class="tk"/>
<line x1="101.57" y1="273" x2="101.57" y2="274.6" class="tk"/>
<line x1="116.59" y1="273" x2="116.59" y2="274.6" class="tk"/>
<line x1="131.6" y1="273" x2="131.6" y2="274.6" class="tk"/>
<line x1="24.9" y1="166.62" x2="26.5" y2="166.62" class="tk"/>
<line x1="24.9" y1="182.74" x2="26.5" y2="182.74" class="tk"/>
<line x1="24.9" y1="198.86" x2="26.5" y2="198.86" class="tk"/>
<line x1="24.9" y1="214.98" x2="26.5" y2="214.98" class="tk"/>
<line x1="24.9" y1="231.09" x2="26.5" y2="231.09" class="tk"/>
<line x1="24.9" y1="247.21" x2="26.5" y2="247.21" class="tk"/>
<line x1="24.9" y1="263.33" x2="26.5" y2="263.33" class="tk"/>
<rect x="138.2" y="163.5" width="5.8" height="109.8" fill="url(#cbg)" stroke="rgba(60,60,60,0.35)" stroke-width="0.6"/>
<line x1="144" y1="258.98" x2="145.2" y2="258.98" class="tkc"/>
<line x1="144" y1="243.07" x2="145.2" y2="243.07" class="tkc"/>
<line x1="144" y1="227.15" x2="145.2" y2="227.15" class="tkc"/>
<line x1="144" y1="211.24" x2="145.2" y2="211.24" class="tkc"/>
<line x1="144" y1="195.33" x2="145.2" y2="195.33" class="tkc"/>
<line x1="144" y1="179.41" x2="145.2" y2="179.41" class="tkc"/>
<line x1="144" y1="163.5" x2="145.2" y2="163.5" class="tkc"/>
<line x1="199.76" y1="163.4" x2="199.76" y2="273.3" class="g"/>
<line x1="214.71" y1="163.4" x2="214.71" y2="273.3" class="g"/>
<line x1="229.67" y1="163.4" x2="229.67" y2="273.3" class="g"/>
<line x1="244.63" y1="163.4" x2="244.63" y2="273.3" class="g"/>
<line x1="259.59" y1="163.4" x2="259.59" y2="273.3" class="g"/>
<line x1="274.54" y1="163.4" x2="274.54" y2="273.3" class="g"/>
<line x1="184.8" y1="166.63" x2="289.5" y2="166.63" class="g"/>
<line x1="184.8" y1="182.79" x2="289.5" y2="182.79" class="g"/>
<line x1="184.8" y1="198.96" x2="289.5" y2="198.96" class="g"/>
<line x1="184.8" y1="215.12" x2="289.5" y2="215.12" class="g"/>
<line x1="184.8" y1="231.28" x2="289.5" y2="231.28" class="g"/>
<line x1="184.8" y1="247.44" x2="289.5" y2="247.44" class="g"/>
<line x1="184.8" y1="263.6" x2="289.5" y2="263.6" class="g"/>
<clipPath id="cp4"><polygon points="237,194 241,194 241,201 247,201 253,205 259,212 265,220 269,228 272,238 274,252 273,264 270,273.3 236,273.3 228,268 222,258 221,242 224,232 227,224 230,214 234,205 238,201"/></clipPath>
<g clip-path="url(#cp4)">
<rect x="241.8" y="194" width="1.6" height="1.7" fill="#f6dca7"/>
<rect x="270.6" y="194" width="1.6" height="1.7" fill="#bcfecd"/>
<rect x="221" y="195.7" width="1.6" height="1.7" fill="#c3fdc9"/>
<rect x="227.4" y="195.7" width="1.6" height="1.7" fill="#85eee8"/>
<rect x="230.6" y="195.7" width="1.6" height="1.7" fill="#b3ffd2"/>
<rect x="232.2" y="195.7" width="1.6" height="1.7" fill="#ff957e"/>
<rect x="237" y="195.7" width="1.6" height="1.7" fill="#c4fdc8"/>
<rect x="241.8" y="195.7" width="1.6" height="1.7" fill="#b4ffd1"/>
<rect x="246.6" y="195.7" width="1.6" height="1.7" fill="#ffd2a1"/>
<rect x="248.2" y="195.7" width="1.6" height="1.7" fill="#bcfecd"/>
<rect x="251.4" y="195.7" width="1.6" height="1.7" fill="#c4fcc8"/>
<rect x="253" y="195.7" width="3.2" height="1.7" fill="#ff957e"/>
<rect x="264.2" y="195.7" width="1.6" height="1.7" fill="#c3fdc9"/>
<rect x="222.6" y="197.4" width="1.6" height="1.7" fill="#bdfecc"/>
<rect x="233.8" y="197.4" width="1.6" height="1.7" fill="#85eee8"/>
<rect x="241.8" y="197.4" width="1.6" height="1.7" fill="#b8ffcf"/>
<rect x="248.2" y="197.4" width="1.6" height="1.7" fill="#c1fdca"/>
<rect x="249.8" y="197.4" width="1.6" height="1.7" fill="#b6ffd0"/>
<rect x="272.2" y="197.4" width="1.6" height="1.7" fill="#afffd4"/>
<rect x="225.8" y="199.1" width="1.6" height="1.7" fill="#b7ffd0"/>
<rect x="235.4" y="199.1" width="1.6" height="1.7" fill="#ffd2a1"/>
<rect x="238.6" y="199.1" width="1.6" height="1.7" fill="#bcfecd"/>
<rect x="240.2" y="199.1" width="1.6" height="1.7" fill="#b3ffd2"/>
<rect x="245" y="199.1" width="1.6" height="1.7" fill="#c2fdc9"/>
<rect x="256.2" y="199.1" width="1.6" height="1.7" fill="#b0ffd3"/>
<rect x="261" y="199.1" width="1.6" height="1.7" fill="#ff957e"/>
<rect x="272.2" y="199.1" width="1.6" height="1.7" fill="#c2fdc9"/>
<rect x="273.8" y="199.1" width="1.6" height="1.7" fill="#b4ffd1"/>
<rect x="229" y="200.8" width="1.6" height="1.7" fill="#b7ffd0"/>
<rect x="232.2" y="200.8" width="1.6" height="1.7" fill="#e0eeb6"/>
<rect x="237" y="200.8" width="1.6" height="1.7" fill="#f6dca7"/>
<rect x="243.4" y="200.8" width="1.6" height="1.7" fill="#b7ffd0"/>
<rect x="245" y="200.8" width="1.6" height="1.7" fill="#f6dca7"/>
<rect x="251.4" y="200.8" width="1.6" height="1.7" fill="#afffd4"/>
<rect x="253" y="200.8" width="1.6" height="1.7" fill="#bbfecd"/>
<rect x="261" y="200.8" width="1.6" height="1.7" fill="#b8ffcf"/>
<rect x="262.6" y="200.8" width="1.6" height="1.7" fill="#c1fdca"/>
<rect x="264.2" y="200.8" width="1.6" height="1.7" fill="#85eee8"/>
<rect x="269" y="200.8" width="1.6" height="1.7" fill="#75e2ee"/>
<rect x="273.8" y="200.8" width="1.6" height="1.7" fill="#b6ffd0"/>
<rect x="222.6" y="202.5" width="1.6" height="1.7" fill="#c1fdca"/>
<rect x="235.4" y="202.5" width="1.6" height="1.7" fill="#ff957e"/>
<rect x="246.6" y="202.5" width="1.6" height="1.7" fill="#acffd6"/>
<rect x="256.2" y="202.5" width="1.6" height="1.7" fill="#85eee8"/>
<rect x="269" y="202.5" width="1.6" height="1.7" fill="#c0fdca"/>
<rect x="270.6" y="202.5" width="1.6" height="1.7" fill="#75e2ee"/>
<rect x="272.2" y="202.5" width="1.6" height="1.7" fill="#ff957e"/>
<rect x="230.6" y="204.2" width="1.6" height="1.7" fill="#aeffd4"/>
<rect x="232.2" y="204.2" width="1.6" height="1.7" fill="#aeffd5"/>
<rect x="233.8" y="204.2" width="1.6" height="1.7" fill="#b0ffd4"/>
<rect x="235.4" y="204.2" width="1.6" height="1.7" fill="#b7ffd0"/>
<rect x="237" y="204.2" width="1.6" height="1.7" fill="#afffd4"/>
<rect x="246.6" y="204.2" width="1.6" height="1.7" fill="#75e2ee"/>
<rect x="249.8" y="204.2" width="1.6" height="1.7" fill="#b7ffcf"/>
<rect x="253" y="204.2" width="1.6" height="1.7" fill="#94f8e2"/>
<rect x="256.2" y="204.2" width="1.6" height="1.7" fill="#85eee8"/>
<rect x="259.4" y="204.2" width="1.6" height="1.7" fill="#f6dca7"/>
<rect x="261" y="204.2" width="1.6" height="1.7" fill="#bbfecd"/>
<rect x="262.6" y="204.2" width="1.6" height="1.7" fill="#b8ffcf"/>
<rect x="270.6" y="204.2" width="1.6" height="1.7" fill="#ffd2a1"/>
<rect x="232.2" y="205.9" width="1.6" height="1.7" fill="#c1fdca"/>
<rect x="237" y="205.9" width="1.6" height="1.7" fill="#c2fdc9"/>
<rect x="241.8" y="205.9" width="1.6" height="1.7" fill="#b7ffcf"/>
<rect x="249.8" y="205.9" width="1.6" height="1.7" fill="#abffd6"/>
<rect x="254.6" y="205.9" width="1.6" height="1.7" fill="#b0ffd3"/>
<rect x="264.2" y="205.9" width="1.6" height="1.7" fill="#b2ffd3"/>
<rect x="270.6" y="205.9" width="1.6" height="1.7" fill="#aeffd5"/>
<rect x="272.2" y="205.9" width="1.6" height="1.7" fill="#bffecb"/>
<rect x="222.6" y="207.6" width="1.6" height="1.7" fill="#abffd6"/>
<rect x="229" y="207.6" width="1.6" height="1.7" fill="#bbfecd"/>
<rect x="240.2" y="207.6" width="1.6" height="1.7" fill="#ffd2a1"/>
<rect x="241.8" y="207.6" width="1.6" height="1.7" fill="#85eee8"/>
<rect x="253" y="207.6" width="1.6" height="1.7" fill="#94f8e2"/>
<rect x="267.4" y="207.6" width="1.6" height="1.7" fill="#bcfecd"/>
<rect x="269" y="207.6" width="1.6" height="1.7" fill="#b2ffd2"/>
<rect x="270.6" y="207.6" width="1.6" height="1.7" fill="#e0eeb6"/>
<rect x="221" y="209.3" width="1.6" height="1.7" fill="#b6ffd0"/>
<rect x="224.2" y="209.3" width="1.6" height="1.7" fill="#c0feca"/>
<rect x="225.8" y="209.3" width="1.6" height="1.7" fill="#befecc"/>
<rect x="230.6" y="209.3" width="1.6" height="1.7" fill="#c1fdca"/>
<rect x="238.6" y="209.3" width="1.6" height="1.7" fill="#b5ffd1"/>
<rect x="243.4" y="209.3" width="1.6" height="1.7" fill="#85eee8"/>
<rect x="246.6" y="209.3" width="1.6" height="1.7" fill="#b6ffd0"/>
<rect x="248.2" y="209.3" width="1.6" height="1.7" fill="#abffd6"/>
<rect x="249.8" y="209.3" width="1.6" height="1.7" fill="#ffd2a1"/>
<rect x="251.4" y="209.3" width="1.6" height="1.7" fill="#94f8e2"/>
<rect x="254.6" y="209.3" width="1.6" height="1.7" fill="#b6ffd0"/>
<rect x="261" y="209.3" width="1.6" height="1.7" fill="#b9ffce"/>
<rect x="267.4" y="209.3" width="1.6" height="1.7" fill="#75e2ee"/>
<rect x="273.8" y="209.3" width="1.6" height="1.7" fill="#f6dca7"/>
<rect x="230.6" y="211" width="1.6" height="1.7" fill="#ffd2a1"/>
<rect x="232.2" y="211" width="1.6" height="1.7" fill="#ff957e"/>
<rect x="237" y="211" width="1.6" height="1.7" fill="#b3ffd2"/>
<rect x="238.6" y="211" width="1.6" height="1.7" fill="#abffd6"/>
<rect x="241.8" y="211" width="1.6" height="1.7" fill="#85eee8"/>
<rect x="245" y="211" width="1.6" height="1.7" fill="#bffecb"/>
<rect x="246.6" y="211" width="3.2" height="1.7" fill="#ff957e"/>
<rect x="249.8" y="211" width="1.6" height="1.7" fill="#bbfecd"/>
<rect x="251.4" y="211" width="1.6" height="1.7" fill="#acffd6"/>
<rect x="253" y="211" width="1.6" height="1.7" fill="#85eee8"/>
<rect x="254.6" y="211" width="1.6" height="1.7" fill="#f6dca7"/>
<rect x="256.2" y="211" width="1.6" height="1.7" fill="#b1ffd3"/>
<rect x="261" y="211" width="1.6" height="1.7" fill="#b2ffd2"/>
<rect x="269" y="211" width="1.6" height="1.7" fill="#f6dca7"/>
<rect x="224.2" y="212.7" width="1.6" height="1.7" fill="#bdfecc"/>
<rect x="227.4" y="212.7" width="1.6" height="1.7" fill="#b7ffd0"/>
<rect x="229" y="212.7" width="1.6" height="1.7" fill="#e0eeb6"/>
<rect x="235.4" y="212.7" width="1.6" height="1.7" fill="#bffecb"/>
<rect x="237" y="212.7" width="1.6" height="1.7" fill="#ff957e"/>
<rect x="238.6" y="212.7" width="1.6" height="1.7" fill="#e0eeb6"/>
<rect x="240.2" y="212.7" width="1.6" height="1.7" fill="#b3ffd2"/>
<rect x="243.4" y="212.7" width="1.6" height="1.7" fill="#acffd6"/>
<rect x="245" y="212.7" width="1.6" height="1.7" fill="#75e2ee"/>
<rect x="246.6" y="212.7" width="1.6" height="1.7" fill="#afffd4"/>
<rect x="248.2" y="212.7" width="1.6" height="1.7" fill="#b4ffd1"/>
<rect x="254.6" y="212.7" width="1.6" height="1.7" fill="#f6dca7"/>
<rect x="257.8" y="212.7" width="1.6" height="1.7" fill="#ffd2a1"/>
<rect x="259.4" y="212.7" width="1.6" height="1.7" fill="#b3ffd2"/>
<rect x="269" y="212.7" width="1.6" height="1.7" fill="#75e2ee"/>
<rect x="272.2" y="212.7" width="1.6" height="1.7" fill="#abffd6"/>
<rect x="273.8" y="212.7" width="1.6" height="1.7" fill="#b9ffcf"/>
<rect x="224.2" y="214.4" width="1.6" height="1.7" fill="#acffd6"/>
<rect x="227.4" y="214.4" width="1.6" height="1.7" fill="#c1fdca"/>
<rect x="232.2" y="214.4" width="1.6" height="1.7" fill="#b6ffd0"/>
<rect x="237" y="214.4" width="1.6" height="1.7" fill="#f6dca7"/>
<rect x="238.6" y="214.4" width="1.6" height="1.7" fill="#c0fecb"/>
<rect x="240.2" y="214.4" width="1.6" height="1.7" fill="#bcfecd"/>
<rect x="241.8" y="214.4" width="1.6" height="1.7" fill="#aafed7"/>
<rect x="243.4" y="214.4" width="1.6" height="1.7" fill="#ffd2a1"/>
<rect x="245" y="214.4" width="1.6" height="1.7" fill="#f6dca7"/>
<rect x="246.6" y="214.4" width="1.6" height="1.7" fill="#b4ffd2"/>
<rect x="248.2" y="214.4" width="1.6" height="1.7" fill="#85eee8"/>
<rect x="249.8" y="214.4" width="1.6" height="1.7" fill="#b2ffd2"/>
<rect x="253" y="214.4" width="3.2" height="1.7" fill="#85eee8"/>
<rect x="256.2" y="214.4" width="1.6" height="1.7" fill="#b4ffd1"/>
<rect x="261" y="214.4" width="1.6" height="1.7" fill="#b0ffd3"/>
<rect x="272.2" y="214.4" width="1.6" height="1.7" fill="#ffd2a1"/>
<rect x="221" y="216.1" width="1.6" height="1.7" fill="#b2ffd2"/>
<rect x="225.8" y="216.1" width="1.6" height="1.7" fill="#ff957e"/>
<rect x="227.4" y="216.1" width="1.6" height="1.7" fill="#94f8e2"/>
<rect x="233.8" y="216.1" width="1.6" height="1.7" fill="#75e2ee"/>
<rect x="235.4" y="216.1" width="1.6" height="1.7" fill="#f6dca7"/>
<rect x="237" y="216.1" width="3.2" height="1.7" fill="#aafed7"/>
<rect x="241.8" y="216.1" width="1.6" height="1.7" fill="#baffce"/>
<rect x="245" y="216.1" width="1.6" height="1.7" fill="#b0ffd3"/>
<rect x="253" y="216.1" width="1.6" height="1.7" fill="#b4ffd1"/>
<rect x="254.6" y="216.1" width="1.6" height="1.7" fill="#bdfecc"/>
<rect x="256.2" y="216.1" width="1.6" height="1.7" fill="#abffd6"/>
<rect x="262.6" y="216.1" width="1.6" height="1.7" fill="#bbfecd"/>
<rect x="265.8" y="216.1" width="1.6" height="1.7" fill="#94f8e2"/>
<rect x="273.8" y="216.1" width="1.6" height="1.7" fill="#85eee8"/>
<rect x="221" y="217.8" width="1.6" height="1.7" fill="#b8ffcf"/>
<rect x="230.6" y="217.8" width="1.6" height="1.7" fill="#f6dca7"/>
<rect x="232.2" y="217.8" width="1.6" height="1.7" fill="#b1ffd3"/>
<rect x="235.4" y="217.8" width="1.6" height="1.7" fill="#afffd4"/>
<rect x="237" y="217.8" width="1.6" height="1.7" fill="#85eee8"/>
<rect x="240.2" y="217.8" width="1.6" height="1.7" fill="#bcfecd"/>
<rect x="241.8" y="217.8" width="1.6" height="1.7" fill="#94f8e2"/>
<rect x="245" y="217.8" width="1.6" height="1.7" fill="#c0fecb"/>
<rect x="246.6" y="217.8" width="3.2" height="1.7" fill="#ff957e"/>
<rect x="251.4" y="217.8" width="1.6" height="1.7" fill="#bcfecd"/>
<rect x="253" y="217.8" width="1.6" height="1.7" fill="#b0ffd3"/>
<rect x="254.6" y="217.8" width="1.6" height="1.7" fill="#bbfecd"/>
<rect x="259.4" y="217.8" width="1.6" height="1.7" fill="#ffd2a1"/>
<rect x="222.6" y="219.5" width="1.6" height="1.7" fill="#acffd6"/>
<rect x="227.4" y="219.5" width="1.6" height="1.7" fill="#75e2ee"/>
<rect x="229" y="219.5" width="1.6" height="1.7" fill="#abffd6"/>
<rect x="230.6" y="219.5" width="1.6" height="1.7" fill="#75e2ee"/>
<rect x="237" y="219.5" width="1.6" height="1.7" fill="#f6dca7"/>
<rect x="240.2" y="219.5" width="1.6" height="1.7" fill="#b0ffd4"/>
<rect x="241.8" y="219.5" width="1.6" height="1.7" fill="#b4ffd1"/>
<rect x="245" y="219.5" width="1.6" height="1.7" fill="#c0fdca"/>
<rect x="248.2" y="219.5" width="1.6" height="1.7" fill="#bdfecc"/>
<rect x="249.8" y="219.5" width="1.6" height="1.7" fill="#85eee8"/>
<rect x="254.6" y="219.5" width="1.6" height="1.7" fill="#adffd5"/>
<rect x="257.8" y="219.5" width="1.6" height="1.7" fill="#75e2ee"/>
<rect x="261" y="219.5" width="1.6" height="1.7" fill="#abfed7"/>
<rect x="233.8" y="221.2" width="1.6" height="1.7" fill="#a9fed7"/>
<rect x="237" y="221.2" width="1.6" height="1.7" fill="#b7ffcf"/>
<rect x="241.8" y="221.2" width="3.2" height="1.7" fill="#afffd4"/>
<rect x="245" y="221.2" width="1.6" height="1.7" fill="#b2ffd3"/>
<rect x="246.6" y="221.2" width="1.6" height="1.7" fill="#b1ffd3"/>
<rect x="249.8" y="221.2" width="3.2" height="1.7" fill="#ffd2a1"/>
<rect x="253" y="221.2" width="1.6" height="1.7" fill="#bdfecc"/>
<rect x="254.6" y="221.2" width="1.6" height="1.7" fill="#ffd2a1"/>
<rect x="259.4" y="221.2" width="1.6" height="1.7" fill="#b6ffd0"/>
<rect x="261" y="221.2" width="1.6" height="1.7" fill="#acffd6"/>
<rect x="270.6" y="221.2" width="1.6" height="1.7" fill="#bbfecd"/>
<rect x="273.8" y="221.2" width="1.6" height="1.7" fill="#ff957e"/>
<rect x="227.4" y="222.9" width="1.6" height="1.7" fill="#bdfecc"/>
<rect x="230.6" y="222.9" width="1.6" height="1.7" fill="#b6ffd0"/>
<rect x="233.8" y="222.9" width="1.6" height="1.7" fill="#a8fed8"/>
<rect x="235.4" y="222.9" width="1.6" height="1.7" fill="#85eee8"/>
<rect x="240.2" y="222.9" width="3.2" height="1.7" fill="#a8fed8"/>
<rect x="243.4" y="222.9" width="1.6" height="1.7" fill="#75e2ee"/>
<rect x="245" y="222.9" width="1.6" height="1.7" fill="#bafece"/>
<rect x="246.6" y="222.9" width="1.6" height="1.7" fill="#f6dca7"/>
<rect x="248.2" y="222.9" width="1.6" height="1.7" fill="#b2ffd2"/>
<rect x="249.8" y="222.9" width="1.6" height="1.7" fill="#75e2ee"/>
<rect x="251.4" y="222.9" width="1.6" height="1.7" fill="#b2ffd2"/>
<rect x="253" y="222.9" width="1.6" height="1.7" fill="#bcfecd"/>
<rect x="254.6" y="222.9" width="1.6" height="1.7" fill="#a9fed7"/>
<rect x="256.2" y="222.9" width="1.6" height="1.7" fill="#bbfecd"/>
<rect x="257.8" y="222.9" width="1.6" height="1.7" fill="#a8fed8"/>
<rect x="261" y="222.9" width="1.6" height="1.7" fill="#e0eeb6"/>
<rect x="269" y="222.9" width="1.6" height="1.7" fill="#94f8e2"/>
<rect x="224.2" y="224.6" width="4.8" height="1.7" fill="#94f8e2"/>
<rect x="230.6" y="224.6" width="1.6" height="1.7" fill="#75e2ee"/>
<rect x="233.8" y="224.6" width="1.6" height="1.7" fill="#75e2ee"/>
<rect x="235.4" y="224.6" width="1.6" height="1.7" fill="#b6ffd0"/>
<rect x="237" y="224.6" width="1.6" height="1.7" fill="#85eee8"/>
<rect x="243.4" y="224.6" width="1.6" height="1.7" fill="#bdfecc"/>
<rect x="246.6" y="224.6" width="1.6" height="1.7" fill="#75e2ee"/>
<rect x="249.8" y="224.6" width="1.6" height="1.7" fill="#b2ffd2"/>
<rect x="251.4" y="224.6" width="1.6" height="1.7" fill="#bdfecc"/>
<rect x="254.6" y="224.6" width="1.6" height="1.7" fill="#b9ffce"/>
<rect x="256.2" y="224.6" width="1.6" height="1.7" fill="#b0ffd4"/>
<rect x="259.4" y="224.6" width="1.6" height="1.7" fill="#f6dca7"/>
<rect x="262.6" y="224.6" width="1.6" height="1.7" fill="#94f8e2"/>
<rect x="267.4" y="224.6" width="1.6" height="1.7" fill="#befecc"/>
<rect x="269" y="224.6" width="1.6" height="1.7" fill="#b9ffce"/>
<rect x="232.2" y="226.3" width="3.2" height="1.7" fill="#75e2ee"/>
<rect x="235.4" y="226.3" width="1.6" height="1.7" fill="#85eee8"/>
<rect x="237" y="226.3" width="3.2" height="1.7" fill="#aafed7"/>
<rect x="240.2" y="226.3" width="1.6" height="1.7" fill="#bcfecd"/>
<rect x="241.8" y="226.3" width="1.6" height="1.7" fill="#adffd5"/>
<rect x="245" y="226.3" width="1.6" height="1.7" fill="#afffd4"/>
<rect x="246.6" y="226.3" width="1.6" height="1.7" fill="#befecc"/>
<rect x="248.2" y="226.3" width="1.6" height="1.7" fill="#bdfecc"/>
<rect x="249.8" y="226.3" width="1.6" height="1.7" fill="#b1ffd3"/>
<rect x="251.4" y="226.3" width="1.6" height="1.7" fill="#94f8e2"/>
<rect x="253" y="226.3" width="1.6" height="1.7" fill="#b7ffd0"/>
<rect x="254.6" y="226.3" width="1.6" height="1.7" fill="#b3ffd2"/>
<rect x="256.2" y="226.3" width="1.6" height="1.7" fill="#b1ffd3"/>
<rect x="257.8" y="226.3" width="1.6" height="1.7" fill="#a8fed8"/>
<rect x="259.4" y="226.3" width="1.6" height="1.7" fill="#b8ffcf"/>
<rect x="261" y="226.3" width="1.6" height="1.7" fill="#b0ffd4"/>
<rect x="262.6" y="226.3" width="1.6" height="1.7" fill="#a9fed7"/>
<rect x="267.4" y="226.3" width="1.6" height="1.7" fill="#e0eeb6"/>
<rect x="272.2" y="226.3" width="1.6" height="1.7" fill="#bbfecd"/>
<rect x="273.8" y="226.3" width="1.6" height="1.7" fill="#75e2ee"/>
<rect x="224.2" y="228" width="1.6" height="1.7" fill="#aeffd5"/>
<rect x="225.8" y="228" width="1.6" height="1.7" fill="#a9fed8"/>
<rect x="227.4" y="228" width="3.2" height="1.7" fill="#f6dca7"/>
<rect x="230.6" y="228" width="1.6" height="1.7" fill="#ff957e"/>
<rect x="232.2" y="228" width="1.6" height="1.7" fill="#94f8e2"/>
<rect x="233.8" y="228" width="1.6" height="1.7" fill="#b7ffd0"/>
<rect x="235.4" y="228" width="1.6" height="1.7" fill="#bbfecd"/>
<rect x="237" y="228" width="1.6" height="1.7" fill="#b1ffd3"/>
<rect x="238.6" y="228" width="1.6" height="1.7" fill="#aeffd5"/>
<rect x="240.2" y="228" width="1.6" height="1.7" fill="#a8fed8"/>
<rect x="241.8" y="228" width="1.6" height="1.7" fill="#a7fed8"/>
<rect x="243.4" y="228" width="1.6" height="1.7" fill="#afffd4"/>
<rect x="245" y="228" width="1.6" height="1.7" fill="#ffd2a1"/>
<rect x="246.6" y="228" width="1.6" height="1.7" fill="#a8fed8"/>
<rect x="248.2" y="228" width="1.6" height="1.7" fill="#94f8e2"/>
<rect x="249.8" y="228" width="1.6" height="1.7" fill="#bafece"/>
<rect x="251.4" y="228" width="1.6" height="1.7" fill="#a8fed8"/>
<rect x="253" y="228" width="1.6" height="1.7" fill="#befecc"/>
<rect x="254.6" y="228" width="1.6" height="1.7" fill="#a9fed7"/>
<rect x="256.2" y="228" width="1.6" height="1.7" fill="#baffce"/>
<rect x="257.8" y="228" width="1.6" height="1.7" fill="#b6ffd0"/>
<rect x="264.2" y="228" width="1.6" height="1.7" fill="#85eee8"/>
<rect x="270.6" y="228" width="1.6" height="1.7" fill="#94f8e2"/>
<rect x="221" y="229.7" width="1.6" height="1.7" fill="#bbfecd"/>
<rect x="227.4" y="229.7" width="1.6" height="1.7" fill="#afffd4"/>
<rect x="229" y="229.7" width="1.6" height="1.7" fill="#acffd6"/>
<rect x="230.6" y="229.7" width="1.6" height="1.7" fill="#94f8e2"/>
<rect x="232.2" y="229.7" width="1.6" height="1.7" fill="#b3ffd2"/>
<rect x="233.8" y="229.7" width="1.6" height="1.7" fill="#a8fed8"/>
<rect x="235.4" y="229.7" width="1.6" height="1.7" fill="#b7ffd0"/>
<rect x="237" y="229.7" width="1.6" height="1.7" fill="#b5ffd1"/>
<rect x="238.6" y="229.7" width="1.6" height="1.7" fill="#b4ffd1"/>
<rect x="240.2" y="229.7" width="3.2" height="1.7" fill="#bdfecc"/>
<rect x="243.4" y="229.7" width="1.6" height="1.7" fill="#bffecb"/>
<rect x="245" y="229.7" width="1.6" height="1.7" fill="#aeffd5"/>
<rect x="246.6" y="229.7" width="1.6" height="1.7" fill="#bcfecd"/>
<rect x="248.2" y="229.7" width="1.6" height="1.7" fill="#b6ffd0"/>
<rect x="249.8" y="229.7" width="1.6" height="1.7" fill="#b1ffd3"/>
<rect x="251.4" y="229.7" width="1.6" height="1.7" fill="#befecb"/>
<rect x="253" y="229.7" width="1.6" height="1.7" fill="#a9fed7"/>
<rect x="254.6" y="229.7" width="1.6" height="1.7" fill="#b5ffd1"/>
<rect x="256.2" y="229.7" width="1.6" height="1.7" fill="#b3ffd2"/>
<rect x="257.8" y="229.7" width="1.6" height="1.7" fill="#b4ffd1"/>
<rect x="259.4" y="229.7" width="1.6" height="1.7" fill="#b7ffd0"/>
<rect x="261" y="229.7" width="1.6" height="1.7" fill="#aeffd4"/>
<rect x="262.6" y="229.7" width="1.6" height="1.7" fill="#b3ffd2"/>
<rect x="265.8" y="229.7" width="1.6" height="1.7" fill="#b5ffd1"/>
<rect x="267.4" y="229.7" width="1.6" height="1.7" fill="#b8ffcf"/>
<rect x="273.8" y="229.7" width="1.6" height="1.7" fill="#e0eeb6"/>
<rect x="221" y="231.4" width="1.6" height="1.7" fill="#e0eeb6"/>
<rect x="225.8" y="231.4" width="1.6" height="1.7" fill="#b8ffcf"/>
<rect x="227.4" y="231.4" width="1.6" height="1.7" fill="#e0eeb6"/>
<rect x="229" y="231.4" width="1.6" height="1.7" fill="#ff957e"/>
<rect x="230.6" y="231.4" width="1.6" height="1.7" fill="#94f8e2"/>
<rect x="232.2" y="231.4" width="1.6" height="1.7" fill="#b3ffd2"/>
<rect x="233.8" y="231.4" width="1.6" height="1.7" fill="#aafed7"/>
<rect x="235.4" y="231.4" width="1.6" height="1.7" fill="#b8ffcf"/>
<rect x="237" y="231.4" width="1.6" height="1.7" fill="#b4ffd1"/>
<rect x="238.6" y="231.4" width="1.6" height="1.7" fill="#acffd6"/>
<rect x="240.2" y="231.4" width="1.6" height="1.7" fill="#b9ffce"/>
<rect x="241.8" y="231.4" width="1.6" height="1.7" fill="#b7ffd0"/>
<rect x="243.4" y="231.4" width="1.6" height="1.7" fill="#aeffd5"/>
<rect x="245" y="231.4" width="1.6" height="1.7" fill="#b1ffd3"/>
<rect x="246.6" y="231.4" width="1.6" height="1.7" fill="#b6ffd0"/>
<rect x="248.2" y="231.4" width="1.6" height="1.7" fill="#b1ffd3"/>
<rect x="249.8" y="231.4" width="1.6" height="1.7" fill="#b7ffd0"/>
<rect x="251.4" y="231.4" width="1.6" height="1.7" fill="#b6ffd0"/>
<rect x="253" y="231.4" width="1.6" height="1.7" fill="#b2ffd2"/>
<rect x="254.6" y="231.4" width="1.6" height="1.7" fill="#75e2ee"/>
<rect x="256.2" y="231.4" width="1.6" height="1.7" fill="#befecc"/>
<rect x="257.8" y="231.4" width="1.6" height="1.7" fill="#bbfecd"/>
<rect x="259.4" y="231.4" width="1.6" height="1.7" fill="#b2ffd3"/>
<rect x="262.6" y="231.4" width="1.6" height="1.7" fill="#afffd4"/>
<rect x="264.2" y="231.4" width="1.6" height="1.7" fill="#bffecb"/>
<rect x="269" y="231.4" width="1.6" height="1.7" fill="#b5ffd1"/>
<rect x="224.2" y="233.1" width="1.6" height="1.7" fill="#b7ffd0"/>
<rect x="225.8" y="233.1" width="1.6" height="1.7" fill="#85eee8"/>
<rect x="227.4" y="233.1" width="1.6" height="1.7" fill="#b3ffd2"/>
<rect x="229" y="233.1" width="1.6" height="1.7" fill="#b0ffd4"/>
<rect x="230.6" y="233.1" width="1.6" height="1.7" fill="#b9ffce"/>
<rect x="232.2" y="233.1" width="1.6" height="1.7" fill="#b2ffd3"/>
<rect x="233.8" y="233.1" width="1.6" height="1.7" fill="#befecc"/>
<rect x="235.4" y="233.1" width="1.6" height="1.7" fill="#baffce"/>
<rect x="237" y="233.1" width="1.6" height="1.7" fill="#adffd5"/>
<rect x="238.6" y="233.1" width="1.6" height="1.7" fill="#bbfece"/>
<rect x="240.2" y="233.1" width="1.6" height="1.7" fill="#adffd5"/>
<rect x="241.8" y="233.1" width="1.6" height="1.7" fill="#b1ffd3"/>
<rect x="243.4" y="233.1" width="1.6" height="1.7" fill="#e0eeb6"/>
<rect x="245" y="233.1" width="3.2" height="1.7" fill="#b6ffd0"/>
<rect x="248.2" y="233.1" width="1.6" height="1.7" fill="#aafed7"/>
<rect x="249.8" y="233.1" width="1.6" height="1.7" fill="#a8fed8"/>
<rect x="251.4" y="233.1" width="1.6" height="1.7" fill="#bdfecc"/>
<rect x="253" y="233.1" width="1.6" height="1.7" fill="#b5ffd1"/>
<rect x="254.6" y="233.1" width="1.6" height="1.7" fill="#a8fed8"/>
<rect x="256.2" y="233.1" width="1.6" height="1.7" fill="#b4ffd1"/>
<rect x="257.8" y="233.1" width="1.6" height="1.7" fill="#b1ffd3"/>
<rect x="259.4" y="233.1" width="1.6" height="1.7" fill="#b0ffd4"/>
<rect x="261" y="233.1" width="1.6" height="1.7" fill="#b7ffd0"/>
<rect x="262.6" y="233.1" width="1.6" height="1.7" fill="#bcfecd"/>
<rect x="264.2" y="233.1" width="1.6" height="1.7" fill="#aeffd5"/>
<rect x="265.8" y="233.1" width="1.6" height="1.7" fill="#ffd2a1"/>
<rect x="267.4" y="233.1" width="1.6" height="1.7" fill="#bcfecd"/>
<rect x="227.4" y="234.8" width="1.6" height="1.7" fill="#b3ffd2"/>
<rect x="229" y="234.8" width="1.6" height="1.7" fill="#94f8e2"/>
<rect x="230.6" y="234.8" width="1.6" height="1.7" fill="#b2ffd2"/>
<rect x="232.2" y="234.8" width="1.6" height="1.7" fill="#b1ffd3"/>
<rect x="233.8" y="234.8" width="1.6" height="1.7" fill="#abffd6"/>
<rect x="235.4" y="234.8" width="1.6" height="1.7" fill="#a7fed9"/>
<rect x="237" y="234.8" width="1.6" height="1.7" fill="#bffecb"/>
<rect x="238.6" y="234.8" width="1.6" height="1.7" fill="#b2ffd2"/>
<rect x="240.2" y="234.8" width="1.6" height="1.7" fill="#abffd6"/>
<rect x="241.8" y="234.8" width="1.6" height="1.7" fill="#a9fed8"/>
<rect x="243.4" y="234.8" width="1.6" height="1.7" fill="#b9ffce"/>
<rect x="245" y="234.8" width="1.6" height="1.7" fill="#adffd5"/>
<rect x="246.6" y="234.8" width="1.6" height="1.7" fill="#a8fed8"/>
<rect x="248.2" y="234.8" width="1.6" height="1.7" fill="#b2ffd2"/>
<rect x="249.8" y="234.8" width="1.6" height="1.7" fill="#bcfecd"/>
<rect x="251.4" y="234.8" width="1.6" height="1.7" fill="#b2ffd2"/>
<rect x="253" y="234.8" width="1.6" height="1.7" fill="#b8ffcf"/>
<rect x="254.6" y="234.8" width="1.6" height="1.7" fill="#a8fed8"/>
<rect x="256.2" y="234.8" width="1.6" height="1.7" fill="#b4ffd1"/>
<rect x="257.8" y="234.8" width="1.6" height="1.7" fill="#b0ffd4"/>
<rect x="259.4" y="234.8" width="1.6" height="1.7" fill="#94f8e2"/>
<rect x="261" y="234.8" width="1.6" height="1.7" fill="#b6ffd0"/>
<rect x="262.6" y="234.8" width="1.6" height="1.7" fill="#b5ffd1"/>
<rect x="264.2" y="234.8" width="1.6" height="1.7" fill="#b7ffcf"/>
<rect x="265.8" y="234.8" width="1.6" height="1.7" fill="#abffd6"/>
<rect x="270.6" y="234.8" width="1.6" height="1.7" fill="#f6dca7"/>
<rect x="272.2" y="234.8" width="1.6" height="1.7" fill="#a9fed7"/>
<rect x="273.8" y="234.8" width="1.6" height="1.7" fill="#94f8e2"/>
<rect x="221" y="236.5" width="1.6" height="1.7" fill="#b4ffd1"/>
<rect x="224.2" y="236.5" width="1.6" height="1.7" fill="#aeffd5"/>
<rect x="225.8" y="236.5" width="1.6" height="1.7" fill="#bdfecc"/>
<rect x="227.4" y="236.5" width="1.6" height="1.7" fill="#a7fed8"/>
<rect x="229" y="236.5" width="1.6" height="1.7" fill="#b4ffd1"/>
<rect x="230.6" y="236.5" width="1.6" height="1.7" fill="#a7fed9"/>
<rect x="232.2" y="236.5" width="1.6" height="1.7" fill="#bdfecc"/>
<rect x="233.8" y="236.5" width="1.6" height="1.7" fill="#b0ffd3"/>
<rect x="235.4" y="236.5" width="1.6" height="1.7" fill="#abffd6"/>
<rect x="237" y="236.5" width="1.6" height="1.7" fill="#ffd2a1"/>
<rect x="240.2" y="236.5" width="1.6" height="1.7" fill="#bbfecd"/>
<rect x="241.8" y="236.5" width="1.6" height="1.7" fill="#b2ffd3"/>
<rect x="243.4" y="236.5" width="1.6" height="1.7" fill="#b1ffd3"/>
<rect x="245" y="236.5" width="1.6" height="1.7" fill="#afffd4"/>
<rect x="246.6" y="236.5" width="1.6" height="1.7" fill="#aafed7"/>
<rect x="248.2" y="236.5" width="1.6" height="1.7" fill="#b4ffd1"/>
<rect x="249.8" y="236.5" width="1.6" height="1.7" fill="#bcfecd"/>
<rect x="251.4" y="236.5" width="1.6" height="1.7" fill="#ffd2a1"/>
<rect x="256.2" y="236.5" width="1.6" height="1.7" fill="#a8fed8"/>
<rect x="257.8" y="236.5" width="1.6" height="1.7" fill="#aafed7"/>
<rect x="259.4" y="236.5" width="1.6" height="1.7" fill="#a8fed8"/>
<rect x="261" y="236.5" width="1.6" height="1.7" fill="#b1ffd3"/>
<rect x="262.6" y="236.5" width="1.6" height="1.7" fill="#baffce"/>
<rect x="264.2" y="236.5" width="1.6" height="1.7" fill="#b6ffd0"/>
<rect x="265.8" y="236.5" width="1.6" height="1.7" fill="#baffce"/>
<rect x="267.4" y="236.5" width="1.6" height="1.7" fill="#b4ffd1"/>
<rect x="272.2" y="236.5" width="1.6" height="1.7" fill="#bbfece"/>
<rect x="222.6" y="238.2" width="1.6" height="1.7" fill="#b5ffd1"/>
<rect x="224.2" y="238.2" width="1.6" height="1.7" fill="#bcfecd"/>
<rect x="225.8" y="238.2" width="1.6" height="1.7" fill="#b5ffd1"/>
<rect x="227.4" y="238.2" width="1.6" height="1.7" fill="#adffd5"/>
<rect x="230.6" y="238.2" width="1.6" height="1.7" fill="#b5ffd1"/>
<rect x="232.2" y="238.2" width="1.6" height="1.7" fill="#a7fed8"/>
<rect x="233.8" y="238.2" width="3.2" height="1.7" fill="#bbfecd"/>
<rect x="237" y="238.2" width="1.6" height="1.7" fill="#bdfecc"/>
<rect x="238.6" y="238.2" width="1.6" height="1.7" fill="#b4ffd1"/>
<rect x="240.2" y="238.2" width="1.6" height="1.7" fill="#b9ffcf"/>
<rect x="241.8" y="238.2" width="1.6" height="1.7" fill="#b5ffd1"/>
<rect x="243.4" y="238.2" width="1.6" height="1.7" fill="#abffd6"/>
<rect x="245" y="238.2" width="3.2" height="1.7" fill="#baffce"/>
<rect x="248.2" y="238.2" width="1.6" height="1.7" fill="#b4ffd1"/>
<rect x="249.8" y="238.2" width="1.6" height="1.7" fill="#b3ffd2"/>
<rect x="251.4" y="238.2" width="1.6" height="1.7" fill="#abffd6"/>
<rect x="253" y="238.2" width="1.6" height="1.7" fill="#b7ffcf"/>
<rect x="254.6" y="238.2" width="1.6" height="1.7" fill="#b0ffd4"/>
<rect x="256.2" y="238.2" width="1.6" height="1.7" fill="#a7fed8"/>
<rect x="257.8" y="238.2" width="1.6" height="1.7" fill="#a9fed7"/>
<rect x="259.4" y="238.2" width="1.6" height="1.7" fill="#aafed7"/>
<rect x="261" y="238.2" width="1.6" height="1.7" fill="#b3ffd2"/>
<rect x="264.2" y="238.2" width="1.6" height="1.7" fill="#bbfecd"/>
<rect x="265.8" y="238.2" width="1.6" height="1.7" fill="#adffd5"/>
<rect x="267.4" y="238.2" width="1.6" height="1.7" fill="#bdfecc"/>
<rect x="269" y="238.2" width="1.6" height="1.7" fill="#befecc"/>
<rect x="225.8" y="239.9" width="1.6" height="1.7" fill="#b1ffd3"/>
<rect x="227.4" y="239.9" width="1.6" height="1.7" fill="#a8fed8"/>
<rect x="229" y="239.9" width="1.6" height="1.7" fill="#a9fed7"/>
<rect x="230.6" y="239.9" width="1.6" height="1.7" fill="#b4ffd1"/>
<rect x="232.2" y="239.9" width="1.6" height="1.7" fill="#b7ffd0"/>
<rect x="233.8" y="239.9" width="1.6" height="1.7" fill="#aafed7"/>
<rect x="235.4" y="239.9" width="1.6" height="1.7" fill="#acffd6"/>
<rect x="237" y="239.9" width="1.6" height="1.7" fill="#afffd4"/>
<rect x="238.6" y="239.9" width="1.6" height="1.7" fill="#bbfece"/>
<rect x="240.2" y="239.9" width="1.6" height="1.7" fill="#b8ffcf"/>
<rect x="241.8" y="239.9" width="1.6" height="1.7" fill="#a8fed8"/>
<rect x="243.4" y="239.9" width="1.6" height="1.7" fill="#bdfecc"/>
<rect x="245" y="239.9" width="1.6" height="1.7" fill="#b5ffd1"/>
<rect x="246.6" y="239.9" width="1.6" height="1.7" fill="#aeffd5"/>
<rect x="248.2" y="239.9" width="1.6" height="1.7" fill="#b2ffd2"/>
<rect x="249.8" y="239.9" width="1.6" height="1.7" fill="#aafed7"/>
<rect x="251.4" y="239.9" width="1.6" height="1.7" fill="#e0eeb6"/>
<rect x="253" y="239.9" width="1.6" height="1.7" fill="#aafed7"/>
<rect x="254.6" y="239.9" width="1.6" height="1.7" fill="#75e2ee"/>
<rect x="256.2" y="239.9" width="1.6" height="1.7" fill="#aafed7"/>
<rect x="257.8" y="239.9" width="1.6" height="1.7" fill="#bdfecc"/>
<rect x="259.4" y="239.9" width="1.6" height="1.7" fill="#b1ffd3"/>
<rect x="261" y="239.9" width="1.6" height="1.7" fill="#b2ffd2"/>
<rect x="262.6" y="239.9" width="1.6" height="1.7" fill="#acffd6"/>
<rect x="264.2" y="239.9" width="1.6" height="1.7" fill="#b4ffd1"/>
<rect x="265.8" y="239.9" width="3.2" height="1.7" fill="#adffd5"/>
<rect x="269" y="239.9" width="1.6" height="1.7" fill="#f6dca7"/>
<rect x="224.2" y="241.6" width="1.6" height="1.7" fill="#baffce"/>
<rect x="225.8" y="241.6" width="1.6" height="1.7" fill="#bbfece"/>
<rect x="227.4" y="241.6" width="1.6" height="1.7" fill="#befecc"/>
<rect x="229" y="241.6" width="1.6" height="1.7" fill="#acffd6"/>
<rect x="230.6" y="241.6" width="1.6" height="1.7" fill="#b0ffd3"/>
<rect x="232.2" y="241.6" width="1.6" height="1.7" fill="#befecb"/>
<rect x="233.8" y="241.6" width="3.2" height="1.7" fill="#b1ffd3"/>
<rect x="237" y="241.6" width="1.6" height="1.7" fill="#adffd5"/>
<rect x="238.6" y="241.6" width="1.6" height="1.7" fill="#ff957e"/>
<rect x="240.2" y="241.6" width="1.6" height="1.7" fill="#aafed7"/>
<rect x="241.8" y="241.6" width="1.6" height="1.7" fill="#b8ffcf"/>
<rect x="243.4" y="241.6" width="1.6" height="1.7" fill="#ffd2a1"/>
<rect x="245" y="241.6" width="1.6" height="1.7" fill="#b9ffcf"/>
<rect x="246.6" y="241.6" width="1.6" height="1.7" fill="#b7ffd0"/>
<rect x="248.2" y="241.6" width="1.6" height="1.7" fill="#aeffd5"/>
<rect x="251.4" y="241.6" width="1.6" height="1.7" fill="#bbfecd"/>
<rect x="253" y="241.6" width="1.6" height="1.7" fill="#afffd4"/>
<rect x="254.6" y="241.6" width="1.6" height="1.7" fill="#bdfecc"/>
<rect x="256.2" y="241.6" width="1.6" height="1.7" fill="#b9ffcf"/>
<rect x="257.8" y="241.6" width="1.6" height="1.7" fill="#acffd6"/>
<rect x="259.4" y="241.6" width="1.6" height="1.7" fill="#a7fed8"/>
<rect x="261" y="241.6" width="1.6" height="1.7" fill="#bbfecd"/>
<rect x="262.6" y="241.6" width="1.6" height="1.7" fill="#befecc"/>
<rect x="264.2" y="241.6" width="1.6" height="1.7" fill="#acffd6"/>
<rect x="265.8" y="241.6" width="1.6" height="1.7" fill="#b9ffce"/>
<rect x="267.4" y="241.6" width="1.6" height="1.7" fill="#bcfecd"/>
<rect x="272.2" y="241.6" width="1.6" height="1.7" fill="#a7fed8"/>
<rect x="273.8" y="241.6" width="1.6" height="1.7" fill="#f6dca7"/>
<rect x="221" y="243.3" width="1.6" height="1.7" fill="#f6dca7"/>
<rect x="224.2" y="243.3" width="1.6" height="1.7" fill="#befecc"/>
<rect x="227.4" y="243.3" width="1.6" height="1.7" fill="#adffd5"/>
<rect x="229" y="243.3" width="1.6" height="1.7" fill="#b2ffd3"/>
<rect x="230.6" y="243.3" width="1.6" height="1.7" fill="#afffd4"/>
<rect x="232.2" y="243.3" width="1.6" height="1.7" fill="#adffd5"/>
<rect x="233.8" y="243.3" width="1.6" height="1.7" fill="#b9ffcf"/>
<rect x="235.4" y="243.3" width="1.6" height="1.7" fill="#bcfecd"/>
<rect x="237" y="243.3" width="1.6" height="1.7" fill="#acffd6"/>
<rect x="238.6" y="243.3" width="1.6" height="1.7" fill="#b0ffd4"/>
<rect x="240.2" y="243.3" width="1.6" height="1.7" fill="#e0eeb6"/>
<rect x="241.8" y="243.3" width="1.6" height="1.7" fill="#bbfecd"/>
<rect x="243.4" y="243.3" width="1.6" height="1.7" fill="#bdfecc"/>
<rect x="245" y="243.3" width="1.6" height="1.7" fill="#acffd6"/>
<rect x="246.6" y="243.3" width="1.6" height="1.7" fill="#befecb"/>
<rect x="248.2" y="243.3" width="1.6" height="1.7" fill="#baffce"/>
<rect x="249.8" y="243.3" width="1.6" height="1.7" fill="#75e2ee"/>
<rect x="251.4" y="243.3" width="1.6" height="1.7" fill="#afffd4"/>
<rect x="253" y="243.3" width="1.6" height="1.7" fill="#a7fed9"/>
<rect x="254.6" y="243.3" width="1.6" height="1.7" fill="#aeffd5"/>
<rect x="256.2" y="243.3" width="1.6" height="1.7" fill="#acffd6"/>
<rect x="257.8" y="243.3" width="1.6" height="1.7" fill="#bffecb"/>
<rect x="259.4" y="243.3" width="1.6" height="1.7" fill="#ffd2a1"/>
<rect x="261" y="243.3" width="1.6" height="1.7" fill="#adffd5"/>
<rect x="262.6" y="243.3" width="1.6" height="1.7" fill="#b4ffd2"/>
<rect x="264.2" y="243.3" width="1.6" height="1.7" fill="#acffd6"/>
<rect x="265.8" y="243.3" width="1.6" height="1.7" fill="#befecc"/>
<rect x="267.4" y="243.3" width="1.6" height="1.7" fill="#b6ffd0"/>
<rect x="272.2" y="243.3" width="1.6" height="1.7" fill="#adffd5"/>
<rect x="225.8" y="245" width="1.6" height="1.7" fill="#b0ffd3"/>
<rect x="227.4" y="245" width="1.6" height="1.7" fill="#a8fed8"/>
<rect x="229" y="245" width="1.6" height="1.7" fill="#b5ffd1"/>
<rect x="230.6" y="245" width="1.6" height="1.7" fill="#abffd6"/>
<rect x="232.2" y="245" width="1.6" height="1.7" fill="#b4ffd2"/>
<rect x="233.8" y="245" width="1.6" height="1.7" fill="#aeffd5"/>
<rect x="235.4" y="245" width="1.6" height="1.7" fill="#b3ffd2"/>
<rect x="237" y="245" width="1.6" height="1.7" fill="#a7fed9"/>
<rect x="238.6" y="245" width="1.6" height="1.7" fill="#acffd6"/>
<rect x="240.2" y="245" width="1.6" height="1.7" fill="#adffd5"/>
<rect x="241.8" y="245" width="1.6" height="1.7" fill="#b9ffce"/>
<rect x="243.4" y="245" width="1.6" height="1.7" fill="#94f8e2"/>
<rect x="245" y="245" width="1.6" height="1.7" fill="#b3ffd2"/>
<rect x="246.6" y="245" width="1.6" height="1.7" fill="#b9ffcf"/>
<rect x="248.2" y="245" width="3.2" height="1.7" fill="#b7ffd0"/>
<rect x="251.4" y="245" width="1.6" height="1.7" fill="#b5ffd1"/>
<rect x="253" y="245" width="1.6" height="1.7" fill="#a9fed8"/>
<rect x="254.6" y="245" width="1.6" height="1.7" fill="#bffecb"/>
<rect x="256.2" y="245" width="1.6" height="1.7" fill="#b6ffd0"/>
<rect x="257.8" y="245" width="3.2" height="1.7" fill="#a9fed7"/>
<rect x="261" y="245" width="1.6" height="1.7" fill="#aafed7"/>
<rect x="262.6" y="245" width="1.6" height="1.7" fill="#b5ffd1"/>
<rect x="264.2" y="245" width="1.6" height="1.7" fill="#b7ffd0"/>
<rect x="265.8" y="245" width="1.6" height="1.7" fill="#afffd4"/>
<rect x="267.4" y="245" width="1.6" height="1.7" fill="#b6ffd0"/>
<rect x="270.6" y="245" width="1.6" height="1.7" fill="#b0ffd4"/>
<rect x="221" y="246.7" width="1.6" height="1.7" fill="#afffd4"/>
<rect x="224.2" y="246.7" width="1.6" height="1.7" fill="#94f8e2"/>
<rect x="225.8" y="246.7" width="1.6" height="1.7" fill="#aeffd5"/>
<rect x="227.4" y="246.7" width="1.6" height="1.7" fill="#befecc"/>
<rect x="230.6" y="246.7" width="1.6" height="1.7" fill="#aeffd5"/>
<rect x="232.2" y="246.7" width="1.6" height="1.7" fill="#b5ffd1"/>
<rect x="233.8" y="246.7" width="1.6" height="1.7" fill="#b8ffcf"/>
<rect x="235.4" y="246.7" width="1.6" height="1.7" fill="#a7fed8"/>
<rect x="237" y="246.7" width="1.6" height="1.7" fill="#a7fed9"/>
<rect x="238.6" y="246.7" width="1.6" height="1.7" fill="#b0ffd3"/>
<rect x="240.2" y="246.7" width="1.6" height="1.7" fill="#bdfecc"/>
<rect x="241.8" y="246.7" width="1.6" height="1.7" fill="#b1ffd3"/>
<rect x="243.4" y="246.7" width="1.6" height="1.7" fill="#bcfecd"/>
<rect x="245" y="246.7" width="1.6" height="1.7" fill="#b9ffcf"/>
<rect x="246.6" y="246.7" width="1.6" height="1.7" fill="#afffd4"/>
<rect x="248.2" y="246.7" width="1.6" height="1.7" fill="#abfed7"/>
<rect x="249.8" y="246.7" width="1.6" height="1.7" fill="#afffd4"/>
<rect x="251.4" y="246.7" width="1.6" height="1.7" fill="#befecc"/>
<rect x="253" y="246.7" width="1.6" height="1.7" fill="#baffce"/>
<rect x="254.6" y="246.7" width="1.6" height="1.7" fill="#b0ffd3"/>
<rect x="256.2" y="246.7" width="1.6" height="1.7" fill="#a9fed7"/>
<rect x="257.8" y="246.7" width="1.6" height="1.7" fill="#b8ffcf"/>
<rect x="259.4" y="246.7" width="1.6" height="1.7" fill="#ffd2a1"/>
<rect x="261" y="246.7" width="1.6" height="1.7" fill="#a6fed9"/>
<rect x="262.6" y="246.7" width="1.6" height="1.7" fill="#b5ffd1"/>
<rect x="264.2" y="246.7" width="1.6" height="1.7" fill="#b2ffd2"/>
<rect x="265.8" y="246.7" width="1.6" height="1.7" fill="#b6ffd0"/>
<rect x="267.4" y="246.7" width="1.6" height="1.7" fill="#b4ffd1"/>
<rect x="269" y="246.7" width="1.6" height="1.7" fill="#aafed7"/>
<rect x="270.6" y="246.7" width="1.6" height="1.7" fill="#ffd2a1"/>
<rect x="273.8" y="246.7" width="1.6" height="1.7" fill="#b2ffd3"/>
<rect x="222.6" y="248.4" width="1.6" height="1.7" fill="#b7ffd0"/>
<rect x="224.2" y="248.4" width="1.6" height="1.7" fill="#f6dca7"/>
<rect x="225.8" y="248.4" width="1.6" height="1.7" fill="#adffd5"/>
<rect x="227.4" y="248.4" width="1.6" height="1.7" fill="#b5ffd1"/>
<rect x="229" y="248.4" width="1.6" height="1.7" fill="#b0ffd4"/>
<rect x="230.6" y="248.4" width="3.2" height="1.7" fill="#b5ffd1"/>
<rect x="233.8" y="248.4" width="1.6" height="1.7" fill="#75e2ee"/>
<rect x="235.4" y="248.4" width="1.6" height="1.7" fill="#bcfecd"/>
<rect x="237" y="248.4" width="1.6" height="1.7" fill="#b5ffd1"/>
<rect x="238.6" y="248.4" width="1.6" height="1.7" fill="#befecc"/>
<rect x="240.2" y="248.4" width="1.6" height="1.7" fill="#b8ffcf"/>
<rect x="241.8" y="248.4" width="1.6" height="1.7" fill="#bcfecd"/>
<rect x="243.4" y="248.4" width="1.6" height="1.7" fill="#acffd6"/>
<rect x="245" y="248.4" width="1.6" height="1.7" fill="#abffd6"/>
<rect x="246.6" y="248.4" width="1.6" height="1.7" fill="#b4ffd1"/>
<rect x="248.2" y="248.4" width="1.6" height="1.7" fill="#b0ffd4"/>
<rect x="249.8" y="248.4" width="1.6" height="1.7" fill="#ffd2a1"/>
<rect x="251.4" y="248.4" width="1.6" height="1.7" fill="#b4ffd1"/>
<rect x="253" y="248.4" width="1.6" height="1.7" fill="#afffd4"/>
<rect x="254.6" y="248.4" width="1.6" height="1.7" fill="#a7fed8"/>
<rect x="256.2" y="248.4" width="1.6" height="1.7" fill="#a9fed7"/>
<rect x="257.8" y="248.4" width="3.2" height="1.7" fill="#baffce"/>
<rect x="261" y="248.4" width="1.6" height="1.7" fill="#acffd6"/>
<rect x="262.6" y="248.4" width="1.6" height="1.7" fill="#b4ffd1"/>
<rect x="264.2" y="248.4" width="1.6" height="1.7" fill="#abffd6"/>
<rect x="265.8" y="248.4" width="1.6" height="1.7" fill="#bdfecc"/>
<rect x="267.4" y="248.4" width="1.6" height="1.7" fill="#b1ffd3"/>
<rect x="269" y="248.4" width="1.6" height="1.7" fill="#b0ffd3"/>
<rect x="273.8" y="248.4" width="1.6" height="1.7" fill="#a8fed8"/>
<rect x="221" y="250.1" width="1.6" height="1.7" fill="#b9ffcf"/>
<rect x="224.2" y="250.1" width="1.6" height="1.7" fill="#ffd2a1"/>
<rect x="225.8" y="250.1" width="1.6" height="1.7" fill="#abfed6"/>
<rect x="227.4" y="250.1" width="1.6" height="1.7" fill="#b6ffd0"/>
<rect x="229" y="250.1" width="1.6" height="1.7" fill="#afffd4"/>
<rect x="230.6" y="250.1" width="1.6" height="1.7" fill="#a8fed8"/>
<rect x="232.2" y="250.1" width="1.6" height="1.7" fill="#a9fed7"/>
<rect x="233.8" y="250.1" width="1.6" height="1.7" fill="#b0ffd3"/>
<rect x="235.4" y="250.1" width="1.6" height="1.7" fill="#bcfecd"/>
<rect x="237" y="250.1" width="1.6" height="1.7" fill="#adffd5"/>
<rect x="240.2" y="250.1" width="1.6" height="1.7" fill="#afffd4"/>
<rect x="241.8" y="250.1" width="1.6" height="1.7" fill="#b7ffcf"/>
<rect x="243.4" y="250.1" width="1.6" height="1.7" fill="#afffd4"/>
<rect x="245" y="250.1" width="1.6" height="1.7" fill="#a9fed7"/>
<rect x="246.6" y="250.1" width="1.6" height="1.7" fill="#b8ffcf"/>
<rect x="248.2" y="250.1" width="1.6" height="1.7" fill="#f6dca7"/>
<rect x="249.8" y="250.1" width="1.6" height="1.7" fill="#aafed7"/>
<rect x="251.4" y="250.1" width="1.6" height="1.7" fill="#b6ffd0"/>
<rect x="253" y="250.1" width="1.6" height="1.7" fill="#acffd6"/>
<rect x="254.6" y="250.1" width="3.2" height="1.7" fill="#bdfecc"/>
<rect x="257.8" y="250.1" width="1.6" height="1.7" fill="#b6ffd0"/>
<rect x="259.4" y="250.1" width="1.6" height="1.7" fill="#b5ffd1"/>
<rect x="261" y="250.1" width="1.6" height="1.7" fill="#b7ffd0"/>
<rect x="262.6" y="250.1" width="1.6" height="1.7" fill="#b9ffce"/>
<rect x="264.2" y="250.1" width="1.6" height="1.7" fill="#b0ffd3"/>
<rect x="265.8" y="250.1" width="1.6" height="1.7" fill="#b5ffd1"/>
<rect x="267.4" y="250.1" width="3.2" height="1.7" fill="#afffd4"/>
<rect x="273.8" y="250.1" width="1.6" height="1.7" fill="#b3ffd2"/>
<rect x="224.2" y="251.8" width="1.6" height="1.7" fill="#b9ffce"/>
<rect x="225.8" y="251.8" width="1.6" height="1.7" fill="#befecc"/>
<rect x="227.4" y="251.8" width="1.6" height="1.7" fill="#abfed7"/>
<rect x="229" y="251.8" width="1.6" height="1.7" fill="#acffd6"/>
<rect x="230.6" y="251.8" width="1.6" height="1.7" fill="#aafed7"/>
<rect x="232.2" y="251.8" width="1.6" height="1.7" fill="#b6ffd0"/>
<rect x="233.8" y="251.8" width="1.6" height="1.7" fill="#b2ffd2"/>
<rect x="235.4" y="251.8" width="1.6" height="1.7" fill="#a6fed9"/>
<rect x="237" y="251.8" width="1.6" height="1.7" fill="#b6ffd0"/>
<rect x="238.6" y="251.8" width="1.6" height="1.7" fill="#b8ffcf"/>
<rect x="240.2" y="251.8" width="1.6" height="1.7" fill="#b6ffd0"/>
<rect x="241.8" y="251.8" width="1.6" height="1.7" fill="#bdfecc"/>
<rect x="243.4" y="251.8" width="1.6" height="1.7" fill="#befecb"/>
<rect x="245" y="251.8" width="1.6" height="1.7" fill="#abffd6"/>
<rect x="246.6" y="251.8" width="1.6" height="1.7" fill="#ff957e"/>
<rect x="248.2" y="251.8" width="1.6" height="1.7" fill="#85eee8"/>
<rect x="249.8" y="251.8" width="1.6" height="1.7" fill="#aeffd5"/>
<rect x="251.4" y="251.8" width="1.6" height="1.7" fill="#b1ffd3"/>
<rect x="253" y="251.8" width="1.6" height="1.7" fill="#b4ffd1"/>
<rect x="254.6" y="251.8" width="1.6" height="1.7" fill="#befecb"/>
<rect x="256.2" y="251.8" width="1.6" height="1.7" fill="#aeffd4"/>
<rect x="257.8" y="251.8" width="1.6" height="1.7" fill="#b6ffd0"/>
<rect x="259.4" y="251.8" width="1.6" height="1.7" fill="#b9ffce"/>
<rect x="261" y="251.8" width="1.6" height="1.7" fill="#a8fed8"/>
<rect x="262.6" y="251.8" width="1.6" height="1.7" fill="#b8ffcf"/>
<rect x="264.2" y="251.8" width="1.6" height="1.7" fill="#a8fed8"/>
<rect x="265.8" y="251.8" width="1.6" height="1.7" fill="#ff957e"/>
<rect x="267.4" y="251.8" width="1.6" height="1.7" fill="#abffd6"/>
<rect x="269" y="251.8" width="1.6" height="1.7" fill="#bdfecc"/>
<rect x="272.2" y="251.8" width="1.6" height="1.7" fill="#b8ffcf"/>
<rect x="222.6" y="253.5" width="1.6" height="1.7" fill="#85eee8"/>
<rect x="225.8" y="253.5" width="1.6" height="1.7" fill="#acffd5"/>
<rect x="227.4" y="253.5" width="1.6" height="1.7" fill="#baffce"/>
<rect x="229" y="253.5" width="1.6" height="1.7" fill="#b0ffd3"/>
<rect x="230.6" y="253.5" width="1.6" height="1.7" fill="#b1ffd3"/>
<rect x="232.2" y="253.5" width="1.6" height="1.7" fill="#b5ffd1"/>
<rect x="233.8" y="253.5" width="1.6" height="1.7" fill="#acffd6"/>
<rect x="235.4" y="253.5" width="1.6" height="1.7" fill="#b0ffd4"/>
<rect x="237" y="253.5" width="1.6" height="1.7" fill="#b2ffd2"/>
<rect x="238.6" y="253.5" width="1.6" height="1.7" fill="#a7fed8"/>
<rect x="240.2" y="253.5" width="1.6" height="1.7" fill="#b3ffd2"/>
<rect x="241.8" y="253.5" width="1.6" height="1.7" fill="#ffd2a1"/>
<rect x="243.4" y="253.5" width="1.6" height="1.7" fill="#afffd4"/>
<rect x="245" y="253.5" width="1.6" height="1.7" fill="#bafece"/>
<rect x="246.6" y="253.5" width="1.6" height="1.7" fill="#adffd5"/>
<rect x="248.2" y="253.5" width="1.6" height="1.7" fill="#afffd4"/>
<rect x="249.8" y="253.5" width="1.6" height="1.7" fill="#aeffd5"/>
<rect x="251.4" y="253.5" width="1.6" height="1.7" fill="#bdfecc"/>
<rect x="253" y="253.5" width="1.6" height="1.7" fill="#befecc"/>
<rect x="254.6" y="253.5" width="1.6" height="1.7" fill="#a8fed8"/>
<rect x="256.2" y="253.5" width="1.6" height="1.7" fill="#aeffd5"/>
<rect x="257.8" y="253.5" width="1.6" height="1.7" fill="#b2ffd2"/>
<rect x="259.4" y="253.5" width="1.6" height="1.7" fill="#afffd4"/>
<rect x="261" y="253.5" width="1.6" height="1.7" fill="#f6dca7"/>
<rect x="262.6" y="253.5" width="1.6" height="1.7" fill="#b7ffd0"/>
<rect x="264.2" y="253.5" width="1.6" height="1.7" fill="#b4ffd1"/>
<rect x="265.8" y="253.5" width="3.2" height="1.7" fill="#acffd6"/>
<rect x="269" y="253.5" width="1.6" height="1.7" fill="#b9ffcf"/>
<rect x="272.2" y="253.5" width="1.6" height="1.7" fill="#abffd6"/>
<rect x="221" y="255.2" width="1.6" height="1.7" fill="#ff957e"/>
<rect x="224.2" y="255.2" width="1.6" height="1.7" fill="#75e2ee"/>
<rect x="225.8" y="255.2" width="1.6" height="1.7" fill="#bbfecd"/>
<rect x="227.4" y="255.2" width="1.6" height="1.7" fill="#aafed7"/>
<rect x="229" y="255.2" width="1.6" height="1.7" fill="#bbfecd"/>
<rect x="230.6" y="255.2" width="1.6" height="1.7" fill="#befecc"/>
<rect x="232.2" y="255.2" width="1.6" height="1.7" fill="#b7ffd0"/>
<rect x="233.8" y="255.2" width="1.6" height="1.7" fill="#abffd6"/>
<rect x="235.4" y="255.2" width="1.6" height="1.7" fill="#afffd4"/>
<rect x="237" y="255.2" width="1.6" height="1.7" fill="#a7fed8"/>
<rect x="238.6" y="255.2" width="1.6" height="1.7" fill="#befecc"/>
<rect x="240.2" y="255.2" width="1.6" height="1.7" fill="#aafed7"/>
<rect x="241.8" y="255.2" width="1.6" height="1.7" fill="#befecb"/>
<rect x="243.4" y="255.2" width="1.6" height="1.7" fill="#b8ffcf"/>
<rect x="245" y="255.2" width="1.6" height="1.7" fill="#bbfecd"/>
<rect x="246.6" y="255.2" width="1.6" height="1.7" fill="#a7fed9"/>
<rect x="248.2" y="255.2" width="1.6" height="1.7" fill="#b3ffd2"/>
<rect x="249.8" y="255.2" width="1.6" height="1.7" fill="#b2ffd2"/>
<rect x="251.4" y="255.2" width="1.6" height="1.7" fill="#afffd4"/>
<rect x="253" y="255.2" width="1.6" height="1.7" fill="#a7fed8"/>
<rect x="254.6" y="255.2" width="1.6" height="1.7" fill="#afffd4"/>
<rect x="256.2" y="255.2" width="1.6" height="1.7" fill="#75e2ee"/>
<rect x="257.8" y="255.2" width="1.6" height="1.7" fill="#b2ffd2"/>
<rect x="259.4" y="255.2" width="1.6" height="1.7" fill="#aafed7"/>
<rect x="261" y="255.2" width="1.6" height="1.7" fill="#b7ffd0"/>
<rect x="262.6" y="255.2" width="1.6" height="1.7" fill="#acffd6"/>
<rect x="264.2" y="255.2" width="1.6" height="1.7" fill="#adffd5"/>
<rect x="265.8" y="255.2" width="1.6" height="1.7" fill="#f6dca7"/>
<rect x="267.4" y="255.2" width="1.6" height="1.7" fill="#a7fed8"/>
<rect x="269" y="255.2" width="1.6" height="1.7" fill="#75e2ee"/>
<rect x="270.6" y="255.2" width="1.6" height="1.7" fill="#b0ffd4"/>
<rect x="221" y="256.9" width="1.6" height="1.7" fill="#bcfecd"/>
<rect x="225.8" y="256.9" width="3.2" height="1.7" fill="#f6dca7"/>
<rect x="229" y="256.9" width="1.6" height="1.7" fill="#aeffd4"/>
<rect x="230.6" y="256.9" width="1.6" height="1.7" fill="#aeffd5"/>
<rect x="232.2" y="256.9" width="1.6" height="1.7" fill="#acffd6"/>
<rect x="233.8" y="256.9" width="1.6" height="1.7" fill="#b5ffd1"/>
<rect x="235.4" y="256.9" width="1.6" height="1.7" fill="#aafed7"/>
<rect x="237" y="256.9" width="1.6" height="1.7" fill="#85eee8"/>
<rect x="238.6" y="256.9" width="1.6" height="1.7" fill="#b5ffd1"/>
<rect x="240.2" y="256.9" width="1.6" height="1.7" fill="#bdfecc"/>
<rect x="241.8" y="256.9" width="1.6" height="1.7" fill="#abffd6"/>
<rect x="243.4" y="256.9" width="1.6" height="1.7" fill="#a9fed7"/>
<rect x="245" y="256.9" width="1.6" height="1.7" fill="#acffd6"/>
<rect x="246.6" y="256.9" width="1.6" height="1.7" fill="#a8fed8"/>
<rect x="248.2" y="256.9" width="1.6" height="1.7" fill="#afffd4"/>
<rect x="249.8" y="256.9" width="1.6" height="1.7" fill="#bcfecd"/>
<rect x="251.4" y="256.9" width="1.6" height="1.7" fill="#b7ffcf"/>
<rect x="253" y="256.9" width="1.6" height="1.7" fill="#b9ffce"/>
<rect x="254.6" y="256.9" width="1.6" height="1.7" fill="#baffce"/>
<rect x="256.2" y="256.9" width="1.6" height="1.7" fill="#abffd6"/>
<rect x="257.8" y="256.9" width="1.6" height="1.7" fill="#b0ffd3"/>
<rect x="259.4" y="256.9" width="1.6" height="1.7" fill="#bdfecc"/>
<rect x="261" y="256.9" width="1.6" height="1.7" fill="#b8ffcf"/>
<rect x="262.6" y="256.9" width="1.6" height="1.7" fill="#b6ffd0"/>
<rect x="264.2" y="256.9" width="1.6" height="1.7" fill="#f6dca7"/>
<rect x="265.8" y="256.9" width="1.6" height="1.7" fill="#abffd6"/>
<rect x="267.4" y="256.9" width="1.6" height="1.7" fill="#afffd4"/>
<rect x="269" y="256.9" width="1.6" height="1.7" fill="#bcfecd"/>
<rect x="273.8" y="256.9" width="1.6" height="1.7" fill="#85eee8"/>
<rect x="222.6" y="258.6" width="1.6" height="1.7" fill="#acffd6"/>
<rect x="227.4" y="258.6" width="1.6" height="1.7" fill="#adffd5"/>
<rect x="229" y="258.6" width="1.6" height="1.7" fill="#acffd6"/>
<rect x="230.6" y="258.6" width="1.6" height="1.7" fill="#a7fed8"/>
<rect x="232.2" y="258.6" width="1.6" height="1.7" fill="#b4ffd1"/>
<rect x="233.8" y="258.6" width="1.6" height="1.7" fill="#85eee8"/>
<rect x="235.4" y="258.6" width="1.6" height="1.7" fill="#b6ffd0"/>
<rect x="237" y="258.6" width="1.6" height="1.7" fill="#aeffd5"/>
<rect x="238.6" y="258.6" width="1.6" height="1.7" fill="#b0ffd3"/>
<rect x="240.2" y="258.6" width="1.6" height="1.7" fill="#a8fed8"/>
<rect x="241.8" y="258.6" width="1.6" height="1.7" fill="#e0eeb6"/>
<rect x="243.4" y="258.6" width="1.6" height="1.7" fill="#befecb"/>
<rect x="245" y="258.6" width="1.6" height="1.7" fill="#bcfecd"/>
<rect x="248.2" y="258.6" width="1.6" height="1.7" fill="#aeffd5"/>
<rect x="249.8" y="258.6" width="1.6" height="1.7" fill="#bbfece"/>
<rect x="251.4" y="258.6" width="1.6" height="1.7" fill="#f6dca7"/>
<rect x="253" y="258.6" width="1.6" height="1.7" fill="#a8fed8"/>
<rect x="254.6" y="258.6" width="1.6" height="1.7" fill="#b3ffd2"/>
<rect x="256.2" y="258.6" width="1.6" height="1.7" fill="#b6ffd0"/>
<rect x="257.8" y="258.6" width="1.6" height="1.7" fill="#b8ffcf"/>
<rect x="259.4" y="258.6" width="1.6" height="1.7" fill="#b9ffcf"/>
<rect x="261" y="258.6" width="1.6" height="1.7" fill="#b9ffce"/>
<rect x="262.6" y="258.6" width="1.6" height="1.7" fill="#adffd5"/>
<rect x="264.2" y="258.6" width="1.6" height="1.7" fill="#a9fed7"/>
<rect x="267.4" y="258.6" width="1.6" height="1.7" fill="#b9ffce"/>
<rect x="269" y="258.6" width="1.6" height="1.7" fill="#acffd6"/>
<rect x="270.6" y="258.6" width="1.6" height="1.7" fill="#ffd2a1"/>
<rect x="224.2" y="260.3" width="1.6" height="1.7" fill="#75e2ee"/>
<rect x="225.8" y="260.3" width="1.6" height="1.7" fill="#f6dca7"/>
<rect x="227.4" y="260.3" width="1.6" height="1.7" fill="#b9ffce"/>
<rect x="229" y="260.3" width="1.6" height="1.7" fill="#b8ffcf"/>
<rect x="230.6" y="260.3" width="1.6" height="1.7" fill="#abffd6"/>
<rect x="232.2" y="260.3" width="1.6" height="1.7" fill="#b0ffd4"/>
<rect x="233.8" y="260.3" width="1.6" height="1.7" fill="#a7fed8"/>
<rect x="235.4" y="260.3" width="1.6" height="1.7" fill="#94f8e2"/>
<rect x="237" y="260.3" width="1.6" height="1.7" fill="#bbfecd"/>
<rect x="238.6" y="260.3" width="1.6" height="1.7" fill="#b0ffd3"/>
<rect x="240.2" y="260.3" width="1.6" height="1.7" fill="#b6ffd0"/>
<rect x="241.8" y="260.3" width="1.6" height="1.7" fill="#adffd5"/>
<rect x="243.4" y="260.3" width="1.6" height="1.7" fill="#abffd6"/>
<rect x="245" y="260.3" width="1.6" height="1.7" fill="#aeffd5"/>
<rect x="246.6" y="260.3" width="1.6" height="1.7" fill="#b4ffd1"/>
<rect x="248.2" y="260.3" width="1.6" height="1.7" fill="#bcfecd"/>
<rect x="249.8" y="260.3" width="1.6" height="1.7" fill="#bafece"/>
<rect x="251.4" y="260.3" width="1.6" height="1.7" fill="#b2ffd2"/>
<rect x="253" y="260.3" width="1.6" height="1.7" fill="#b7ffd0"/>
<rect x="254.6" y="260.3" width="1.6" height="1.7" fill="#b4ffd1"/>
<rect x="256.2" y="260.3" width="1.6" height="1.7" fill="#bcfecd"/>
<rect x="257.8" y="260.3" width="1.6" height="1.7" fill="#bbfecd"/>
<rect x="259.4" y="260.3" width="1.6" height="1.7" fill="#bffecb"/>
<rect x="261" y="260.3" width="1.6" height="1.7" fill="#ffd2a1"/>
<rect x="262.6" y="260.3" width="1.6" height="1.7" fill="#aafed7"/>
<rect x="264.2" y="260.3" width="1.6" height="1.7" fill="#afffd4"/>
<rect x="265.8" y="260.3" width="1.6" height="1.7" fill="#b0ffd4"/>
<rect x="267.4" y="260.3" width="1.6" height="1.7" fill="#b7ffd0"/>
<rect x="269" y="260.3" width="1.6" height="1.7" fill="#ffd2a1"/>
<rect x="270.6" y="260.3" width="1.6" height="1.7" fill="#e0eeb6"/>
<rect x="229" y="262" width="1.6" height="1.7" fill="#ffd2a1"/>
<rect x="230.6" y="262" width="1.6" height="1.7" fill="#aafed7"/>
<rect x="232.2" y="262" width="1.6" height="1.7" fill="#b7ffd0"/>
<rect x="233.8" y="262" width="1.6" height="1.7" fill="#b3ffd2"/>
<rect x="235.4" y="262" width="1.6" height="1.7" fill="#b2ffd2"/>
<rect x="237" y="262" width="1.6" height="1.7" fill="#acffd6"/>
<rect x="238.6" y="262" width="1.6" height="1.7" fill="#b8ffcf"/>
<rect x="240.2" y="262" width="1.6" height="1.7" fill="#adffd5"/>
<rect x="241.8" y="262" width="1.6" height="1.7" fill="#75e2ee"/>
<rect x="243.4" y="262" width="1.6" height="1.7" fill="#befecc"/>
<rect x="245" y="262" width="1.6" height="1.7" fill="#a7fed8"/>
<rect x="246.6" y="262" width="1.6" height="1.7" fill="#aeffd4"/>
<rect x="248.2" y="262" width="1.6" height="1.7" fill="#b9ffcf"/>
<rect x="249.8" y="262" width="1.6" height="1.7" fill="#b3ffd2"/>
<rect x="251.4" y="262" width="1.6" height="1.7" fill="#b9ffcf"/>
<rect x="253" y="262" width="1.6" height="1.7" fill="#bcfecd"/>
<rect x="254.6" y="262" width="1.6" height="1.7" fill="#b3ffd2"/>
<rect x="256.2" y="262" width="1.6" height="1.7" fill="#b8ffcf"/>
<rect x="257.8" y="262" width="1.6" height="1.7" fill="#b7ffd0"/>
<rect x="259.4" y="262" width="1.6" height="1.7" fill="#a7fed8"/>
<rect x="261" y="262" width="1.6" height="1.7" fill="#b4ffd1"/>
<rect x="262.6" y="262" width="1.6" height="1.7" fill="#b7ffd0"/>
<rect x="264.2" y="262" width="1.6" height="1.7" fill="#b2ffd3"/>
<rect x="265.8" y="262" width="1.6" height="1.7" fill="#afffd4"/>
<rect x="267.4" y="262" width="1.6" height="1.7" fill="#bafece"/>
<rect x="269" y="262" width="1.6" height="1.7" fill="#afffd4"/>
<rect x="272.2" y="262" width="1.6" height="1.7" fill="#e0eeb6"/>
<rect x="227.4" y="263.7" width="1.6" height="1.7" fill="#94f8e2"/>
<rect x="229" y="263.7" width="1.6" height="1.7" fill="#b3ffd2"/>
<rect x="230.6" y="263.7" width="1.6" height="1.7" fill="#aafed7"/>
<rect x="232.2" y="263.7" width="1.6" height="1.7" fill="#b3ffd2"/>
<rect x="233.8" y="263.7" width="1.6" height="1.7" fill="#acffd6"/>
<rect x="235.4" y="263.7" width="1.6" height="1.7" fill="#b2ffd3"/>
<rect x="237" y="263.7" width="1.6" height="1.7" fill="#bcfecd"/>
<rect x="238.6" y="263.7" width="1.6" height="1.7" fill="#ff957e"/>
<rect x="240.2" y="263.7" width="1.6" height="1.7" fill="#b1ffd3"/>
<rect x="241.8" y="263.7" width="1.6" height="1.7" fill="#afffd4"/>
<rect x="243.4" y="263.7" width="1.6" height="1.7" fill="#b3ffd2"/>
<rect x="245" y="263.7" width="1.6" height="1.7" fill="#adffd5"/>
<rect x="246.6" y="263.7" width="1.6" height="1.7" fill="#a9fed7"/>
<rect x="248.2" y="263.7" width="1.6" height="1.7" fill="#abfed7"/>
<rect x="249.8" y="263.7" width="1.6" height="1.7" fill="#f6dca7"/>
<rect x="251.4" y="263.7" width="1.6" height="1.7" fill="#acffd6"/>
<rect x="253" y="263.7" width="1.6" height="1.7" fill="#b0ffd4"/>
<rect x="256.2" y="263.7" width="1.6" height="1.7" fill="#a8fed8"/>
<rect x="257.8" y="263.7" width="1.6" height="1.7" fill="#adffd5"/>
<rect x="259.4" y="263.7" width="1.6" height="1.7" fill="#bbfece"/>
<rect x="261" y="263.7" width="1.6" height="1.7" fill="#bbfecd"/>
<rect x="262.6" y="263.7" width="1.6" height="1.7" fill="#baffce"/>
<rect x="264.2" y="263.7" width="1.6" height="1.7" fill="#a7fed8"/>
<rect x="265.8" y="263.7" width="1.6" height="1.7" fill="#b8ffcf"/>
<rect x="267.4" y="263.7" width="1.6" height="1.7" fill="#b6ffd0"/>
<rect x="269" y="263.7" width="1.6" height="1.7" fill="#b0ffd4"/>
<rect x="272.2" y="263.7" width="1.6" height="1.7" fill="#94f8e2"/>
<rect x="273.8" y="263.7" width="1.6" height="1.7" fill="#b7ffd0"/>
<rect x="224.2" y="265.4" width="1.6" height="1.7" fill="#b3ffd2"/>
<rect x="227.4" y="265.4" width="1.6" height="1.7" fill="#a7fed8"/>
<rect x="229" y="265.4" width="3.2" height="1.7" fill="#b2ffd3"/>
<rect x="232.2" y="265.4" width="1.6" height="1.7" fill="#b2ffd2"/>
<rect x="233.8" y="265.4" width="1.6" height="1.7" fill="#b7ffd0"/>
<rect x="235.4" y="265.4" width="1.6" height="1.7" fill="#a7fed8"/>
<rect x="237" y="265.4" width="1.6" height="1.7" fill="#b9ffce"/>
<rect x="238.6" y="265.4" width="1.6" height="1.7" fill="#acffd6"/>
<rect x="240.2" y="265.4" width="1.6" height="1.7" fill="#a9fed7"/>
<rect x="241.8" y="265.4" width="1.6" height="1.7" fill="#b4ffd1"/>
<rect x="243.4" y="265.4" width="1.6" height="1.7" fill="#b8ffcf"/>
<rect x="245" y="265.4" width="1.6" height="1.7" fill="#e0eeb6"/>
<rect x="246.6" y="265.4" width="1.6" height="1.7" fill="#aafed7"/>
<rect x="248.2" y="265.4" width="1.6" height="1.7" fill="#e0eeb6"/>
<rect x="249.8" y="265.4" width="1.6" height="1.7" fill="#b3ffd2"/>
<rect x="253" y="265.4" width="1.6" height="1.7" fill="#adffd5"/>
<rect x="254.6" y="265.4" width="1.6" height="1.7" fill="#bbfecd"/>
<rect x="256.2" y="265.4" width="1.6" height="1.7" fill="#b1ffd3"/>
<rect x="257.8" y="265.4" width="1.6" height="1.7" fill="#bbfecd"/>
<rect x="259.4" y="265.4" width="1.6" height="1.7" fill="#adffd5"/>
<rect x="261" y="265.4" width="1.6" height="1.7" fill="#75e2ee"/>
<rect x="262.6" y="265.4" width="1.6" height="1.7" fill="#b6ffd0"/>
<rect x="264.2" y="265.4" width="1.6" height="1.7" fill="#bdfecc"/>
<rect x="265.8" y="265.4" width="1.6" height="1.7" fill="#b8ffcf"/>
<rect x="267.4" y="265.4" width="1.6" height="1.7" fill="#a6fed9"/>
<rect x="270.6" y="265.4" width="1.6" height="1.7" fill="#a7fed8"/>
<rect x="224.2" y="267.1" width="1.6" height="1.7" fill="#b0ffd3"/>
<rect x="225.8" y="267.1" width="1.6" height="1.7" fill="#f6dca7"/>
<rect x="230.6" y="267.1" width="1.6" height="1.7" fill="#94f8e2"/>
<rect x="232.2" y="267.1" width="1.6" height="1.7" fill="#b2ffd2"/>
<rect x="235.4" y="267.1" width="1.6" height="1.7" fill="#aafed7"/>
<rect x="237" y="267.1" width="1.6" height="1.7" fill="#b9ffcf"/>
<rect x="238.6" y="267.1" width="1.6" height="1.7" fill="#aafed7"/>
<rect x="240.2" y="267.1" width="1.6" height="1.7" fill="#b3ffd2"/>
<rect x="241.8" y="267.1" width="1.6" height="1.7" fill="#a9fed8"/>
<rect x="243.4" y="267.1" width="1.6" height="1.7" fill="#bbfece"/>
<rect x="245" y="267.1" width="1.6" height="1.7" fill="#b1ffd3"/>
<rect x="246.6" y="267.1" width="1.6" height="1.7" fill="#aafed7"/>
<rect x="248.2" y="267.1" width="1.6" height="1.7" fill="#b9ffcf"/>
<rect x="249.8" y="267.1" width="1.6" height="1.7" fill="#b8ffcf"/>
<rect x="251.4" y="267.1" width="1.6" height="1.7" fill="#adffd5"/>
<rect x="253" y="267.1" width="1.6" height="1.7" fill="#bdfecc"/>
<rect x="254.6" y="267.1" width="1.6" height="1.7" fill="#befecc"/>
<rect x="256.2" y="267.1" width="1.6" height="1.7" fill="#adffd5"/>
<rect x="257.8" y="267.1" width="1.6" height="1.7" fill="#abffd6"/>
<rect x="259.4" y="267.1" width="1.6" height="1.7" fill="#aeffd4"/>
<rect x="261" y="267.1" width="1.6" height="1.7" fill="#85eee8"/>
<rect x="262.6" y="267.1" width="1.6" height="1.7" fill="#bffecb"/>
<rect x="264.2" y="267.1" width="1.6" height="1.7" fill="#adffd5"/>
<rect x="265.8" y="267.1" width="1.6" height="1.7" fill="#b2ffd2"/>
<rect x="267.4" y="267.1" width="1.6" height="1.7" fill="#ff957e"/>
<rect x="273.8" y="267.1" width="1.6" height="1.7" fill="#ff957e"/>
<rect x="222.6" y="268.8" width="1.6" height="1.7" fill="#acffd6"/>
<rect x="224.2" y="268.8" width="1.6" height="1.7" fill="#75e2ee"/>
<rect x="235.4" y="268.8" width="1.6" height="1.7" fill="#aeffd4"/>
<rect x="237" y="268.8" width="1.6" height="1.7" fill="#94f8e2"/>
<rect x="238.6" y="268.8" width="1.6" height="1.7" fill="#75e2ee"/>
<rect x="240.2" y="268.8" width="1.6" height="1.7" fill="#a9fed7"/>
<rect x="241.8" y="268.8" width="1.6" height="1.7" fill="#a7fed8"/>
<rect x="243.4" y="268.8" width="1.6" height="1.7" fill="#b0ffd3"/>
<rect x="245" y="268.8" width="1.6" height="1.7" fill="#bbfece"/>
<rect x="246.6" y="268.8" width="1.6" height="1.7" fill="#b8ffcf"/>
<rect x="248.2" y="268.8" width="1.6" height="1.7" fill="#a8fed8"/>
<rect x="251.4" y="268.8" width="1.6" height="1.7" fill="#aeffd5"/>
<rect x="253" y="268.8" width="1.6" height="1.7" fill="#acffd6"/>
<rect x="254.6" y="268.8" width="1.6" height="1.7" fill="#b4ffd2"/>
<rect x="256.2" y="268.8" width="1.6" height="1.7" fill="#b4ffd1"/>
<rect x="257.8" y="268.8" width="1.6" height="1.7" fill="#befecc"/>
<rect x="259.4" y="268.8" width="1.6" height="1.7" fill="#befecb"/>
<rect x="261" y="268.8" width="1.6" height="1.7" fill="#b3ffd2"/>
<rect x="269" y="268.8" width="1.6" height="1.7" fill="#abffd6"/>
<rect x="270.6" y="268.8" width="1.6" height="1.7" fill="#f6dca7"/>
<rect x="227.4" y="270.5" width="1.6" height="1.7" fill="#75e2ee"/>
<rect x="232.2" y="270.5" width="1.6" height="1.7" fill="#baffce"/>
<rect x="233.8" y="270.5" width="1.6" height="1.7" fill="#85eee8"/>
<rect x="235.4" y="270.5" width="1.6" height="1.7" fill="#75e2ee"/>
<rect x="237" y="270.5" width="1.6" height="1.7" fill="#85eee8"/>
<rect x="238.6" y="270.5" width="1.6" height="1.7" fill="#b2ffd3"/>
<rect x="240.2" y="270.5" width="1.6" height="1.7" fill="#ff957e"/>
<rect x="241.8" y="270.5" width="1.6" height="1.7" fill="#94f8e2"/>
<rect x="245" y="270.5" width="1.6" height="1.7" fill="#aafed7"/>
<rect x="246.6" y="270.5" width="1.6" height="1.7" fill="#f6dca7"/>
<rect x="248.2" y="270.5" width="1.6" height="1.7" fill="#b8ffcf"/>
<rect x="253" y="270.5" width="1.6" height="1.7" fill="#75e2ee"/>
<rect x="254.6" y="270.5" width="1.6" height="1.7" fill="#b9ffcf"/>
<rect x="256.2" y="270.5" width="1.6" height="1.7" fill="#e0eeb6"/>
<rect x="259.4" y="270.5" width="1.6" height="1.7" fill="#b6ffd0"/>
<rect x="261" y="270.5" width="1.6" height="1.7" fill="#baffce"/>
<rect x="262.6" y="270.5" width="1.6" height="1.7" fill="#b2ffd2"/>
<rect x="265.8" y="270.5" width="1.6" height="1.7" fill="#ffd2a1"/>
<rect x="267.4" y="270.5" width="1.6" height="1.7" fill="#baffce"/>
<rect x="272.2" y="270.5" width="1.6" height="1.7" fill="#bcfecd"/>
<rect x="221" y="272.2" width="1.6" height="1.7" fill="#bdfecc"/>
<rect x="224.2" y="272.2" width="1.6" height="1.7" fill="#acffd6"/>
<rect x="225.8" y="272.2" width="1.6" height="1.7" fill="#f6dca7"/>
<rect x="230.6" y="272.2" width="1.6" height="1.7" fill="#bdfecc"/>
<rect x="232.2" y="272.2" width="1.6" height="1.7" fill="#e0eeb6"/>
<rect x="233.8" y="272.2" width="1.6" height="1.7" fill="#b7ffd0"/>
<rect x="235.4" y="272.2" width="1.6" height="1.7" fill="#b0ffd3"/>
<rect x="240.2" y="272.2" width="1.6" height="1.7" fill="#75e2ee"/>
<rect x="241.8" y="272.2" width="1.6" height="1.7" fill="#aeffd5"/>
<rect x="246.6" y="272.2" width="1.6" height="1.7" fill="#b2ffd3"/>
<rect x="262.6" y="272.2" width="1.6" height="1.7" fill="#ff957e"/>
<rect x="273.8" y="272.2" width="1.6" height="1.7" fill="#aeffd4"/>
</g>
<path d="M244 204C247 203.33 249 207 252 210C255 213 259.17 217.67 262 222C264.83 226.33 267.33 231 269 236C270.67 241 272.17 247 272 252C271.83 257 271 262.83 268 266C265 269.17 259 270.33 254 271C249 271.67 242.5 271.5 238 270C233.5 268.5 229.5 266 227 262C224.5 258 223.17 251.33 223 246C222.83 240.67 224.17 235.33 226 230C227.83 224.67 231 218.33 234 214C237 209.67 241 204.67 244 204Z" class="ct"/>
<path d="M230.5 228.4C233.77 225.07 239.32 221.73 245 222C250.68 222.27 260.18 226.08 264.6 230C269.02 233.92 270.93 240.07 271.5 245.5C272.07 250.93 270.85 258.62 268 262.6C265.15 266.58 258.95 268.55 254.4 269.4C249.85 270.25 244.97 269.43 240.7 267.7C236.43 265.97 231.35 263.28 228.8 259C226.25 254.72 225.12 247.1 225.4 242C225.68 236.9 227.23 231.73 230.5 228.4Z" class="ct"/>
<path d="M239 231.8C241.85 229.23 248.72 229.53 252.7 230.1C256.68 230.67 260.63 232.07 262.9 235.2C265.17 238.33 266.58 244.62 266.3 248.9C266.02 253.18 264.03 258.62 261.2 260.9C258.37 263.18 253 263.18 249.3 262.6C245.6 262.02 241.28 260.25 239 257.4C236.72 254.55 235.6 249.77 235.6 245.5C235.6 241.23 236.15 234.37 239 231.8Z" class="ct"/>
<path d="M244 235.2C246.28 232.92 253.23 233.77 256.1 235.2C258.97 236.63 260.92 240.67 261.2 243.8C261.48 246.93 259.78 252.02 257.8 254C255.82 255.98 251.87 256.55 249.3 255.7C246.73 254.85 243.28 252.32 242.4 248.9C241.52 245.48 241.72 237.48 244 235.2Z" class="ct"/>
<rect x="184.8" y="163.4" width="104.7" height="109.9" class="fr"/>
<line x1="184.8" y1="273.3" x2="184.8" y2="274.9" class="tk"/>
<line x1="199.76" y1="273.3" x2="199.76" y2="274.9" class="tk"/>
<line x1="214.71" y1="273.3" x2="214.71" y2="274.9" class="tk"/>
<line x1="229.67" y1="273.3" x2="229.67" y2="274.9" class="tk"/>
<line x1="244.63" y1="273.3" x2="244.63" y2="274.9" class="tk"/>
<line x1="259.59" y1="273.3" x2="259.59" y2="274.9" class="tk"/>
<line x1="274.54" y1="273.3" x2="274.54" y2="274.9" class="tk"/>
<line x1="289.5" y1="273.3" x2="289.5" y2="274.9" class="tk"/>
<line x1="183.2" y1="166.63" x2="184.8" y2="166.63" class="tk"/>
<line x1="183.2" y1="182.79" x2="184.8" y2="182.79" class="tk"/>
<line x1="183.2" y1="198.96" x2="184.8" y2="198.96" class="tk"/>
<line x1="183.2" y1="215.12" x2="184.8" y2="215.12" class="tk"/>
<line x1="183.2" y1="231.28" x2="184.8" y2="231.28" class="tk"/>
<line x1="183.2" y1="247.44" x2="184.8" y2="247.44" class="tk"/>
<line x1="183.2" y1="263.6" x2="184.8" y2="263.6" class="tk"/>
<rect x="296.2" y="163.4" width="5.8" height="109.9" fill="url(#cbg)" stroke="rgba(60,60,60,0.35)" stroke-width="0.6"/>
<line x1="302" y1="258.97" x2="303.2" y2="258.97" class="tkc"/>
<line x1="302" y1="243.04" x2="303.2" y2="243.04" class="tkc"/>
<line x1="302" y1="227.11" x2="303.2" y2="227.11" class="tkc"/>
<line x1="302" y1="211.18" x2="303.2" y2="211.18" class="tkc"/>
<line x1="302" y1="195.26" x2="303.2" y2="195.26" class="tkc"/>
<line x1="302" y1="179.33" x2="303.2" y2="179.33" class="tkc"/>
<line x1="302" y1="163.4" x2="303.2" y2="163.4" class="tkc"/>
<line x1="383.5" y1="165.3" x2="383.5" y2="271.2" class="g"/>
<line x1="403.8" y1="165.3" x2="403.8" y2="271.2" class="g"/>
<line x1="424.1" y1="165.3" x2="424.1" y2="271.2" class="g"/>
<line x1="444.4" y1="165.3" x2="444.4" y2="271.2" class="g"/>
<line x1="363.2" y1="168.24" x2="464.7" y2="168.24" class="g"/>
<line x1="363.2" y1="182.95" x2="464.7" y2="182.95" class="g"/>
<line x1="363.2" y1="197.66" x2="464.7" y2="197.66" class="g"/>
<line x1="363.2" y1="212.37" x2="464.7" y2="212.37" class="g"/>
<line x1="363.2" y1="227.07" x2="464.7" y2="227.07" class="g"/>
<line x1="363.2" y1="241.78" x2="464.7" y2="241.78" class="g"/>
<line x1="363.2" y1="256.49" x2="464.7" y2="256.49" class="g"/>
<clipPath id="cp5"><polygon points="434.6,167.7 440.9,167.7 440.9,179.5 446.4,179.5 446.4,205.7 452.7,205.7 452.7,256.9 447.3,256.9 447.3,269.5 398.3,269.5 398.3,263.2 380.2,263.2 380.2,256.9 367.5,256.9 367.5,231.6 373.8,231.6 373.8,225.2 380.2,225.2 380.2,219 387.6,219 387.6,199.4 411.9,199.4 411.9,192.2 417.3,192.2 417.3,186.7 422.8,186.7 422.8,179.5 429.2,179.5 429.2,174 434.6,174"/></clipPath>
<g clip-path="url(#cp5)">
<rect x="367.5" y="167.7" width="50.4" height="6.3" fill="#90fcd6"/>
<rect x="417.9" y="167.7" width="6.3" height="6.3" fill="#89f9da"/>
<rect x="424.2" y="167.7" width="6.3" height="6.3" fill="#82f6dd"/>
<rect x="430.5" y="167.7" width="6.3" height="6.3" fill="#7bf2e0"/>
<rect x="436.8" y="167.7" width="6.3" height="6.3" fill="#6de9e6"/>
<rect x="443.1" y="167.7" width="6.3" height="6.3" fill="#90fcd6"/>
<rect x="449.4" y="167.7" width="6.3" height="6.3" fill="#a6ffcb"/>
<rect x="367.5" y="174" width="56.7" height="6.3" fill="#90fcd6"/>
<rect x="424.2" y="174" width="18.9" height="6.3" fill="#89f9da"/>
<rect x="443.1" y="174" width="6.3" height="6.3" fill="#9fffcf"/>
<rect x="449.4" y="174" width="6.3" height="6.3" fill="#a6ffcb"/>
<rect x="367.5" y="180.3" width="37.8" height="6.3" fill="#90fcd6"/>
<rect x="405.3" y="180.3" width="37.8" height="6.3" fill="#97fed2"/>
<rect x="443.1" y="180.3" width="6.3" height="6.3" fill="#adffc7"/>
<rect x="449.4" y="180.3" width="6.3" height="6.3" fill="#b4fec3"/>
<rect x="367.5" y="186.6" width="44.1" height="6.3" fill="#90fcd6"/>
<rect x="411.6" y="186.6" width="31.5" height="6.3" fill="#97fed2"/>
<rect x="443.1" y="186.6" width="6.3" height="6.3" fill="#adffc7"/>
<rect x="449.4" y="186.6" width="6.3" height="6.3" fill="#bbfcbe"/>
<rect x="367.5" y="192.9" width="44.1" height="6.3" fill="#90fcd6"/>
<rect x="411.6" y="192.9" width="25.2" height="6.3" fill="#97fed2"/>
<rect x="436.8" y="192.9" width="6.3" height="6.3" fill="#9fffcf"/>
<rect x="443.1" y="192.9" width="6.3" height="6.3" fill="#b4fec3"/>
<rect x="449.4" y="192.9" width="6.3" height="6.3" fill="#bbfcbe"/>
<rect x="367.5" y="199.2" width="31.5" height="6.3" fill="#89f9da"/>
<rect x="399" y="199.2" width="12.6" height="6.3" fill="#90fcd6"/>
<rect x="411.6" y="199.2" width="12.6" height="6.3" fill="#97fed2"/>
<rect x="424.2" y="199.2" width="18.9" height="6.3" fill="#9fffcf"/>
<rect x="443.1" y="199.2" width="6.3" height="6.3" fill="#b4fec3"/>
<rect x="449.4" y="199.2" width="6.3" height="6.3" fill="#bbfcbe"/>
<rect x="367.5" y="205.5" width="44.1" height="6.3" fill="#89f9da"/>
<rect x="411.6" y="205.5" width="12.6" height="6.3" fill="#90fcd6"/>
<rect x="424.2" y="205.5" width="12.6" height="6.3" fill="#97fed2"/>
<rect x="436.8" y="205.5" width="6.3" height="6.3" fill="#9fffcf"/>
<rect x="443.1" y="205.5" width="6.3" height="6.3" fill="#b4fec3"/>
<rect x="449.4" y="205.5" width="6.3" height="6.3" fill="#bbfcbe"/>
<rect x="367.5" y="211.8" width="12.6" height="6.3" fill="#89f9da"/>
<rect x="380.1" y="211.8" width="37.8" height="6.3" fill="#82f6dd"/>
<rect x="417.9" y="211.8" width="12.6" height="6.3" fill="#89f9da"/>
<rect x="430.5" y="211.8" width="6.3" height="6.3" fill="#90fcd6"/>
<rect x="436.8" y="211.8" width="6.3" height="6.3" fill="#97fed2"/>
<rect x="443.1" y="211.8" width="6.3" height="6.3" fill="#adffc7"/>
<rect x="449.4" y="211.8" width="6.3" height="6.3" fill="#bbfcbe"/>
<rect x="367.5" y="218.1" width="6.3" height="6.3" fill="#89f9da"/>
<rect x="373.8" y="218.1" width="18.9" height="6.3" fill="#82f6dd"/>
<rect x="392.7" y="218.1" width="31.5" height="6.3" fill="#7bf2e0"/>
<rect x="424.2" y="218.1" width="6.3" height="6.3" fill="#82f6dd"/>
<rect x="430.5" y="218.1" width="6.3" height="6.3" fill="#89f9da"/>
<rect x="436.8" y="218.1" width="6.3" height="6.3" fill="#90fcd6"/>
<rect x="443.1" y="218.1" width="6.3" height="6.3" fill="#adffc7"/>
<rect x="449.4" y="218.1" width="6.3" height="6.3" fill="#bbfcbe"/>
<rect x="367.5" y="224.4" width="12.6" height="6.3" fill="#82f6dd"/>
<rect x="380.1" y="224.4" width="12.6" height="6.3" fill="#7bf2e0"/>
<rect x="392.7" y="224.4" width="37.8" height="6.3" fill="#74eee3"/>
<rect x="430.5" y="224.4" width="6.3" height="6.3" fill="#7bf2e0"/>
<rect x="436.8" y="224.4" width="6.3" height="6.3" fill="#82f6dd"/>
<rect x="443.1" y="224.4" width="6.3" height="6.3" fill="#a6ffcb"/>
<rect x="449.4" y="224.4" width="6.3" height="6.3" fill="#bbfcbe"/>
<rect x="367.5" y="230.7" width="6.3" height="6.3" fill="#82f6dd"/>
<rect x="373.8" y="230.7" width="6.3" height="6.3" fill="#7bf2e0"/>
<rect x="380.1" y="230.7" width="12.6" height="6.3" fill="#74eee3"/>
<rect x="392.7" y="230.7" width="12.6" height="6.3" fill="#6de9e6"/>
<rect x="405.3" y="230.7" width="18.9" height="6.3" fill="#65e3e9"/>
<rect x="424.2" y="230.7" width="6.3" height="6.3" fill="#6de9e6"/>
<rect x="430.5" y="230.7" width="6.3" height="6.3" fill="#74eee3"/>
<rect x="436.8" y="230.7" width="6.3" height="6.3" fill="#7bf2e0"/>
<rect x="443.1" y="230.7" width="6.3" height="6.3" fill="#9fffcf"/>
<rect x="449.4" y="230.7" width="6.3" height="6.3" fill="#bbfcbe"/>
<rect x="367.5" y="237" width="6.3" height="6.3" fill="#7bf2e0"/>
<rect x="373.8" y="237" width="12.6" height="6.3" fill="#74eee3"/>
<rect x="386.4" y="237" width="6.3" height="6.3" fill="#6de9e6"/>
<rect x="392.7" y="237" width="12.6" height="6.3" fill="#65e3e9"/>
<rect x="405.3" y="237" width="18.9" height="6.3" fill="#5eddec"/>
<rect x="424.2" y="237" width="6.3" height="6.3" fill="#65e3e9"/>
<rect x="430.5" y="237" width="6.3" height="6.3" fill="#6de9e6"/>
<rect x="436.8" y="237" width="6.3" height="6.3" fill="#74eee3"/>
<rect x="443.1" y="237" width="6.3" height="6.3" fill="#97fed2"/>
<rect x="449.4" y="237" width="6.3" height="6.3" fill="#adffc7"/>
<rect x="367.5" y="243.3" width="6.3" height="6.3" fill="#74eee3"/>
<rect x="373.8" y="243.3" width="12.6" height="6.3" fill="#6de9e6"/>
<rect x="386.4" y="243.3" width="6.3" height="6.3" fill="#65e3e9"/>
<rect x="392.7" y="243.3" width="12.6" height="6.3" fill="#5eddec"/>
<rect x="405.3" y="243.3" width="25.2" height="6.3" fill="#57d6ee"/>
<rect x="430.5" y="243.3" width="6.3" height="6.3" fill="#5eddec"/>
<rect x="436.8" y="243.3" width="6.3" height="6.3" fill="#65e3e9"/>
<rect x="443.1" y="243.3" width="6.3" height="6.3" fill="#89f9da"/>
<rect x="449.4" y="243.3" width="6.3" height="6.3" fill="#9fffcf"/>
<rect x="367.5" y="249.6" width="12.6" height="6.3" fill="#6de9e6"/>
<rect x="380.1" y="249.6" width="6.3" height="6.3" fill="#65e3e9"/>
<rect x="386.4" y="249.6" width="12.6" height="6.3" fill="#5eddec"/>
<rect x="399" y="249.6" width="18.9" height="6.3" fill="#57d6ee"/>
<rect x="417.9" y="249.6" width="6.3" height="6.3" fill="#50cff0"/>
<rect x="424.2" y="249.6" width="12.6" height="6.3" fill="#57d6ee"/>
<rect x="436.8" y="249.6" width="6.3" height="6.3" fill="#5eddec"/>
<rect x="443.1" y="249.6" width="6.3" height="6.3" fill="#7bf2e0"/>
<rect x="449.4" y="249.6" width="6.3" height="6.3" fill="#89f9da"/>
<rect x="367.5" y="255.9" width="6.3" height="6.3" fill="#6de9e6"/>
<rect x="373.8" y="255.9" width="6.3" height="6.3" fill="#65e3e9"/>
<rect x="380.1" y="255.9" width="12.6" height="6.3" fill="#5eddec"/>
<rect x="392.7" y="255.9" width="18.9" height="6.3" fill="#57d6ee"/>
<rect x="411.6" y="255.9" width="18.9" height="6.3" fill="#50cff0"/>
<rect x="430.5" y="255.9" width="12.6" height="6.3" fill="#57d6ee"/>
<rect x="443.1" y="255.9" width="6.3" height="6.3" fill="#6de9e6"/>
<rect x="449.4" y="255.9" width="6.3" height="6.3" fill="#7bf2e0"/>
<rect x="367.5" y="262.2" width="6.3" height="6.3" fill="#65e3e9"/>
<rect x="373.8" y="262.2" width="12.6" height="6.3" fill="#5eddec"/>
<rect x="386.4" y="262.2" width="18.9" height="6.3" fill="#57d6ee"/>
<rect x="405.3" y="262.2" width="31.5" height="6.3" fill="#50cff0"/>
<rect x="436.8" y="262.2" width="6.3" height="6.3" fill="#57d6ee"/>
<rect x="443.1" y="262.2" width="6.3" height="6.3" fill="#5eddec"/>
<rect x="449.4" y="262.2" width="6.3" height="6.3" fill="#65e3e9"/>
<rect x="367.5" y="268.5" width="6.3" height="6.3" fill="#5eddec"/>
<rect x="373.8" y="268.5" width="31.5" height="6.3" fill="#57d6ee"/>
<rect x="405.3" y="268.5" width="37.8" height="6.3" fill="#50cff0"/>
<rect x="443.1" y="268.5" width="6.3" height="6.3" fill="#57d6ee"/>
<rect x="449.4" y="268.5" width="6.3" height="6.3" fill="#5eddec"/>
</g>
<path d="M435 179.5C436.67 179.5 439.33 179.42 441 182C442.67 184.58 443.83 190.33 445 195C446.17 199.67 447 204.5 448 210C449 215.5 450.33 221.83 451 228C451.67 234.17 452.5 241.67 452 247C451.5 252.33 450.38 257 448 260C445.62 263 443.73 264.5 437.7 265C431.67 265.5 420.02 264.28 411.8 263C403.58 261.72 394.47 259.97 388.4 257.3C382.33 254.63 377.35 250.45 375.4 247C373.45 243.55 374.53 240.93 376.7 236.6C378.87 232.27 384.18 224.93 388.4 221C392.62 217.07 398.07 215.67 402 213C405.93 210.33 409 207.5 412 205C415 202.5 416.83 201.83 420 198C423.17 194.17 428.5 185.08 431 182C433.5 178.92 433.33 179.5 435 179.5Z" class="ct"/>
<path d="M438 191.5C439.67 192.92 441.43 198.58 443 202.5C444.57 206.42 446.12 209.32 447.4 215C448.68 220.68 450.58 229.98 450.7 236.6C450.82 243.22 449.83 250.38 448.1 254.7C446.37 259.02 445.07 261.42 440.3 262.5C435.53 263.58 426.42 262.07 419.5 261.2C412.58 260.33 404.2 259.25 398.8 257.3C393.4 255.35 388.83 252.95 387.1 249.5C385.37 246.05 386.45 240.92 388.4 236.6C390.35 232.28 394.87 227.53 398.8 223.6C402.73 219.67 408.63 215.77 412 213C415.37 210.23 415.5 210.17 419 207C422.5 203.83 429.83 196.58 433 194C436.17 191.42 436.33 190.08 438 191.5Z" class="ct"/>
<path d="M429.9 215.8C434.23 215.8 440.4 221.87 443 226.2C445.6 230.53 445.5 237.05 445.5 241.8C445.5 246.55 444.73 251.9 443 254.7C441.27 257.5 439.43 258.38 435.1 258.6C430.77 258.82 421.53 257.3 417 256C412.47 254.7 409.42 253.38 407.9 250.8C406.38 248.22 406.38 244.6 407.9 240.5C409.42 236.4 413.33 230.32 417 226.2C420.67 222.08 425.57 215.8 429.9 215.8Z" class="ct"/>
<path d="M432.5 226.2C435.75 226.63 442.03 232.72 444.2 236.6C446.37 240.48 446.15 246.48 445.5 249.5C444.85 252.52 442.9 254.05 440.3 254.7C437.7 255.35 432.72 254.92 429.9 253.4C427.08 251.88 424.27 248.83 423.4 245.6C422.53 242.37 423.18 237.23 424.7 234C426.22 230.77 429.25 225.77 432.5 226.2Z" class="ct"/>
<rect x="363.2" y="165.3" width="101.5" height="105.9" class="fr"/>
<line x1="363.2" y1="271.2" x2="363.2" y2="272.8" class="tk"/>
<line x1="383.5" y1="271.2" x2="383.5" y2="272.8" class="tk"/>
<line x1="403.8" y1="271.2" x2="403.8" y2="272.8" class="tk"/>
<line x1="424.1" y1="271.2" x2="424.1" y2="272.8" class="tk"/>
<line x1="444.4" y1="271.2" x2="444.4" y2="272.8" class="tk"/>
<line x1="464.7" y1="271.2" x2="464.7" y2="272.8" class="tk"/>
<line x1="361.6" y1="168.24" x2="363.2" y2="168.24" class="tk"/>
<line x1="361.6" y1="182.95" x2="363.2" y2="182.95" class="tk"/>
<line x1="361.6" y1="197.66" x2="363.2" y2="197.66" class="tk"/>
<line x1="361.6" y1="212.37" x2="363.2" y2="212.37" class="tk"/>
<line x1="361.6" y1="227.07" x2="363.2" y2="227.07" class="tk"/>
<line x1="361.6" y1="241.78" x2="363.2" y2="241.78" class="tk"/>
<line x1="361.6" y1="256.49" x2="363.2" y2="256.49" class="tk"/>
<line x1="361.6" y1="271.2" x2="363.2" y2="271.2" class="tk"/>
<rect x="470.5" y="165.3" width="5.6" height="105.9" fill="url(#cbg)" stroke="rgba(60,60,60,0.35)" stroke-width="0.6"/>
<line x1="476.1" y1="257.39" x2="477.3" y2="257.39" class="tkc"/>
<line x1="476.1" y1="242.04" x2="477.3" y2="242.04" class="tkc"/>
<line x1="476.1" y1="226.69" x2="477.3" y2="226.69" class="tkc"/>
<line x1="476.1" y1="211.34" x2="477.3" y2="211.34" class="tkc"/>
<line x1="476.1" y1="196" x2="477.3" y2="196" class="tkc"/>
<line x1="476.1" y1="180.65" x2="477.3" y2="180.65" class="tkc"/>
<line x1="476.1" y1="165.3" x2="477.3" y2="165.3" class="tkc"/>
<line x1="329.5" y1="9.3" x2="329.5" y2="288" class="dl"/>
</g></svg>
<div style="position:absolute;left:0;top:0;width:500px;height:293px;will-change:transform;">
<div class="t" style="font-size:4px;left:43.83px;top:133.18px;transform:translateX(-50%) scaleX(1.1);transform-origin:50% 0;">−1</div>
<div class="t" style="font-size:4px;left:65.75px;top:133.18px;transform:translateX(-50%) scaleX(1.1);transform-origin:50% 0;">0</div>
<div class="t" style="font-size:4px;left:87.67px;top:133.18px;transform:translateX(-50%) scaleX(1.1);transform-origin:50% 0;">1</div>
<div class="t" style="font-size:4px;left:109.58px;top:133.18px;transform:translateX(-50%) scaleX(1.1);transform-origin:50% 0;">2</div>
<div class="t" style="font-size:4px;left:131.5px;top:133.18px;transform:translateX(-50%) scaleX(1.1);transform-origin:50% 0;">3</div>
<div class="t" style="font-size:4px;right:476.2px;top:21.8px;transform:translateY(-50%) scaleX(1.1);transform-origin:100% 0;">0.0</div>
<div class="t" style="font-size:4px;right:476.2px;top:41.49px;transform:translateY(-50%) scaleX(1.1);transform-origin:100% 0;">−0.5</div>
<div class="t" style="font-size:4px;right:476.2px;top:61.19px;transform:translateY(-50%) scaleX(1.1);transform-origin:100% 0;">−1.0</div>
<div class="t" style="font-size:4px;right:476.2px;top:80.88px;transform:translateY(-50%) scaleX(1.1);transform-origin:100% 0;">−1.5</div>
<div class="t" style="font-size:4px;right:476.2px;top:100.58px;transform:translateY(-50%) scaleX(1.1);transform-origin:100% 0;">−2.0</div>
<div class="t" style="font-size:4px;right:476.2px;top:120.27px;transform:translateY(-50%) scaleX(1.1);transform-origin:100% 0;">−2.5</div>
<div class="t" style="font-size:4.5px;left:146.3px;top:117.79px;transform:translateY(-50%) scaleX(0.95);transform-origin:0 0;">50</div>
<div class="t" style="font-size:4.5px;left:146.3px;top:101.89px;transform:translateY(-50%) scaleX(0.95);transform-origin:0 0;">100</div>
<div class="t" style="font-size:4.5px;left:146.3px;top:85.99px;transform:translateY(-50%) scaleX(0.95);transform-origin:0 0;">150</div>
<div class="t" style="font-size:4.5px;left:146.3px;top:70.1px;transform:translateY(-50%) scaleX(0.95);transform-origin:0 0;">200</div>
<div class="t" style="font-size:4.5px;left:146.3px;top:54.2px;transform:translateY(-50%) scaleX(0.95);transform-origin:0 0;">250</div>
<div class="t" style="font-size:4.5px;left:146.3px;top:38.3px;transform:translateY(-50%) scaleX(0.95);transform-origin:0 0;">300</div>
<div class="t" style="font-size:4.5px;left:146.3px;top:22.4px;transform:translateY(-50%) scaleX(0.95);transform-origin:0 0;">350</div>
<div class="t" style="font-size:4px;left:201.98px;top:132.98px;transform:translateX(-50%) scaleX(1.1);transform-origin:50% 0;">−1</div>
<div class="t" style="font-size:4px;left:223.96px;top:132.98px;transform:translateX(-50%) scaleX(1.1);transform-origin:50% 0;">0</div>
<div class="t" style="font-size:4px;left:245.94px;top:132.98px;transform:translateX(-50%) scaleX(1.1);transform-origin:50% 0;">1</div>
<div class="t" style="font-size:4px;left:267.92px;top:132.98px;transform:translateX(-50%) scaleX(1.1);transform-origin:50% 0;">2</div>
<div class="t" style="font-size:4px;left:289.9px;top:132.98px;transform:translateX(-50%) scaleX(1.1);transform-origin:50% 0;">3</div>
<div class="t" style="font-size:4px;right:318.1px;top:21.8px;transform:translateY(-50%) scaleX(1.1);transform-origin:100% 0;">0.0</div>
<div class="t" style="font-size:4px;right:318.1px;top:41.46px;transform:translateY(-50%) scaleX(1.1);transform-origin:100% 0;">−0.5</div>
<div class="t" style="font-size:4px;right:318.1px;top:61.12px;transform:translateY(-50%) scaleX(1.1);transform-origin:100% 0;">−1.0</div>
<div class="t" style="font-size:4px;right:318.1px;top:80.77px;transform:translateY(-50%) scaleX(1.1);transform-origin:100% 0;">−1.5</div>
<div class="t" style="font-size:4px;right:318.1px;top:100.43px;transform:translateY(-50%) scaleX(1.1);transform-origin:100% 0;">−2.0</div>
<div class="t" style="font-size:4px;right:318.1px;top:120.09px;transform:translateY(-50%) scaleX(1.1);transform-origin:100% 0;">−2.5</div>
<div class="t" style="font-size:4.5px;left:304.3px;top:117.44px;transform:translateY(-50%) scaleX(0.95);transform-origin:0 0;">50</div>
<div class="t" style="font-size:4.5px;left:304.3px;top:101.6px;transform:translateY(-50%) scaleX(0.95);transform-origin:0 0;">100</div>
<div class="t" style="font-size:4.5px;left:304.3px;top:85.76px;transform:translateY(-50%) scaleX(0.95);transform-origin:0 0;">150</div>
<div class="t" style="font-size:4.5px;left:304.3px;top:69.92px;transform:translateY(-50%) scaleX(0.95);transform-origin:0 0;">200</div>
<div class="t" style="font-size:4.5px;left:304.3px;top:54.08px;transform:translateY(-50%) scaleX(0.95);transform-origin:0 0;">250</div>
<div class="t" style="font-size:4.5px;left:304.3px;top:38.24px;transform:translateY(-50%) scaleX(0.95);transform-origin:0 0;">300</div>
<div class="t" style="font-size:4.5px;left:304.3px;top:22.4px;transform:translateY(-50%) scaleX(0.95);transform-origin:0 0;">350</div>
<div class="t" style="font-size:5.6px;left:363.2px;top:131.67px;transform:translateX(-50%) scaleX(0.95);transform-origin:50% 0;">−3</div>
<div class="t" style="font-size:5.6px;left:381.65px;top:131.67px;transform:translateX(-50%) scaleX(0.95);transform-origin:50% 0;">−2</div>
<div class="t" style="font-size:5.6px;left:400.11px;top:131.67px;transform:translateX(-50%) scaleX(0.95);transform-origin:50% 0;">−1</div>
<div class="t" style="font-size:5.6px;left:418.56px;top:131.67px;transform:translateX(-50%) scaleX(0.95);transform-origin:50% 0;">0</div>
<div class="t" style="font-size:5.6px;left:437.02px;top:131.67px;transform:translateX(-50%) scaleX(0.95);transform-origin:50% 0;">1</div>
<div class="t" style="font-size:5.6px;left:455.47px;top:131.67px;transform:translateX(-50%) scaleX(0.95);transform-origin:50% 0;">2</div>
<div class="t" style="font-size:5.6px;right:138.9px;top:23.6px;transform:translateY(-50%) scaleX(0.95);transform-origin:100% 0;">−0.5</div>
<div class="t" style="font-size:5.6px;right:138.9px;top:44.84px;transform:translateY(-50%) scaleX(0.95);transform-origin:100% 0;">−1.0</div>
<div class="t" style="font-size:5.6px;right:138.9px;top:66.08px;transform:translateY(-50%) scaleX(0.95);transform-origin:100% 0;">−1.5</div>
<div class="t" style="font-size:5.6px;right:138.9px;top:87.32px;transform:translateY(-50%) scaleX(0.95);transform-origin:100% 0;">−2.0</div>
<div class="t" style="font-size:5.6px;right:138.9px;top:108.56px;transform:translateY(-50%) scaleX(0.95);transform-origin:100% 0;">−2.5</div>
<div class="t" style="font-size:5.6px;right:138.9px;top:129.8px;transform:translateY(-50%) scaleX(0.95);transform-origin:100% 0;">−3.0</div>
<div class="t" style="font-size:5.4px;left:478.8px;top:115.85px;transform:translateY(-50%) scaleX(0.85);transform-origin:0 0;">50</div>
<div class="t" style="font-size:5.4px;left:478.8px;top:100.46px;transform:translateY(-50%) scaleX(0.85);transform-origin:0 0;">100</div>
<div class="t" style="font-size:5.4px;left:478.8px;top:85.07px;transform:translateY(-50%) scaleX(0.85);transform-origin:0 0;">150</div>
<div class="t" style="font-size:5.4px;left:478.8px;top:69.67px;transform:translateY(-50%) scaleX(0.85);transform-origin:0 0;">200</div>
<div class="t" style="font-size:5.4px;left:478.8px;top:54.28px;transform:translateY(-50%) scaleX(0.85);transform-origin:0 0;">250</div>
<div class="t" style="font-size:5.4px;left:478.8px;top:38.89px;transform:translateY(-50%) scaleX(0.85);transform-origin:0 0;">300</div>
<div class="t" style="font-size:5.4px;left:478.8px;top:23.5px;transform:translateY(-50%) scaleX(0.85);transform-origin:0 0;">350</div>
<div class="t" style="font-size:4px;left:26.5px;top:275.68px;transform:translateX(-50%) scaleX(1.1);transform-origin:50% 0;">−3</div>
<div class="t" style="font-size:4px;left:41.51px;top:275.68px;transform:translateX(-50%) scaleX(1.1);transform-origin:50% 0;">−2</div>
<div class="t" style="font-size:4px;left:56.53px;top:275.68px;transform:translateX(-50%) scaleX(1.1);transform-origin:50% 0;">−1</div>
<div class="t" style="font-size:4px;left:71.54px;top:275.68px;transform:translateX(-50%) scaleX(1.1);transform-origin:50% 0;">0</div>
<div class="t" style="font-size:4px;left:86.56px;top:275.68px;transform:translateX(-50%) scaleX(1.1);transform-origin:50% 0;">1</div>
<div class="t" style="font-size:4px;left:101.57px;top:275.68px;transform:translateX(-50%) scaleX(1.1);transform-origin:50% 0;">2</div>
<div class="t" style="font-size:4px;left:116.59px;top:275.68px;transform:translateX(-50%) scaleX(1.1);transform-origin:50% 0;">3</div>
<div class="t" style="font-size:4px;left:131.6px;top:275.68px;transform:translateX(-50%) scaleX(1.1);transform-origin:50% 0;">4</div>
<div class="t" style="font-size:4px;right:476px;top:167.42px;transform:translateY(-50%) scaleX(1.1);transform-origin:100% 0;">0.5</div>
<div class="t" style="font-size:4px;right:476px;top:183.54px;transform:translateY(-50%) scaleX(1.1);transform-origin:100% 0;">0.0</div>
<div class="t" style="font-size:4px;right:476px;top:199.66px;transform:translateY(-50%) scaleX(1.1);transform-origin:100% 0;">−0.5</div>
<div class="t" style="font-size:4px;right:476px;top:215.78px;transform:translateY(-50%) scaleX(1.1);transform-origin:100% 0;">−1.0</div>
<div class="t" style="font-size:4px;right:476px;top:231.89px;transform:translateY(-50%) scaleX(1.1);transform-origin:100% 0;">−1.5</div>
<div class="t" style="font-size:4px;right:476px;top:248.01px;transform:translateY(-50%) scaleX(1.1);transform-origin:100% 0;">−2.0</div>
<div class="t" style="font-size:4px;right:476px;top:264.13px;transform:translateY(-50%) scaleX(1.1);transform-origin:100% 0;">−2.5</div>
<div class="t" style="font-size:4.5px;left:146.3px;top:260.38px;transform:translateY(-50%) scaleX(0.95);transform-origin:0 0;">50</div>
<div class="t" style="font-size:4.5px;left:146.3px;top:244.47px;transform:translateY(-50%) scaleX(0.95);transform-origin:0 0;">100</div>
<div class="t" style="font-size:4.5px;left:146.3px;top:228.55px;transform:translateY(-50%) scaleX(0.95);transform-origin:0 0;">150</div>
<div class="t" style="font-size:4.5px;left:146.3px;top:212.64px;transform:translateY(-50%) scaleX(0.95);transform-origin:0 0;">200</div>
<div class="t" style="font-size:4.5px;left:146.3px;top:196.73px;transform:translateY(-50%) scaleX(0.95);transform-origin:0 0;">250</div>
<div class="t" style="font-size:4.5px;left:146.3px;top:180.81px;transform:translateY(-50%) scaleX(0.95);transform-origin:0 0;">300</div>
<div class="t" style="font-size:4.5px;left:146.3px;top:164.9px;transform:translateY(-50%) scaleX(0.95);transform-origin:0 0;">350</div>
<div class="t" style="font-size:4px;left:184.8px;top:275.98px;transform:translateX(-50%) scaleX(1.1);transform-origin:50% 0;">−3</div>
<div class="t" style="font-size:4px;left:199.76px;top:275.98px;transform:translateX(-50%) scaleX(1.1);transform-origin:50% 0;">−2</div>
<div class="t" style="font-size:4px;left:214.71px;top:275.98px;transform:translateX(-50%) scaleX(1.1);transform-origin:50% 0;">−1</div>
<div class="t" style="font-size:4px;left:229.67px;top:275.98px;transform:translateX(-50%) scaleX(1.1);transform-origin:50% 0;">0</div>
<div class="t" style="font-size:4px;left:244.63px;top:275.98px;transform:translateX(-50%) scaleX(1.1);transform-origin:50% 0;">1</div>
<div class="t" style="font-size:4px;left:259.59px;top:275.98px;transform:translateX(-50%) scaleX(1.1);transform-origin:50% 0;">2</div>
<div class="t" style="font-size:4px;left:274.54px;top:275.98px;transform:translateX(-50%) scaleX(1.1);transform-origin:50% 0;">3</div>
<div class="t" style="font-size:4px;left:289.5px;top:275.98px;transform:translateX(-50%) scaleX(1.1);transform-origin:50% 0;">4</div>
<div class="t" style="font-size:4px;right:317.7px;top:167.43px;transform:translateY(-50%) scaleX(1.1);transform-origin:100% 0;">0.5</div>
<div class="t" style="font-size:4px;right:317.7px;top:183.59px;transform:translateY(-50%) scaleX(1.1);transform-origin:100% 0;">0.0</div>
<div class="t" style="font-size:4px;right:317.7px;top:199.76px;transform:translateY(-50%) scaleX(1.1);transform-origin:100% 0;">−0.5</div>
<div class="t" style="font-size:4px;right:317.7px;top:215.92px;transform:translateY(-50%) scaleX(1.1);transform-origin:100% 0;">−1.0</div>
<div class="t" style="font-size:4px;right:317.7px;top:232.08px;transform:translateY(-50%) scaleX(1.1);transform-origin:100% 0;">−1.5</div>
<div class="t" style="font-size:4px;right:317.7px;top:248.24px;transform:translateY(-50%) scaleX(1.1);transform-origin:100% 0;">−2.0</div>
<div class="t" style="font-size:4px;right:317.7px;top:264.4px;transform:translateY(-50%) scaleX(1.1);transform-origin:100% 0;">−2.5</div>
<div class="t" style="font-size:4.5px;left:304.3px;top:260.37px;transform:translateY(-50%) scaleX(0.95);transform-origin:0 0;">50</div>
<div class="t" style="font-size:4.5px;left:304.3px;top:244.44px;transform:translateY(-50%) scaleX(0.95);transform-origin:0 0;">100</div>
<div class="t" style="font-size:4.5px;left:304.3px;top:228.51px;transform:translateY(-50%) scaleX(0.95);transform-origin:0 0;">150</div>
<div class="t" style="font-size:4.5px;left:304.3px;top:212.58px;transform:translateY(-50%) scaleX(0.95);transform-origin:0 0;">200</div>
<div class="t" style="font-size:4.5px;left:304.3px;top:196.66px;transform:translateY(-50%) scaleX(0.95);transform-origin:0 0;">250</div>
<div class="t" style="font-size:4.5px;left:304.3px;top:180.73px;transform:translateY(-50%) scaleX(0.95);transform-origin:0 0;">300</div>
<div class="t" style="font-size:4.5px;left:304.3px;top:164.8px;transform:translateY(-50%) scaleX(0.95);transform-origin:0 0;">350</div>
<div class="t" style="font-size:5.6px;left:363.2px;top:274.47px;transform:translateX(-50%) scaleX(0.95);transform-origin:50% 0;">−6</div>
<div class="t" style="font-size:5.6px;left:383.5px;top:274.47px;transform:translateX(-50%) scaleX(0.95);transform-origin:50% 0;">−4</div>
<div class="t" style="font-size:5.6px;left:403.8px;top:274.47px;transform:translateX(-50%) scaleX(0.95);transform-origin:50% 0;">−2</div>
<div class="t" style="font-size:5.6px;left:424.1px;top:274.47px;transform:translateX(-50%) scaleX(0.95);transform-origin:50% 0;">0</div>
<div class="t" style="font-size:5.6px;left:444.4px;top:274.47px;transform:translateX(-50%) scaleX(0.95);transform-origin:50% 0;">2</div>
<div class="t" style="font-size:5.6px;left:464.7px;top:274.47px;transform:translateX(-50%) scaleX(0.95);transform-origin:50% 0;">4</div>
<div class="t" style="font-size:5.6px;right:138.9px;top:169.64px;transform:translateY(-50%) scaleX(0.95);transform-origin:100% 0;">0.5</div>
<div class="t" style="font-size:5.6px;right:138.9px;top:184.35px;transform:translateY(-50%) scaleX(0.95);transform-origin:100% 0;">0.0</div>
<div class="t" style="font-size:5.6px;right:138.9px;top:199.06px;transform:translateY(-50%) scaleX(0.95);transform-origin:100% 0;">−0.5</div>
<div class="t" style="font-size:5.6px;right:138.9px;top:213.77px;transform:translateY(-50%) scaleX(0.95);transform-origin:100% 0;">−1.0</div>
<div class="t" style="font-size:5.6px;right:138.9px;top:228.47px;transform:translateY(-50%) scaleX(0.95);transform-origin:100% 0;">−1.5</div>
<div class="t" style="font-size:5.6px;right:138.9px;top:243.18px;transform:translateY(-50%) scaleX(0.95);transform-origin:100% 0;">−2.0</div>
<div class="t" style="font-size:5.6px;right:138.9px;top:257.89px;transform:translateY(-50%) scaleX(0.95);transform-origin:100% 0;">−2.5</div>
<div class="t" style="font-size:5.6px;right:138.9px;top:272.6px;transform:translateY(-50%) scaleX(0.95);transform-origin:100% 0;">−3.0</div>
<div class="t" style="font-size:5.4px;left:478.8px;top:258.69px;transform:translateY(-50%) scaleX(0.85);transform-origin:0 0;">50</div>
<div class="t" style="font-size:5.4px;left:478.8px;top:243.34px;transform:translateY(-50%) scaleX(0.85);transform-origin:0 0;">100</div>
<div class="t" style="font-size:5.4px;left:478.8px;top:227.99px;transform:translateY(-50%) scaleX(0.85);transform-origin:0 0;">150</div>
<div class="t" style="font-size:5.4px;left:478.8px;top:212.64px;transform:translateY(-50%) scaleX(0.85);transform-origin:0 0;">200</div>
<div class="t" style="font-size:5.4px;left:478.8px;top:197.3px;transform:translateY(-50%) scaleX(0.85);transform-origin:0 0;">250</div>
<div class="t" style="font-size:5.4px;left:478.8px;top:181.95px;transform:translateY(-50%) scaleX(0.85);transform-origin:0 0;">300</div>
<div class="t" style="font-size:5.4px;left:478.8px;top:166.6px;transform:translateY(-50%) scaleX(0.85);transform-origin:0 0;">350</div>
<div style="position:absolute;left:4.17px;top:5.42px;font-size:11.000px;font-family:'Liberation Sans',sans-serif;color:#2a2a2a;line-height:1;white-space:nowrap;transform-origin:0 0;transform:scale(0.9354,1);-webkit-text-stroke:0.2px #2a2a2a;">(a)</div>
<div style="position:absolute;left:181.78px;top:5.17px;font-size:11.000px;font-family:'Liberation Sans',sans-serif;color:#2a2a2a;line-height:1;white-space:nowrap;transform-origin:0 0;transform:scale(0.9681,1);-webkit-text-stroke:0.2px #2a2a2a;">(b)</div>
<div style="position:absolute;left:343.12px;top:4.88px;font-size:11.000px;font-family:'Liberation Sans',sans-serif;color:#2a2a2a;line-height:1;white-space:nowrap;transform-origin:0 0;transform:scale(0.9312,1);-webkit-text-stroke:0.2px #2a2a2a;">(c)</div>
<div style="position:absolute;left:4.67px;top:147.68px;font-size:11.000px;font-family:'Liberation Sans',sans-serif;color:#2a2a2a;line-height:1;white-space:nowrap;transform-origin:0 0;transform:scale(0.9594,1);-webkit-text-stroke:0.2px #2a2a2a;">(d)</div>
<div style="position:absolute;left:184.55px;top:147.68px;font-size:11.000px;font-family:'Liberation Sans',sans-serif;color:#2a2a2a;line-height:1;white-space:nowrap;transform-origin:0 0;transform:scale(0.9449,1);-webkit-text-stroke:0.2px #2a2a2a;">(e)</div>
<div style="position:absolute;left:343.62px;top:147.68px;font-size:11.000px;font-family:'Liberation Sans',sans-serif;color:#2a2a2a;line-height:1;white-space:nowrap;transform-origin:0 0;transform:scale(1.0488,1);-webkit-text-stroke:0.2px #2a2a2a;">(f)</div>
<div style="position:absolute;left:55.75px;top:15.25px;font-size:5.100px;font-family:'Liberation Sans',sans-serif;color:#2a2a2a;line-height:1;white-space:nowrap;transform-origin:0 0;transform:scale(1.0290,1);-webkit-text-stroke:0.2px #2a2a2a;">East Asia: GiOcean</div>
<div style="position:absolute;left:206.75px;top:15.15px;font-size:5.100px;font-family:'Liberation Sans',sans-serif;color:#2a2a2a;line-height:1;white-space:nowrap;transform-origin:0 0;transform:scale(1.0746,1);-webkit-text-stroke:0.2px #2a2a2a;">North America: GiOcean</div>
<div style="position:absolute;left:395.25px;top:16.25px;font-size:5.100px;font-family:'Liberation Sans',sans-serif;color:#2a2a2a;line-height:1;white-space:nowrap;transform-origin:0 0;transform:scale(1.1849,1);-webkit-text-stroke:0.2px #2a2a2a;">NH: GiOcean</div>
<div style="position:absolute;left:61.50px;top:157.75px;font-size:5.100px;font-family:'Liberation Sans',sans-serif;color:#2a2a2a;line-height:1;white-space:nowrap;transform-origin:0 0;transform:scale(1.0307,1);-webkit-text-stroke:0.2px #2a2a2a;">East Asia: Obs</div>
<div style="position:absolute;left:213.10px;top:157.90px;font-size:5.100px;font-family:'Liberation Sans',sans-serif;color:#2a2a2a;line-height:1;white-space:nowrap;transform-origin:0 0;transform:scale(1.0791,1);-webkit-text-stroke:0.2px #2a2a2a;">North America: Obs</div>
<div style="position:absolute;left:401.85px;top:158.55px;font-size:5.100px;font-family:'Liberation Sans',sans-serif;color:#2a2a2a;line-height:1;white-space:nowrap;transform-origin:0 0;transform:scale(1.1799,1);-webkit-text-stroke:0.2px #2a2a2a;">NH: Obs</div>
<div style="position:absolute;left:64.50px;top:139.12px;font-size:5.300px;font-family:'Liberation Sans',sans-serif;color:#2a2a2a;line-height:1;white-space:nowrap;transform-origin:0 0;transform:scale(1.0615,1);-webkit-text-stroke:0.2px #2a2a2a;">ln(P) ln[mm/d]</div>
<div style="position:absolute;left:222.38px;top:139.12px;font-size:5.300px;font-family:'Liberation Sans',sans-serif;color:#2a2a2a;line-height:1;white-space:nowrap;transform-origin:0 0;transform:scale(1.0462,1);-webkit-text-stroke:0.2px #2a2a2a;">ln(P) ln[mm/d]</div>
<div style="position:absolute;left:396.45px;top:138.03px;font-size:5.300px;font-family:'Liberation Sans',sans-serif;color:#2a2a2a;line-height:1;white-space:nowrap;transform-origin:0 0;transform:scale(1.1847,1);-webkit-text-stroke:0.2px #2a2a2a;">ln(P)ln[mm/d]</div>
<div style="position:absolute;left:63.50px;top:282.13px;font-size:5.300px;font-family:'Liberation Sans',sans-serif;color:#2a2a2a;line-height:1;white-space:nowrap;transform-origin:0 0;transform:scale(1.0731,1);-webkit-text-stroke:0.2px #2a2a2a;">ln(P) ln[mm/d]</div>
<div style="position:absolute;left:221.50px;top:282.13px;font-size:5.300px;font-family:'Liberation Sans',sans-serif;color:#2a2a2a;line-height:1;white-space:nowrap;transform-origin:0 0;transform:scale(1.0615,1);-webkit-text-stroke:0.2px #2a2a2a;">ln(P) ln[mm/d]</div>
<div style="position:absolute;left:394.50px;top:280.32px;font-size:5.300px;font-family:'Liberation Sans',sans-serif;color:#2a2a2a;line-height:1;white-space:nowrap;transform-origin:0 0;transform:scale(1.2462,1);-webkit-text-stroke:0.2px #2a2a2a;">ln(P) ln[mm/d]</div>
<div style="position:absolute;left:9.27px;top:85.38px;font-size:4.200px;font-family:'Liberation Sans',sans-serif;color:#2a2a2a;line-height:1;white-space:nowrap;transform-origin:0 0;transform:rotate(-90deg) scale(1.3012,1);-webkit-text-stroke:0.2px #2a2a2a;">ln(AOD)</div>
<div style="position:absolute;left:166.47px;top:86.05px;font-size:4.200px;font-family:'Liberation Sans',sans-serif;color:#2a2a2a;line-height:1;white-space:nowrap;transform-origin:0 0;transform:rotate(-90deg) scale(1.3354,1);-webkit-text-stroke:0.2px #2a2a2a;">ln(AOD)</div>
<div style="position:absolute;left:344.12px;top:87.08px;font-size:5.400px;font-family:'Liberation Sans',sans-serif;color:#2a2a2a;line-height:1;white-space:nowrap;transform-origin:0 0;transform:rotate(-90deg) scale(1.1666,1);-webkit-text-stroke:0.2px #2a2a2a;">ln(AOD)</div>
<div style="position:absolute;left:8.88px;top:228.65px;font-size:4.200px;font-family:'Liberation Sans',sans-serif;color:#2a2a2a;line-height:1;white-space:nowrap;transform-origin:0 0;transform:rotate(-90deg) scale(1.3354,1);-webkit-text-stroke:0.2px #2a2a2a;">ln(AOD)</div>
<div style="position:absolute;left:166.47px;top:228.05px;font-size:4.200px;font-family:'Liberation Sans',sans-serif;color:#2a2a2a;line-height:1;white-space:nowrap;transform-origin:0 0;transform:rotate(-90deg) scale(1.3354,1);-webkit-text-stroke:0.2px #2a2a2a;">ln(AOD)</div>
<div style="position:absolute;left:344.12px;top:228.95px;font-size:5.400px;font-family:'Liberation Sans',sans-serif;color:#2a2a2a;line-height:1;white-space:nowrap;transform-origin:0 0;transform:rotate(-90deg) scale(1.1315,1);-webkit-text-stroke:0.2px #2a2a2a;">ln(AOD)</div>
<div style="position:absolute;left:155.82px;top:86.95px;font-size:4.700px;font-family:'Liberation Sans',sans-serif;color:#2a2a2a;line-height:1;white-space:nowrap;transform-origin:0 0;transform:rotate(-90deg) scale(1.1949,1);-webkit-text-stroke:0.2px #2a2a2a;">Nd [cm<sup style="font-size:0.7em;vertical-align:0.45em;line-height:0">−3</sup>]</div>
<div style="position:absolute;left:314.12px;top:86.65px;font-size:4.700px;font-family:'Liberation Sans',sans-serif;color:#2a2a2a;line-height:1;white-space:nowrap;transform-origin:0 0;transform:rotate(-90deg) scale(1.2177,1);-webkit-text-stroke:0.2px #2a2a2a;">Nd [cm<sup style="font-size:0.7em;vertical-align:0.45em;line-height:0">−3</sup>]</div>
<div style="position:absolute;left:491.25px;top:87.03px;font-size:5.600px;font-family:'Liberation Sans',sans-serif;color:#2a2a2a;line-height:1;white-space:nowrap;transform-origin:0 0;transform:rotate(-90deg) scale(1.1353,1);-webkit-text-stroke:0.2px #2a2a2a;">Nd [cm<sup style="font-size:0.7em;vertical-align:0.45em;line-height:0">−3</sup>]</div>
<div style="position:absolute;left:155.53px;top:228.78px;font-size:4.700px;font-family:'Liberation Sans',sans-serif;color:#2a2a2a;line-height:1;white-space:nowrap;transform-origin:0 0;transform:rotate(-90deg) scale(1.1904,1);-webkit-text-stroke:0.2px #2a2a2a;">Nd [cm<sup style="font-size:0.7em;vertical-align:0.45em;line-height:0">−3</sup>]</div>
<div style="position:absolute;left:314.12px;top:228.78px;font-size:4.700px;font-family:'Liberation Sans',sans-serif;color:#2a2a2a;line-height:1;white-space:nowrap;transform-origin:0 0;transform:rotate(-90deg) scale(1.1904,1);-webkit-text-stroke:0.2px #2a2a2a;">Nd [cm<sup style="font-size:0.7em;vertical-align:0.45em;line-height:0">−3</sup>]</div>
<div style="position:absolute;left:491.13px;top:227.95px;font-size:5.600px;font-family:'Liberation Sans',sans-serif;color:#2a2a2a;line-height:1;white-space:nowrap;transform-origin:0 0;transform:rotate(-90deg) scale(1.0767,1);-webkit-text-stroke:0.2px #2a2a2a;">Nd [cm<sup style="font-size:0.7em;vertical-align:0.45em;line-height:0">−3</sup>]</div>
<div class="cl" style="left:46.4px;top:61px;font-size:3.6px;transform:translate(-50%,-50%) rotate(-78deg);">5 %</div>
<div class="cl" style="left:71.2px;top:61.8px;font-size:3.6px;transform:translate(-50%,-50%) rotate(-78deg);">25 %</div>
<div class="cl" style="left:59.2px;top:92.6px;font-size:3.6px;transform:translate(-50%,-50%) rotate(-78deg);">5 %</div>
<div class="cl" style="left:74.6px;top:95.2px;font-size:3.6px;transform:translate(-50%,-50%) rotate(-75deg);">50 %</div>
<div class="cl" style="left:402.5px;top:45.5px;font-size:4px;transform:translate(-50%,-50%) rotate(-45deg);">75 %</div>
<div class="cl" style="left:443.5px;top:70.5px;font-size:4px;transform:translate(-50%,-50%) rotate(-30deg);">50 %</div>
<div class="cl" style="left:461.5px;top:77.5px;font-size:4px;transform:translate(-50%,-50%) rotate(-80deg);">25 %</div>
<div class="cl" style="left:438px;top:113px;font-size:4px;transform:translate(-50%,-50%) rotate(0deg);">75 %</div>
<div class="cl" style="left:49px;top:222.5px;font-size:3.6px;transform:translate(-50%,-50%) rotate(-60deg);">5 %</div>
<div class="cl" style="left:67.5px;top:228px;font-size:3.6px;transform:translate(-50%,-50%) rotate(-72deg);">25 %</div>
<div class="cl" style="left:106.5px;top:221.5px;font-size:3.6px;transform:translate(-50%,-50%) rotate(-80deg);">50 %</div>
<div class="cl" style="left:439.5px;top:208.5px;font-size:4px;transform:translate(-50%,-50%) rotate(-20deg);">75 %</div>
<div class="cl" style="left:439.5px;top:224px;font-size:4px;transform:translate(-50%,-50%) rotate(-25deg);">50 %</div>
<div class="cl" style="left:450px;top:227px;font-size:4px;transform:translate(-50%,-50%) rotate(-75deg);">25 %</div>
<div class="cl" style="left:444.5px;top:260.5px;font-size:4px;transform:translate(-50%,-50%) rotate(-25deg);">90 %</div>
<div class="cl" style="left:246px;top:78px;font-size:3.2px;transform:translate(-50%,-50%) rotate(-60deg);">25 %</div>
<div class="cl" style="left:251px;top:93px;font-size:3.2px;transform:translate(-50%,-50%) rotate(-80deg);">50 %</div>
<div class="cl" style="left:272px;top:233px;font-size:3.2px;transform:translate(-50%,-50%) rotate(-80deg);">5 %</div>
<div class="cl" style="left:255px;top:240px;font-size:3.2px;transform:translate(-50%,-50%) rotate(-10deg);">75 %</div>
</div>
</body></html>
